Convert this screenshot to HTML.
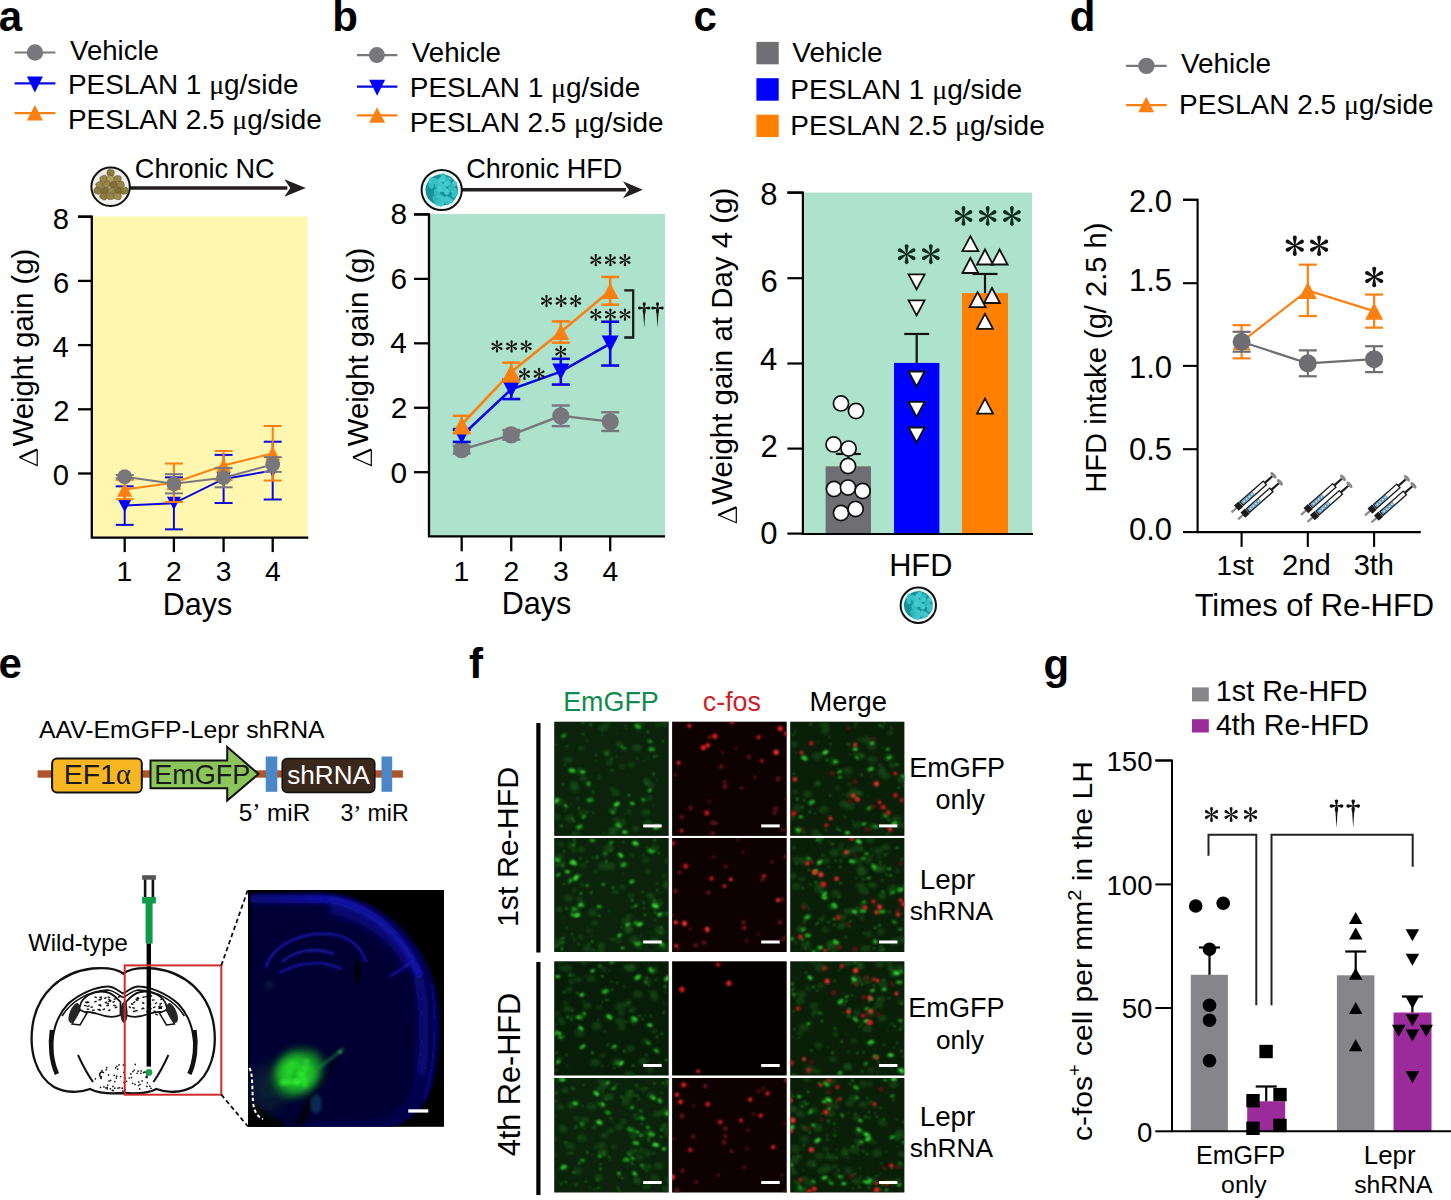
<!DOCTYPE html>
<html><head><meta charset="utf-8"><style>
html,body{margin:0;padding:0;background:#fff;overflow:hidden}
svg{display:block}
text{font-family:"Liberation Sans",sans-serif}
</style></head><body>
<svg width="1451" height="1200" viewBox="0 0 1451 1200">
<rect width="1451" height="1200" fill="#fff"/>
<defs><g id="ast"><path transform="rotate(0)" d="M-0.28,0 L-1.15,-4.6 A1.2,1.2 0 1 1 1.15,-4.6 L0.28,0 Z"/><path transform="rotate(60)" d="M-0.28,0 L-1.15,-4.6 A1.2,1.2 0 1 1 1.15,-4.6 L0.28,0 Z"/><path transform="rotate(120)" d="M-0.28,0 L-1.15,-4.6 A1.2,1.2 0 1 1 1.15,-4.6 L0.28,0 Z"/><path transform="rotate(180)" d="M-0.28,0 L-1.15,-4.6 A1.2,1.2 0 1 1 1.15,-4.6 L0.28,0 Z"/><path transform="rotate(240)" d="M-0.28,0 L-1.15,-4.6 A1.2,1.2 0 1 1 1.15,-4.6 L0.28,0 Z"/><path transform="rotate(300)" d="M-0.28,0 L-1.15,-4.6 A1.2,1.2 0 1 1 1.15,-4.6 L0.28,0 Z"/><circle r="0.7"/></g><g id="dag"><path d="M-0.35,6 L-1.5,2.1 A1.55,1.55 0 1 1 1.5,2.1 L0.35,6 Z"/><path d="M0,5.6 L-3.9,4.65 A1.55,1.55 0 1 0 -3.9,7.35 L0,6.4 Z"/><path d="M0,5.6 L3.9,4.65 A1.55,1.55 0 1 1 3.9,7.35 L0,6.4 Z"/><path d="M-0.4,6 L-1.4,7.6 C-1.7,9 -1.3,10.5 -0.9,12 L0,26 L0.9,12 C1.3,10.5 1.7,9 1.4,7.6 L0.4,6 Z"/></g><filter id="blur1" x="-50%" y="-50%" width="200%" height="200%"><feGaussianBlur stdDeviation="0.9"/></filter><filter id="blur2" x="-50%" y="-50%" width="200%" height="200%"><feGaussianBlur stdDeviation="1.6"/></filter><filter id="blur4" x="-50%" y="-50%" width="200%" height="200%"><feGaussianBlur stdDeviation="4"/></filter><filter id="blur8" x="-50%" y="-50%" width="200%" height="200%"><feGaussianBlur stdDeviation="8"/></filter></defs>
<text x="-1.20" y="31.00" font-size="42.00" font-family="Liberation Sans" font-weight="bold" fill="#000">a</text>
<line x1="14.60" y1="52.50" x2="55.40" y2="52.50" stroke="#78787c" stroke-width="2.2"/>
<circle cx="35.00" cy="52.50" r="8.20" fill="#78787c"/>
<line x1="14.60" y1="83.40" x2="55.40" y2="83.40" stroke="#0808e0" stroke-width="2.2"/>
<polygon points="26.90,76.40 42.90,76.40 34.90,92.40" fill="#0000ff"/>
<line x1="14.60" y1="113.20" x2="55.40" y2="113.20" stroke="#fb8012" stroke-width="2.2"/>
<polygon points="26.90,120.45 42.90,120.45 34.90,104.95" fill="#fb8012"/>
<text x="70.06" y="59.80" font-size="27.56" font-family="Liberation Sans" fill="#000">Vehicle</text>
<text x="67.97" y="93.80" font-size="27.92" font-family="Liberation Sans" fill="#000">PESLAN 1 <tspan font-family="Liberation Serif">μ</tspan>g/side</text>
<text x="67.97" y="128.60" font-size="27.90" font-family="Liberation Sans" fill="#000">PESLAN 2.5 <tspan font-family="Liberation Serif">μ</tspan>g/side</text>
<line x1="130.00" y1="188.00" x2="287.30" y2="188.00" stroke="#231f20" stroke-width="3.6"/>
<path d="M305.80,188.00 L284.30,179.30 L290.30,188.00 L284.30,196.70 Z" fill="#231f20"/>
<circle cx="110.60" cy="186.80" r="19.20" fill="#f1efee" stroke="#111" stroke-width="2.0"/>
<rect x="107.00" y="169.70" width="7.20" height="6.20" rx="2.20" fill="#8c7c3e" stroke="#6a5a28" stroke-width="0.6" transform="rotate(7 110.60 172.80)"/>
<rect x="100.00" y="175.70" width="7.20" height="6.20" rx="2.20" fill="#96864a" stroke="#6a5a28" stroke-width="0.6" transform="rotate(-22 103.60 178.80)"/>
<rect x="107.00" y="175.70" width="7.20" height="6.20" rx="2.20" fill="#b0a060" stroke="#6a5a28" stroke-width="0.6" transform="rotate(28 110.60 178.80)"/>
<rect x="114.00" y="175.70" width="7.20" height="6.20" rx="2.20" fill="#96864a" stroke="#6a5a28" stroke-width="0.6" transform="rotate(0 117.60 178.80)"/>
<rect x="96.00" y="181.70" width="7.20" height="6.20" rx="2.20" fill="#96864a" stroke="#6a5a28" stroke-width="0.6" transform="rotate(-26 99.60 184.80)"/>
<rect x="103.00" y="181.70" width="7.20" height="6.20" rx="2.20" fill="#96864a" stroke="#6a5a28" stroke-width="0.6" transform="rotate(-30 106.60 184.80)"/>
<rect x="110.00" y="181.70" width="7.20" height="6.20" rx="2.20" fill="#7f6f35" stroke="#6a5a28" stroke-width="0.6" transform="rotate(-14 113.60 184.80)"/>
<rect x="117.00" y="181.70" width="7.20" height="6.20" rx="2.20" fill="#96864a" stroke="#6a5a28" stroke-width="0.6" transform="rotate(-16 120.60 184.80)"/>
<rect x="94.00" y="187.70" width="7.20" height="6.20" rx="2.20" fill="#8c7c3e" stroke="#6a5a28" stroke-width="0.6" transform="rotate(15 97.60 190.80)"/>
<rect x="101.00" y="187.70" width="7.20" height="6.20" rx="2.20" fill="#7f6f35" stroke="#6a5a28" stroke-width="0.6" transform="rotate(4 104.60 190.80)"/>
<rect x="108.00" y="187.70" width="7.20" height="6.20" rx="2.20" fill="#96864a" stroke="#6a5a28" stroke-width="0.6" transform="rotate(0 111.60 190.80)"/>
<rect x="115.00" y="187.70" width="7.20" height="6.20" rx="2.20" fill="#7f6f35" stroke="#6a5a28" stroke-width="0.6" transform="rotate(10 118.60 190.80)"/>
<rect x="121.00" y="187.70" width="7.20" height="6.20" rx="2.20" fill="#8c7c3e" stroke="#6a5a28" stroke-width="0.6" transform="rotate(-16 124.60 190.80)"/>
<rect x="100.00" y="193.20" width="7.20" height="6.20" rx="2.20" fill="#8c7c3e" stroke="#6a5a28" stroke-width="0.6" transform="rotate(25 103.60 196.30)"/>
<rect x="107.00" y="193.20" width="7.20" height="6.20" rx="2.20" fill="#96864a" stroke="#6a5a28" stroke-width="0.6" transform="rotate(-6 110.60 196.30)"/>
<rect x="114.00" y="193.20" width="7.20" height="6.20" rx="2.20" fill="#a0904e" stroke="#6a5a28" stroke-width="0.6" transform="rotate(12 117.60 196.30)"/>
<text x="134.85" y="178.40" font-size="27.05" font-family="Liberation Sans" fill="#000">Chronic NC</text>
<rect x="93.00" y="216.50" width="214.50" height="320.50" fill="#fff6b0"/>
<path d="M78.00,216.70 H91.80 V537.60 H308.30" fill="none" stroke="#000" stroke-width="2.3"/>
<line x1="78.00" y1="216.70" x2="91.80" y2="216.70" stroke="#000" stroke-width="2.3"/>
<text x="52.86" y="228.77" font-size="29.20" font-family="Liberation Sans" fill="#000">8</text>
<line x1="78.00" y1="280.90" x2="91.80" y2="280.90" stroke="#000" stroke-width="2.3"/>
<text x="53.01" y="293.17" font-size="29.20" font-family="Liberation Sans" fill="#000">6</text>
<line x1="78.00" y1="345.10" x2="91.80" y2="345.10" stroke="#000" stroke-width="2.3"/>
<text x="52.57" y="357.07" font-size="29.20" font-family="Liberation Sans" fill="#000">4</text>
<line x1="78.00" y1="409.30" x2="91.80" y2="409.30" stroke="#000" stroke-width="2.3"/>
<text x="53.15" y="421.02" font-size="29.20" font-family="Liberation Sans" fill="#000">2</text>
<line x1="78.00" y1="473.50" x2="91.80" y2="473.50" stroke="#000" stroke-width="2.3"/>
<text x="52.86" y="484.87" font-size="29.20" font-family="Liberation Sans" fill="#000">0</text>
<line x1="124.70" y1="537.60" x2="124.70" y2="552.10" stroke="#000" stroke-width="2.3"/>
<line x1="173.90" y1="537.60" x2="173.90" y2="552.10" stroke="#000" stroke-width="2.3"/>
<line x1="223.60" y1="537.60" x2="223.60" y2="552.10" stroke="#000" stroke-width="2.3"/>
<line x1="272.70" y1="537.60" x2="272.70" y2="552.10" stroke="#000" stroke-width="2.3"/>
<polyline points="124.70,505.60 173.90,503.35 223.60,478.96 272.70,470.61" fill="none" stroke="#0808e0" stroke-width="2.0"/>
<line x1="124.70" y1="486.34" x2="124.70" y2="524.86" stroke="#0808e0" stroke-width="2.0"/>
<line x1="115.70" y1="486.34" x2="133.70" y2="486.34" stroke="#0808e0" stroke-width="2.0"/>
<line x1="115.70" y1="524.86" x2="133.70" y2="524.86" stroke="#0808e0" stroke-width="2.0"/>
<line x1="173.90" y1="477.35" x2="173.90" y2="529.35" stroke="#0808e0" stroke-width="2.0"/>
<line x1="164.90" y1="477.35" x2="182.90" y2="477.35" stroke="#0808e0" stroke-width="2.0"/>
<line x1="164.90" y1="529.35" x2="182.90" y2="529.35" stroke="#0808e0" stroke-width="2.0"/>
<line x1="223.60" y1="454.88" x2="223.60" y2="503.03" stroke="#0808e0" stroke-width="2.0"/>
<line x1="214.60" y1="454.88" x2="232.60" y2="454.88" stroke="#0808e0" stroke-width="2.0"/>
<line x1="214.60" y1="503.03" x2="232.60" y2="503.03" stroke="#0808e0" stroke-width="2.0"/>
<line x1="272.70" y1="441.72" x2="272.70" y2="499.50" stroke="#0808e0" stroke-width="2.0"/>
<line x1="263.70" y1="441.72" x2="281.70" y2="441.72" stroke="#0808e0" stroke-width="2.0"/>
<line x1="263.70" y1="499.50" x2="281.70" y2="499.50" stroke="#0808e0" stroke-width="2.0"/>
<polygon points="117.70,498.95 131.70,498.95 124.70,512.25" fill="#0000ff"/>
<polygon points="166.90,496.70 180.90,496.70 173.90,510.00" fill="#0000ff"/>
<polygon points="216.60,472.31 230.60,472.31 223.60,485.61" fill="#0000ff"/>
<polygon points="265.70,463.96 279.70,463.96 272.70,477.26" fill="#0000ff"/>
<polyline points="124.70,489.55 173.90,482.81 223.60,465.48 272.70,453.28" fill="none" stroke="#fb8012" stroke-width="2.0"/>
<line x1="124.70" y1="479.92" x2="124.70" y2="499.18" stroke="#fb8012" stroke-width="2.0"/>
<line x1="115.70" y1="479.92" x2="133.70" y2="479.92" stroke="#fb8012" stroke-width="2.0"/>
<line x1="115.70" y1="499.18" x2="133.70" y2="499.18" stroke="#fb8012" stroke-width="2.0"/>
<line x1="173.90" y1="463.55" x2="173.90" y2="502.07" stroke="#fb8012" stroke-width="2.0"/>
<line x1="164.90" y1="463.55" x2="182.90" y2="463.55" stroke="#fb8012" stroke-width="2.0"/>
<line x1="164.90" y1="502.07" x2="182.90" y2="502.07" stroke="#fb8012" stroke-width="2.0"/>
<line x1="223.60" y1="451.03" x2="223.60" y2="479.92" stroke="#fb8012" stroke-width="2.0"/>
<line x1="214.60" y1="451.03" x2="232.60" y2="451.03" stroke="#fb8012" stroke-width="2.0"/>
<line x1="214.60" y1="479.92" x2="232.60" y2="479.92" stroke="#fb8012" stroke-width="2.0"/>
<line x1="272.70" y1="425.99" x2="272.70" y2="480.56" stroke="#fb8012" stroke-width="2.0"/>
<line x1="263.70" y1="425.99" x2="281.70" y2="425.99" stroke="#fb8012" stroke-width="2.0"/>
<line x1="263.70" y1="480.56" x2="281.70" y2="480.56" stroke="#fb8012" stroke-width="2.0"/>
<polygon points="117.20,496.68 132.20,496.68 124.70,482.43" fill="#fb8012"/>
<polygon points="166.40,489.93 181.40,489.93 173.90,475.68" fill="#fb8012"/>
<polygon points="216.10,472.60 231.10,472.60 223.60,458.35" fill="#fb8012"/>
<polygon points="265.20,460.40 280.20,460.40 272.70,446.15" fill="#fb8012"/>
<polyline points="124.70,476.71 173.90,483.77 223.60,477.67 272.70,464.51" fill="none" stroke="#78787c" stroke-width="2.0"/>
<line x1="124.70" y1="475.11" x2="124.70" y2="478.31" stroke="#78787c" stroke-width="2.0"/>
<line x1="115.70" y1="475.11" x2="133.70" y2="475.11" stroke="#78787c" stroke-width="2.0"/>
<line x1="115.70" y1="478.31" x2="133.70" y2="478.31" stroke="#78787c" stroke-width="2.0"/>
<line x1="173.90" y1="474.14" x2="173.90" y2="493.40" stroke="#78787c" stroke-width="2.0"/>
<line x1="164.90" y1="474.14" x2="182.90" y2="474.14" stroke="#78787c" stroke-width="2.0"/>
<line x1="164.90" y1="493.40" x2="182.90" y2="493.40" stroke="#78787c" stroke-width="2.0"/>
<line x1="223.60" y1="468.04" x2="223.60" y2="487.30" stroke="#78787c" stroke-width="2.0"/>
<line x1="214.60" y1="468.04" x2="232.60" y2="468.04" stroke="#78787c" stroke-width="2.0"/>
<line x1="214.60" y1="487.30" x2="232.60" y2="487.30" stroke="#78787c" stroke-width="2.0"/>
<line x1="272.70" y1="457.13" x2="272.70" y2="471.89" stroke="#78787c" stroke-width="2.0"/>
<line x1="263.70" y1="457.13" x2="281.70" y2="457.13" stroke="#78787c" stroke-width="2.0"/>
<line x1="263.70" y1="471.89" x2="281.70" y2="471.89" stroke="#78787c" stroke-width="2.0"/>
<circle cx="124.70" cy="476.71" r="7.40" fill="#78787c"/>
<circle cx="173.90" cy="483.77" r="7.40" fill="#78787c"/>
<circle cx="223.60" cy="477.67" r="7.40" fill="#78787c"/>
<circle cx="272.70" cy="464.51" r="7.40" fill="#78787c"/>
<text x="116.49" y="581.40" font-size="28.30" font-family="Liberation Sans" fill="#000">1</text>
<text x="166.05" y="581.40" font-size="28.30" font-family="Liberation Sans" fill="#000">2</text>
<text x="215.82" y="581.40" font-size="28.30" font-family="Liberation Sans" fill="#000">3</text>
<text x="264.92" y="581.40" font-size="28.30" font-family="Liberation Sans" fill="#000">4</text>
<text x="162.74" y="614.50" font-size="30.50" font-family="Liberation Sans" fill="#000">Days</text>
<text transform="translate(33.30,446.15) rotate(-90)" x="0" y="0" font-size="29.20" font-family="Liberation Sans" fill="#000">Weight gain (g)</text>
<path d="M19.50,457.50 L37.20,465.50 L37.20,449.50" fill="none" stroke="#000" stroke-width="1.2" stroke-linejoin="miter"/>
<path d="M19.50,457.50 L37.20,449.50" fill="none" stroke="#000" stroke-width="2.2"/>
<text x="332.30" y="31.00" font-size="42.00" font-family="Liberation Sans" font-weight="bold" fill="#000">b</text>
<line x1="357.00" y1="55.10" x2="397.40" y2="55.10" stroke="#78787c" stroke-width="2.2"/>
<circle cx="376.90" cy="55.10" r="8.00" fill="#78787c"/>
<line x1="357.00" y1="86.70" x2="397.40" y2="86.70" stroke="#0808e0" stroke-width="2.2"/>
<polygon points="369.10,79.70 385.10,79.70 377.10,95.70" fill="#0000ff"/>
<line x1="357.00" y1="115.40" x2="397.40" y2="115.40" stroke="#fb8012" stroke-width="2.2"/>
<polygon points="369.10,122.65 385.10,122.65 377.10,107.15" fill="#fb8012"/>
<text x="411.86" y="62.10" font-size="27.65" font-family="Liberation Sans" fill="#000">Vehicle</text>
<text x="409.77" y="96.70" font-size="27.92" font-family="Liberation Sans" fill="#000">PESLAN 1 <tspan font-family="Liberation Serif">μ</tspan>g/side</text>
<text x="409.77" y="132.40" font-size="27.90" font-family="Liberation Sans" fill="#000">PESLAN 2.5 <tspan font-family="Liberation Serif">μ</tspan>g/side</text>
<line x1="462.00" y1="189.80" x2="625.90" y2="189.80" stroke="#231f20" stroke-width="3.6"/>
<path d="M642.80,189.80 L622.90,181.30 L628.90,189.80 L622.90,198.30 Z" fill="#231f20"/>
<circle cx="441.70" cy="190.00" r="20.10" fill="#eef8f8" stroke="#111" stroke-width="2.0"/>
<ellipse cx="441.70" cy="190.00" rx="16.19" ry="15.67" fill="#17929a"/>
<ellipse cx="433.00" cy="181.53" rx="3.13" ry="2.51" fill="#3fc8ca" transform="rotate(7 433.00 181.53)"/>
<ellipse cx="448.38" cy="179.53" rx="3.13" ry="2.51" fill="#2eb6bb" transform="rotate(166 448.38 179.53)"/>
<ellipse cx="446.99" cy="191.79" rx="3.13" ry="2.51" fill="#46cccf" transform="rotate(120 446.99 191.79)"/>
<ellipse cx="447.59" cy="183.60" rx="3.13" ry="2.51" fill="#38c2c6" transform="rotate(146 447.59 183.60)"/>
<ellipse cx="441.75" cy="202.06" rx="3.13" ry="2.51" fill="#31bcc0" transform="rotate(71 441.75 202.06)"/>
<ellipse cx="447.14" cy="201.96" rx="3.13" ry="2.51" fill="#31bcc0" transform="rotate(40 447.14 201.96)"/>
<ellipse cx="441.98" cy="186.23" rx="3.13" ry="2.51" fill="#3fc8ca" transform="rotate(158 441.98 186.23)"/>
<ellipse cx="436.88" cy="191.74" rx="3.13" ry="2.51" fill="#38c2c6" transform="rotate(53 436.88 191.74)"/>
<ellipse cx="443.74" cy="176.33" rx="3.13" ry="2.51" fill="#2eb6bb" transform="rotate(42 443.74 176.33)"/>
<ellipse cx="438.32" cy="203.41" rx="3.13" ry="2.51" fill="#3fc8ca" transform="rotate(173 438.32 203.41)"/>
<ellipse cx="437.47" cy="185.73" rx="3.13" ry="2.51" fill="#2eb6bb" transform="rotate(98 437.47 185.73)"/>
<ellipse cx="439.14" cy="198.08" rx="3.13" ry="2.51" fill="#2eb6bb" transform="rotate(37 439.14 198.08)"/>
<ellipse cx="441.00" cy="198.09" rx="3.13" ry="2.51" fill="#3fc8ca" transform="rotate(150 441.00 198.09)"/>
<ellipse cx="453.31" cy="190.25" rx="3.13" ry="2.51" fill="#46cccf" transform="rotate(16 453.31 190.25)"/>
<ellipse cx="437.01" cy="201.86" rx="3.13" ry="2.51" fill="#31bcc0" transform="rotate(178 437.01 201.86)"/>
<ellipse cx="437.77" cy="198.96" rx="3.13" ry="2.51" fill="#2eb6bb" transform="rotate(14 437.77 198.96)"/>
<ellipse cx="441.17" cy="203.65" rx="3.13" ry="2.51" fill="#46cccf" transform="rotate(103 441.17 203.65)"/>
<ellipse cx="454.14" cy="191.42" rx="3.13" ry="2.51" fill="#46cccf" transform="rotate(96 454.14 191.42)"/>
<ellipse cx="440.52" cy="189.36" rx="3.13" ry="2.51" fill="#38c2c6" transform="rotate(46 440.52 189.36)"/>
<ellipse cx="431.88" cy="180.34" rx="3.13" ry="2.51" fill="#38c2c6" transform="rotate(62 431.88 180.34)"/>
<ellipse cx="454.07" cy="184.15" rx="3.13" ry="2.51" fill="#46cccf" transform="rotate(131 454.07 184.15)"/>
<ellipse cx="435.45" cy="198.08" rx="3.13" ry="2.51" fill="#31bcc0" transform="rotate(27 435.45 198.08)"/>
<ellipse cx="431.17" cy="183.34" rx="3.13" ry="2.51" fill="#46cccf" transform="rotate(75 431.17 183.34)"/>
<ellipse cx="455.05" cy="193.13" rx="3.13" ry="2.51" fill="#38c2c6" transform="rotate(53 455.05 193.13)"/>
<ellipse cx="435.75" cy="199.28" rx="3.13" ry="2.51" fill="#2eb6bb" transform="rotate(87 435.75 199.28)"/>
<ellipse cx="439.80" cy="201.67" rx="3.13" ry="2.51" fill="#38c2c6" transform="rotate(79 439.80 201.67)"/>
<ellipse cx="438.64" cy="182.82" rx="3.13" ry="2.51" fill="#38c2c6" transform="rotate(160 438.64 182.82)"/>
<ellipse cx="448.65" cy="199.42" rx="3.13" ry="2.51" fill="#31bcc0" transform="rotate(41 448.65 199.42)"/>
<ellipse cx="440.95" cy="186.06" rx="3.13" ry="2.51" fill="#3fc8ca" transform="rotate(136 440.95 186.06)"/>
<ellipse cx="443.93" cy="188.84" rx="3.13" ry="2.51" fill="#3fc8ca" transform="rotate(88 443.93 188.84)"/>
<ellipse cx="446.09" cy="181.55" rx="3.13" ry="2.51" fill="#31bcc0" transform="rotate(37 446.09 181.55)"/>
<ellipse cx="454.38" cy="194.63" rx="3.13" ry="2.51" fill="#38c2c6" transform="rotate(126 454.38 194.63)"/>
<ellipse cx="438.46" cy="195.54" rx="3.13" ry="2.51" fill="#3fc8ca" transform="rotate(33 438.46 195.54)"/>
<ellipse cx="433.15" cy="180.85" rx="3.13" ry="2.51" fill="#38c2c6" transform="rotate(43 433.15 180.85)"/>
<ellipse cx="436.71" cy="192.18" rx="3.13" ry="2.51" fill="#31bcc0" transform="rotate(75 436.71 192.18)"/>
<ellipse cx="450.25" cy="200.50" rx="3.13" ry="2.51" fill="#3fc8ca" transform="rotate(43 450.25 200.50)"/>
<ellipse cx="451.09" cy="188.57" rx="3.13" ry="2.51" fill="#31bcc0" transform="rotate(176 451.09 188.57)"/>
<ellipse cx="440.45" cy="180.32" rx="3.13" ry="2.51" fill="#46cccf" transform="rotate(120 440.45 180.32)"/>
<ellipse cx="437.26" cy="193.07" rx="3.13" ry="2.51" fill="#31bcc0" transform="rotate(136 437.26 193.07)"/>
<ellipse cx="452.51" cy="187.21" rx="3.13" ry="2.51" fill="#31bcc0" transform="rotate(86 452.51 187.21)"/>
<ellipse cx="445.90" cy="198.95" rx="3.13" ry="2.51" fill="#3fc8ca" transform="rotate(140 445.90 198.95)"/>
<ellipse cx="447.40" cy="183.73" rx="3.13" ry="2.51" fill="#46cccf" transform="rotate(177 447.40 183.73)"/>
<ellipse cx="439.47" cy="188.64" rx="3.13" ry="2.51" fill="#46cccf" transform="rotate(93 439.47 188.64)"/>
<ellipse cx="430.96" cy="185.80" rx="3.13" ry="2.51" fill="#31bcc0" transform="rotate(67 430.96 185.80)"/>
<ellipse cx="443.15" cy="178.37" rx="3.13" ry="2.51" fill="#46cccf" transform="rotate(87 443.15 178.37)"/>
<ellipse cx="435.37" cy="181.32" rx="3.13" ry="2.51" fill="#38c2c6" transform="rotate(121 435.37 181.32)"/>
<text x="466.15" y="178.20" font-size="27.02" font-family="Liberation Sans" fill="#000">Chronic HFD</text>
<rect x="430.00" y="214.00" width="235.00" height="322.00" fill="#ade3cd"/>
<path d="M414.00,214.40 H429.00 V536.30 H665.00" fill="none" stroke="#000" stroke-width="2.3"/>
<line x1="414.00" y1="214.44" x2="429.00" y2="214.44" stroke="#000" stroke-width="2.3"/>
<text x="390.45" y="224.18" font-size="29.80" font-family="Liberation Sans" fill="#000">8</text>
<line x1="414.00" y1="278.88" x2="429.00" y2="278.88" stroke="#000" stroke-width="2.3"/>
<text x="390.60" y="289.38" font-size="29.80" font-family="Liberation Sans" fill="#000">6</text>
<line x1="414.00" y1="343.32" x2="429.00" y2="343.32" stroke="#000" stroke-width="2.3"/>
<text x="390.16" y="353.48" font-size="29.80" font-family="Liberation Sans" fill="#000">4</text>
<line x1="414.00" y1="407.76" x2="429.00" y2="407.76" stroke="#000" stroke-width="2.3"/>
<text x="390.75" y="417.63" font-size="29.80" font-family="Liberation Sans" fill="#000">2</text>
<line x1="414.00" y1="472.20" x2="429.00" y2="472.20" stroke="#000" stroke-width="2.3"/>
<text x="390.45" y="482.68" font-size="29.80" font-family="Liberation Sans" fill="#000">0</text>
<line x1="461.70" y1="536.30" x2="461.70" y2="551.30" stroke="#000" stroke-width="2.3"/>
<line x1="511.25" y1="536.30" x2="511.25" y2="551.30" stroke="#000" stroke-width="2.3"/>
<line x1="560.80" y1="536.30" x2="560.80" y2="551.30" stroke="#000" stroke-width="2.3"/>
<line x1="610.20" y1="536.30" x2="610.20" y2="551.30" stroke="#000" stroke-width="2.3"/>
<polyline points="461.70,449.65 511.25,434.82 560.80,415.81 610.20,421.61" fill="none" stroke="#78787c" stroke-width="2.4"/>
<line x1="461.70" y1="445.78" x2="461.70" y2="453.51" stroke="#78787c" stroke-width="2.4"/>
<line x1="452.70" y1="445.78" x2="470.70" y2="445.78" stroke="#78787c" stroke-width="2.4"/>
<line x1="452.70" y1="453.51" x2="470.70" y2="453.51" stroke="#78787c" stroke-width="2.4"/>
<line x1="511.25" y1="429.99" x2="511.25" y2="439.66" stroke="#78787c" stroke-width="2.4"/>
<line x1="502.25" y1="429.99" x2="520.25" y2="429.99" stroke="#78787c" stroke-width="2.4"/>
<line x1="502.25" y1="439.66" x2="520.25" y2="439.66" stroke="#78787c" stroke-width="2.4"/>
<line x1="560.80" y1="405.50" x2="560.80" y2="426.13" stroke="#78787c" stroke-width="2.4"/>
<line x1="551.80" y1="405.50" x2="569.80" y2="405.50" stroke="#78787c" stroke-width="2.4"/>
<line x1="551.80" y1="426.13" x2="569.80" y2="426.13" stroke="#78787c" stroke-width="2.4"/>
<line x1="610.20" y1="412.27" x2="610.20" y2="430.96" stroke="#78787c" stroke-width="2.4"/>
<line x1="601.20" y1="412.27" x2="619.20" y2="412.27" stroke="#78787c" stroke-width="2.4"/>
<line x1="601.20" y1="430.96" x2="619.20" y2="430.96" stroke="#78787c" stroke-width="2.4"/>
<circle cx="461.70" cy="449.65" r="8.60" fill="#78787c"/>
<circle cx="511.25" cy="434.82" r="8.60" fill="#78787c"/>
<circle cx="560.80" cy="415.81" r="8.60" fill="#78787c"/>
<circle cx="610.20" cy="421.61" r="8.60" fill="#78787c"/>
<polyline points="461.70,435.79 511.25,389.39 560.80,371.67 610.20,343.64" fill="none" stroke="#0808e0" stroke-width="2.6"/>
<line x1="461.70" y1="429.67" x2="461.70" y2="441.91" stroke="#0808e0" stroke-width="2.6"/>
<line x1="452.70" y1="429.67" x2="470.70" y2="429.67" stroke="#0808e0" stroke-width="2.6"/>
<line x1="452.70" y1="441.91" x2="470.70" y2="441.91" stroke="#0808e0" stroke-width="2.6"/>
<line x1="511.25" y1="379.73" x2="511.25" y2="399.06" stroke="#0808e0" stroke-width="2.6"/>
<line x1="502.25" y1="379.73" x2="520.25" y2="379.73" stroke="#0808e0" stroke-width="2.6"/>
<line x1="502.25" y1="399.06" x2="520.25" y2="399.06" stroke="#0808e0" stroke-width="2.6"/>
<line x1="560.80" y1="358.79" x2="560.80" y2="384.56" stroke="#0808e0" stroke-width="2.6"/>
<line x1="551.80" y1="358.79" x2="569.80" y2="358.79" stroke="#0808e0" stroke-width="2.6"/>
<line x1="551.80" y1="384.56" x2="569.80" y2="384.56" stroke="#0808e0" stroke-width="2.6"/>
<line x1="610.20" y1="321.73" x2="610.20" y2="365.55" stroke="#0808e0" stroke-width="2.6"/>
<line x1="601.20" y1="321.73" x2="619.20" y2="321.73" stroke="#0808e0" stroke-width="2.6"/>
<line x1="601.20" y1="365.55" x2="619.20" y2="365.55" stroke="#0808e0" stroke-width="2.6"/>
<polygon points="453.20,427.72 470.20,427.72 461.70,443.87" fill="#0000ff"/>
<polygon points="502.75,381.32 519.75,381.32 511.25,397.47" fill="#0000ff"/>
<polygon points="552.30,363.60 569.30,363.60 560.80,379.75" fill="#0000ff"/>
<polygon points="601.70,335.57 618.70,335.57 610.20,351.72" fill="#0000ff"/>
<polyline points="461.70,424.51 511.25,372.00 560.80,332.04 610.20,290.80" fill="none" stroke="#fb8012" stroke-width="2.6"/>
<line x1="461.70" y1="415.81" x2="461.70" y2="433.21" stroke="#fb8012" stroke-width="2.6"/>
<line x1="452.70" y1="415.81" x2="470.70" y2="415.81" stroke="#fb8012" stroke-width="2.6"/>
<line x1="452.70" y1="433.21" x2="470.70" y2="433.21" stroke="#fb8012" stroke-width="2.6"/>
<line x1="511.25" y1="362.65" x2="511.25" y2="381.34" stroke="#fb8012" stroke-width="2.6"/>
<line x1="502.25" y1="362.65" x2="520.25" y2="362.65" stroke="#fb8012" stroke-width="2.6"/>
<line x1="502.25" y1="381.34" x2="520.25" y2="381.34" stroke="#fb8012" stroke-width="2.6"/>
<line x1="560.80" y1="321.41" x2="560.80" y2="342.68" stroke="#fb8012" stroke-width="2.6"/>
<line x1="551.80" y1="321.41" x2="569.80" y2="321.41" stroke="#fb8012" stroke-width="2.6"/>
<line x1="551.80" y1="342.68" x2="569.80" y2="342.68" stroke="#fb8012" stroke-width="2.6"/>
<line x1="610.20" y1="276.95" x2="610.20" y2="304.66" stroke="#fb8012" stroke-width="2.6"/>
<line x1="601.20" y1="276.95" x2="619.20" y2="276.95" stroke="#fb8012" stroke-width="2.6"/>
<line x1="601.20" y1="304.66" x2="619.20" y2="304.66" stroke="#fb8012" stroke-width="2.6"/>
<polygon points="453.20,432.59 470.20,432.59 461.70,416.44" fill="#fb8012"/>
<polygon points="502.75,380.07 519.75,380.07 511.25,363.92" fill="#fb8012"/>
<polygon points="552.30,340.12 569.30,340.12 560.80,323.97" fill="#fb8012"/>
<polygon points="601.70,298.88 618.70,298.88 610.20,282.73" fill="#fb8012"/>
<text x="453.49" y="580.60" font-size="28.30" font-family="Liberation Sans" fill="#000">1</text>
<text x="503.40" y="580.60" font-size="28.30" font-family="Liberation Sans" fill="#000">2</text>
<text x="553.02" y="580.60" font-size="28.30" font-family="Liberation Sans" fill="#000">3</text>
<text x="602.42" y="580.60" font-size="28.30" font-family="Liberation Sans" fill="#000">4</text>
<text x="501.74" y="614.00" font-size="30.50" font-family="Liberation Sans" fill="#000">Days</text>
<text transform="translate(367.70,446.15) rotate(-90)" x="0" y="0" font-size="29.35" font-family="Liberation Sans" fill="#000">Weight gain (g)</text>
<path d="M353.00,457.50 L371.30,465.50 L371.30,449.50" fill="none" stroke="#000" stroke-width="1.2" stroke-linejoin="miter"/>
<path d="M353.00,457.50 L371.30,449.50" fill="none" stroke="#000" stroke-width="2.2"/>
<use href="#ast" transform="translate(595.80,260.20) scale(1.000)" fill="#111"/>
<use href="#ast" transform="translate(610.40,260.20) scale(1.000)" fill="#111"/>
<use href="#ast" transform="translate(625.00,260.20) scale(1.000)" fill="#111"/>
<use href="#ast" transform="translate(546.50,301.00) scale(1.000)" fill="#111"/>
<use href="#ast" transform="translate(561.10,301.00) scale(1.000)" fill="#111"/>
<use href="#ast" transform="translate(575.70,301.00) scale(1.000)" fill="#111"/>
<use href="#ast" transform="translate(497.00,346.30) scale(1.000)" fill="#111"/>
<use href="#ast" transform="translate(511.60,346.30) scale(1.000)" fill="#111"/>
<use href="#ast" transform="translate(526.20,346.30) scale(1.000)" fill="#111"/>
<use href="#ast" transform="translate(524.50,374.00) scale(1.000)" fill="#111"/>
<use href="#ast" transform="translate(539.10,374.00) scale(1.000)" fill="#111"/>
<use href="#ast" transform="translate(560.80,351.70) scale(1.000)" fill="#111"/>
<use href="#ast" transform="translate(595.80,314.60) scale(1.000)" fill="#111"/>
<use href="#ast" transform="translate(610.40,314.60) scale(1.000)" fill="#111"/>
<use href="#ast" transform="translate(625.00,314.60) scale(1.000)" fill="#111"/>
<path d="M624.2,290.4 H633.2 V337.5 H624.2" fill="none" stroke="#1a1a1a" stroke-width="2.3"/>
<use href="#dag" transform="translate(644.20,302.00) scale(1.000)" fill="#111"/>
<use href="#dag" transform="translate(657.50,302.00) scale(1.000)" fill="#111"/>
<text x="693.52" y="31.20" font-size="42.00" font-family="Liberation Sans" font-weight="bold" fill="#000">c</text>
<rect x="756.40" y="41.90" width="22.30" height="22.40" fill="#6f6e73"/>
<rect x="756.40" y="78.20" width="22.30" height="22.50" fill="#0000ff"/>
<rect x="756.40" y="114.70" width="22.30" height="22.30" fill="#ff7f00"/>
<text x="792.36" y="61.80" font-size="27.97" font-family="Liberation Sans" fill="#000">Vehicle</text>
<text x="790.25" y="98.90" font-size="28.06" font-family="Liberation Sans" fill="#000">PESLAN 1 <tspan font-family="Liberation Serif">μ</tspan>g/side</text>
<text x="790.26" y="135.20" font-size="27.97" font-family="Liberation Sans" fill="#000">PESLAN 2.5 <tspan font-family="Liberation Serif">μ</tspan>g/side</text>
<rect x="804.00" y="192.50" width="228.00" height="341.00" fill="#ade3cd"/>
<rect x="825.60" y="466.30" width="45.40" height="66.80" fill="#6f6e73"/>
<rect x="894.00" y="362.90" width="45.40" height="170.20" fill="#0000ff"/>
<rect x="962.00" y="293.12" width="46.00" height="239.98" fill="#ff7f00"/>
<line x1="848.30" y1="466.30" x2="848.30" y2="453.96" stroke="#111" stroke-width="2.2"/>
<line x1="835.80" y1="453.96" x2="860.80" y2="453.96" stroke="#111" stroke-width="2.2"/>
<line x1="916.70" y1="362.90" x2="916.70" y2="333.97" stroke="#111" stroke-width="2.2"/>
<line x1="904.20" y1="333.97" x2="929.20" y2="333.97" stroke="#111" stroke-width="2.2"/>
<line x1="985.00" y1="293.12" x2="985.00" y2="273.97" stroke="#111" stroke-width="2.2"/>
<line x1="972.50" y1="273.97" x2="997.50" y2="273.97" stroke="#111" stroke-width="2.2"/>
<path d="M787.40,192.70 H802.90 V534.00 H1033.00" fill="none" stroke="#000" stroke-width="2.2"/>
<line x1="787.40" y1="192.60" x2="802.90" y2="192.60" stroke="#000" stroke-width="2.2"/>
<text x="760.24" y="204.59" font-size="31.00" font-family="Liberation Sans" fill="#000">8</text>
<line x1="787.40" y1="278.20" x2="802.90" y2="278.20" stroke="#000" stroke-width="2.2"/>
<text x="760.39" y="292.19" font-size="31.00" font-family="Liberation Sans" fill="#000">6</text>
<line x1="787.40" y1="363.50" x2="802.90" y2="363.50" stroke="#000" stroke-width="2.2"/>
<text x="759.93" y="370.39" font-size="31.00" font-family="Liberation Sans" fill="#000">4</text>
<line x1="787.40" y1="448.60" x2="802.90" y2="448.60" stroke="#000" stroke-width="2.2"/>
<text x="760.55" y="457.15" font-size="31.00" font-family="Liberation Sans" fill="#000">2</text>
<line x1="787.40" y1="533.60" x2="802.90" y2="533.60" stroke="#000" stroke-width="2.2"/>
<text x="760.24" y="544.20" font-size="31.00" font-family="Liberation Sans" fill="#000">0</text>
<circle cx="841.00" cy="403.40" r="7.60" fill="#fff" stroke="#111" stroke-width="1.7"/>
<circle cx="856.00" cy="411.00" r="7.60" fill="#fff" stroke="#111" stroke-width="1.7"/>
<circle cx="833.60" cy="444.40" r="7.60" fill="#fff" stroke="#111" stroke-width="1.7"/>
<circle cx="848.60" cy="448.60" r="7.60" fill="#fff" stroke="#111" stroke-width="1.7"/>
<circle cx="848.00" cy="466.00" r="7.60" fill="#fff" stroke="#111" stroke-width="1.7"/>
<circle cx="834.00" cy="489.00" r="7.60" fill="#fff" stroke="#111" stroke-width="1.7"/>
<circle cx="848.00" cy="487.60" r="7.60" fill="#fff" stroke="#111" stroke-width="1.7"/>
<circle cx="862.60" cy="491.00" r="7.60" fill="#fff" stroke="#111" stroke-width="1.7"/>
<circle cx="841.00" cy="513.00" r="7.60" fill="#fff" stroke="#111" stroke-width="1.7"/>
<circle cx="855.60" cy="509.00" r="7.60" fill="#fff" stroke="#111" stroke-width="1.7"/>
<polygon points="908.60,274.30 924.60,274.30 916.60,289.30" fill="#fff" stroke="#111" stroke-width="1.8" stroke-linejoin="miter"/>
<polygon points="908.60,300.30 924.60,300.30 916.60,315.30" fill="#fff" stroke="#111" stroke-width="1.8" stroke-linejoin="miter"/>
<polygon points="908.60,371.50 924.60,371.50 916.60,386.50" fill="#fff" stroke="#111" stroke-width="1.8" stroke-linejoin="miter"/>
<polygon points="908.60,401.80 924.60,401.80 916.60,416.80" fill="#fff" stroke="#111" stroke-width="1.8" stroke-linejoin="miter"/>
<polygon points="908.60,427.50 924.60,427.50 916.60,442.50" fill="#fff" stroke="#111" stroke-width="1.8" stroke-linejoin="miter"/>
<polygon points="962.40,251.20 978.40,251.20 970.40,236.20" fill="#fff" stroke="#111" stroke-width="1.8" stroke-linejoin="miter"/>
<polygon points="977.00,264.50 993.00,264.50 985.00,249.50" fill="#fff" stroke="#111" stroke-width="1.8" stroke-linejoin="miter"/>
<polygon points="991.60,264.50 1007.60,264.50 999.60,249.50" fill="#fff" stroke="#111" stroke-width="1.8" stroke-linejoin="miter"/>
<polygon points="962.40,273.00 978.40,273.00 970.40,258.00" fill="#fff" stroke="#111" stroke-width="1.8" stroke-linejoin="miter"/>
<polygon points="969.60,307.20 985.60,307.20 977.60,292.20" fill="#fff" stroke="#111" stroke-width="1.8" stroke-linejoin="miter"/>
<polygon points="984.00,303.00 1000.00,303.00 992.00,288.00" fill="#fff" stroke="#111" stroke-width="1.8" stroke-linejoin="miter"/>
<polygon points="977.00,328.80 993.00,328.80 985.00,313.80" fill="#fff" stroke="#111" stroke-width="1.8" stroke-linejoin="miter"/>
<polygon points="977.00,413.70 993.00,413.70 985.00,398.70" fill="#fff" stroke="#111" stroke-width="1.8" stroke-linejoin="miter"/>
<use href="#ast" transform="translate(906.60,254.20) scale(1.617)" fill="#0a2c1c"/>
<use href="#ast" transform="translate(930.80,254.20) scale(1.617)" fill="#0a2c1c"/>
<use href="#ast" transform="translate(963.50,216.00) scale(1.608)" fill="#0a2c1c"/>
<use href="#ast" transform="translate(987.70,216.00) scale(1.608)" fill="#0a2c1c"/>
<use href="#ast" transform="translate(1011.90,216.00) scale(1.608)" fill="#0a2c1c"/>
<text x="889.14" y="576.00" font-size="30.78" font-family="Liberation Sans" fill="#000">HFD</text>
<circle cx="918.30" cy="605.20" r="17.70" fill="#eef8f8" stroke="#111" stroke-width="2.0"/>
<ellipse cx="918.30" cy="605.20" rx="14.35" ry="13.89" fill="#17929a"/>
<ellipse cx="910.59" cy="597.69" rx="2.78" ry="2.22" fill="#3fc8ca" transform="rotate(7 910.59 597.69)"/>
<ellipse cx="924.22" cy="595.92" rx="2.78" ry="2.22" fill="#2eb6bb" transform="rotate(166 924.22 595.92)"/>
<ellipse cx="922.99" cy="606.78" rx="2.78" ry="2.22" fill="#46cccf" transform="rotate(120 922.99 606.78)"/>
<ellipse cx="923.52" cy="599.53" rx="2.78" ry="2.22" fill="#38c2c6" transform="rotate(146 923.52 599.53)"/>
<ellipse cx="918.34" cy="615.89" rx="2.78" ry="2.22" fill="#31bcc0" transform="rotate(71 918.34 615.89)"/>
<ellipse cx="923.12" cy="615.80" rx="2.78" ry="2.22" fill="#31bcc0" transform="rotate(40 923.12 615.80)"/>
<ellipse cx="918.55" cy="601.86" rx="2.78" ry="2.22" fill="#3fc8ca" transform="rotate(158 918.55 601.86)"/>
<ellipse cx="914.03" cy="606.74" rx="2.78" ry="2.22" fill="#38c2c6" transform="rotate(53 914.03 606.74)"/>
<ellipse cx="920.11" cy="593.09" rx="2.78" ry="2.22" fill="#2eb6bb" transform="rotate(42 920.11 593.09)"/>
<ellipse cx="915.30" cy="617.08" rx="2.78" ry="2.22" fill="#3fc8ca" transform="rotate(173 915.30 617.08)"/>
<ellipse cx="914.55" cy="601.42" rx="2.78" ry="2.22" fill="#2eb6bb" transform="rotate(98 914.55 601.42)"/>
<ellipse cx="916.03" cy="612.36" rx="2.78" ry="2.22" fill="#2eb6bb" transform="rotate(37 916.03 612.36)"/>
<ellipse cx="917.68" cy="612.37" rx="2.78" ry="2.22" fill="#3fc8ca" transform="rotate(150 917.68 612.37)"/>
<ellipse cx="928.59" cy="605.42" rx="2.78" ry="2.22" fill="#46cccf" transform="rotate(16 928.59 605.42)"/>
<ellipse cx="914.14" cy="615.71" rx="2.78" ry="2.22" fill="#31bcc0" transform="rotate(178 914.14 615.71)"/>
<ellipse cx="914.82" cy="613.14" rx="2.78" ry="2.22" fill="#2eb6bb" transform="rotate(14 914.82 613.14)"/>
<ellipse cx="917.83" cy="617.30" rx="2.78" ry="2.22" fill="#46cccf" transform="rotate(103 917.83 617.30)"/>
<ellipse cx="929.32" cy="606.46" rx="2.78" ry="2.22" fill="#46cccf" transform="rotate(96 929.32 606.46)"/>
<ellipse cx="917.25" cy="604.64" rx="2.78" ry="2.22" fill="#38c2c6" transform="rotate(46 917.25 604.64)"/>
<ellipse cx="909.60" cy="596.64" rx="2.78" ry="2.22" fill="#38c2c6" transform="rotate(62 909.60 596.64)"/>
<ellipse cx="929.26" cy="600.01" rx="2.78" ry="2.22" fill="#46cccf" transform="rotate(131 929.26 600.01)"/>
<ellipse cx="912.76" cy="612.36" rx="2.78" ry="2.22" fill="#31bcc0" transform="rotate(27 912.76 612.36)"/>
<ellipse cx="908.97" cy="599.30" rx="2.78" ry="2.22" fill="#46cccf" transform="rotate(75 908.97 599.30)"/>
<ellipse cx="930.13" cy="607.97" rx="2.78" ry="2.22" fill="#38c2c6" transform="rotate(53 930.13 607.97)"/>
<ellipse cx="913.03" cy="613.42" rx="2.78" ry="2.22" fill="#2eb6bb" transform="rotate(87 913.03 613.42)"/>
<ellipse cx="916.62" cy="615.54" rx="2.78" ry="2.22" fill="#38c2c6" transform="rotate(79 916.62 615.54)"/>
<ellipse cx="915.59" cy="598.84" rx="2.78" ry="2.22" fill="#38c2c6" transform="rotate(160 915.59 598.84)"/>
<ellipse cx="924.46" cy="613.55" rx="2.78" ry="2.22" fill="#31bcc0" transform="rotate(41 924.46 613.55)"/>
<ellipse cx="917.64" cy="601.71" rx="2.78" ry="2.22" fill="#3fc8ca" transform="rotate(136 917.64 601.71)"/>
<ellipse cx="920.28" cy="604.17" rx="2.78" ry="2.22" fill="#3fc8ca" transform="rotate(88 920.28 604.17)"/>
<ellipse cx="922.19" cy="597.71" rx="2.78" ry="2.22" fill="#31bcc0" transform="rotate(37 922.19 597.71)"/>
<ellipse cx="929.54" cy="609.30" rx="2.78" ry="2.22" fill="#38c2c6" transform="rotate(126 929.54 609.30)"/>
<ellipse cx="915.43" cy="610.11" rx="2.78" ry="2.22" fill="#3fc8ca" transform="rotate(33 915.43 610.11)"/>
<ellipse cx="910.73" cy="597.09" rx="2.78" ry="2.22" fill="#38c2c6" transform="rotate(43 910.73 597.09)"/>
<ellipse cx="913.87" cy="607.13" rx="2.78" ry="2.22" fill="#31bcc0" transform="rotate(75 913.87 607.13)"/>
<ellipse cx="925.88" cy="614.50" rx="2.78" ry="2.22" fill="#3fc8ca" transform="rotate(43 925.88 614.50)"/>
<ellipse cx="926.62" cy="603.94" rx="2.78" ry="2.22" fill="#31bcc0" transform="rotate(176 926.62 603.94)"/>
<ellipse cx="917.19" cy="596.62" rx="2.78" ry="2.22" fill="#46cccf" transform="rotate(120 917.19 596.62)"/>
<ellipse cx="914.36" cy="607.92" rx="2.78" ry="2.22" fill="#31bcc0" transform="rotate(136 914.36 607.92)"/>
<ellipse cx="927.88" cy="602.73" rx="2.78" ry="2.22" fill="#31bcc0" transform="rotate(86 927.88 602.73)"/>
<ellipse cx="922.03" cy="613.13" rx="2.78" ry="2.22" fill="#3fc8ca" transform="rotate(140 922.03 613.13)"/>
<ellipse cx="923.35" cy="599.64" rx="2.78" ry="2.22" fill="#46cccf" transform="rotate(177 923.35 599.64)"/>
<ellipse cx="916.33" cy="603.99" rx="2.78" ry="2.22" fill="#46cccf" transform="rotate(93 916.33 603.99)"/>
<ellipse cx="908.78" cy="601.48" rx="2.78" ry="2.22" fill="#31bcc0" transform="rotate(67 908.78 601.48)"/>
<ellipse cx="919.59" cy="594.89" rx="2.78" ry="2.22" fill="#46cccf" transform="rotate(87 919.59 594.89)"/>
<ellipse cx="912.69" cy="597.51" rx="2.78" ry="2.22" fill="#38c2c6" transform="rotate(121 912.69 597.51)"/>
<text transform="translate(731.50,504.75) rotate(-90)" x="0" y="0" font-size="29.46" font-family="Liberation Sans" fill="#000">Weight gain at Day 4 (g)</text>
<path d="M718.30,515.00 L736.30,522.70 L736.30,507.30" fill="none" stroke="#000" stroke-width="1.2" stroke-linejoin="miter"/>
<path d="M718.30,515.00 L736.30,507.30" fill="none" stroke="#000" stroke-width="2.2"/>
<text x="1069.82" y="30.80" font-size="42.00" font-family="Liberation Sans" font-weight="bold" fill="#000">d</text>
<line x1="1126.10" y1="65.90" x2="1166.70" y2="65.90" stroke="#78787c" stroke-width="2.2"/>
<circle cx="1146.40" cy="65.90" r="8.20" fill="#78787c"/>
<line x1="1126.10" y1="105.10" x2="1166.70" y2="105.10" stroke="#fb8012" stroke-width="2.2"/>
<polygon points="1138.20,112.35 1154.20,112.35 1146.20,96.85" fill="#fb8012"/>
<text x="1181.06" y="72.90" font-size="27.87" font-family="Liberation Sans" fill="#000">Vehicle</text>
<text x="1178.96" y="114.00" font-size="28.00" font-family="Liberation Sans" fill="#000">PESLAN 2.5 <tspan font-family="Liberation Serif">μ</tspan>g/side</text>
<path d="M1183.00,199.80 H1197.60 V532.10 H1420.80" fill="none" stroke="#000" stroke-width="2.1"/>
<line x1="1183.00" y1="199.80" x2="1197.60" y2="199.80" stroke="#000" stroke-width="2.1"/>
<text x="1128.95" y="212.00" font-size="31.00" font-family="Liberation Sans" fill="#000">2.0</text>
<line x1="1183.00" y1="283.20" x2="1197.60" y2="283.20" stroke="#000" stroke-width="2.1"/>
<text x="1128.95" y="290.84" font-size="31.00" font-family="Liberation Sans" fill="#000">1.5</text>
<line x1="1183.00" y1="365.90" x2="1197.60" y2="365.90" stroke="#000" stroke-width="2.1"/>
<text x="1128.95" y="377.69" font-size="31.00" font-family="Liberation Sans" fill="#000">1.0</text>
<line x1="1183.00" y1="449.20" x2="1197.60" y2="449.20" stroke="#000" stroke-width="2.1"/>
<text x="1128.95" y="459.89" font-size="31.00" font-family="Liberation Sans" fill="#000">0.5</text>
<line x1="1183.00" y1="532.10" x2="1197.60" y2="532.10" stroke="#000" stroke-width="2.1"/>
<text x="1128.95" y="540.40" font-size="31.00" font-family="Liberation Sans" fill="#000">0.0</text>
<line x1="1241.60" y1="532.10" x2="1241.60" y2="546.90" stroke="#000" stroke-width="2.1"/>
<line x1="1307.80" y1="532.10" x2="1307.80" y2="546.90" stroke="#000" stroke-width="2.1"/>
<line x1="1374.10" y1="532.10" x2="1374.10" y2="546.90" stroke="#000" stroke-width="2.1"/>
<g transform="translate(1231.50,512.40) rotate(-41.5)"><rect x="0" y="-1.1" width="8" height="2.2" fill="#8c8c8c"/><rect x="6.5" y="-3.6" width="6" height="7.2" fill="#1c1c1c"/><rect x="13.5" y="-2.4" width="31" height="4.8" fill="#fff" stroke="#1a1a1a" stroke-width="1.4"/><rect x="14.2" y="-1.7" width="15" height="3.4" fill="#5b9cc8"/><path d="M16,0 h1.6 M19.5,0 h1.6 M23,0 h1.6 M26.5,0 h1.6 M30,0 h1.6 M33.5,0 h1.6 M37,0 h1.6 M40.5,0 h1.6" stroke="#e8f0f8" stroke-width="1.5"/><rect x="44.5" y="-1.1" width="10" height="2.2" fill="#1a1a1a"/><ellipse cx="56" cy="0" rx="1.8" ry="4" fill="#8a8a8a"/></g>
<g transform="translate(1238.00,519.40) rotate(-41.5)"><rect x="0" y="-1.1" width="8" height="2.2" fill="#8c8c8c"/><rect x="6.5" y="-3.6" width="6" height="7.2" fill="#1c1c1c"/><rect x="13.5" y="-2.4" width="31" height="4.8" fill="#fff" stroke="#1a1a1a" stroke-width="1.4"/><rect x="14.2" y="-1.7" width="15" height="3.4" fill="#5b9cc8"/><path d="M16,0 h1.6 M19.5,0 h1.6 M23,0 h1.6 M26.5,0 h1.6 M30,0 h1.6 M33.5,0 h1.6 M37,0 h1.6 M40.5,0 h1.6" stroke="#e8f0f8" stroke-width="1.5"/><rect x="44.5" y="-1.1" width="10" height="2.2" fill="#1a1a1a"/><ellipse cx="56" cy="0" rx="1.8" ry="4" fill="#8a8a8a"/></g>
<g transform="translate(1301.00,514.90) rotate(-41.5)"><rect x="0" y="-1.1" width="8" height="2.2" fill="#8c8c8c"/><rect x="6.5" y="-3.6" width="6" height="7.2" fill="#1c1c1c"/><rect x="13.5" y="-2.4" width="31" height="4.8" fill="#fff" stroke="#1a1a1a" stroke-width="1.4"/><rect x="14.2" y="-1.7" width="15" height="3.4" fill="#5b9cc8"/><path d="M16,0 h1.6 M19.5,0 h1.6 M23,0 h1.6 M26.5,0 h1.6 M30,0 h1.6 M33.5,0 h1.6 M37,0 h1.6 M40.5,0 h1.6" stroke="#e8f0f8" stroke-width="1.5"/><rect x="44.5" y="-1.1" width="10" height="2.2" fill="#1a1a1a"/><ellipse cx="56" cy="0" rx="1.8" ry="4" fill="#8a8a8a"/></g>
<g transform="translate(1307.50,521.90) rotate(-41.5)"><rect x="0" y="-1.1" width="8" height="2.2" fill="#8c8c8c"/><rect x="6.5" y="-3.6" width="6" height="7.2" fill="#1c1c1c"/><rect x="13.5" y="-2.4" width="31" height="4.8" fill="#fff" stroke="#1a1a1a" stroke-width="1.4"/><rect x="14.2" y="-1.7" width="15" height="3.4" fill="#5b9cc8"/><path d="M16,0 h1.6 M19.5,0 h1.6 M23,0 h1.6 M26.5,0 h1.6 M30,0 h1.6 M33.5,0 h1.6 M37,0 h1.6 M40.5,0 h1.6" stroke="#e8f0f8" stroke-width="1.5"/><rect x="44.5" y="-1.1" width="10" height="2.2" fill="#1a1a1a"/><ellipse cx="56" cy="0" rx="1.8" ry="4" fill="#8a8a8a"/></g>
<g transform="translate(1365.00,515.40) rotate(-41.5)"><rect x="0" y="-1.1" width="8" height="2.2" fill="#8c8c8c"/><rect x="6.5" y="-3.6" width="6" height="7.2" fill="#1c1c1c"/><rect x="13.5" y="-2.4" width="31" height="4.8" fill="#fff" stroke="#1a1a1a" stroke-width="1.4"/><rect x="14.2" y="-1.7" width="15" height="3.4" fill="#5b9cc8"/><path d="M16,0 h1.6 M19.5,0 h1.6 M23,0 h1.6 M26.5,0 h1.6 M30,0 h1.6 M33.5,0 h1.6 M37,0 h1.6 M40.5,0 h1.6" stroke="#e8f0f8" stroke-width="1.5"/><rect x="44.5" y="-1.1" width="10" height="2.2" fill="#1a1a1a"/><ellipse cx="56" cy="0" rx="1.8" ry="4" fill="#8a8a8a"/></g>
<g transform="translate(1371.50,522.40) rotate(-41.5)"><rect x="0" y="-1.1" width="8" height="2.2" fill="#8c8c8c"/><rect x="6.5" y="-3.6" width="6" height="7.2" fill="#1c1c1c"/><rect x="13.5" y="-2.4" width="31" height="4.8" fill="#fff" stroke="#1a1a1a" stroke-width="1.4"/><rect x="14.2" y="-1.7" width="15" height="3.4" fill="#5b9cc8"/><path d="M16,0 h1.6 M19.5,0 h1.6 M23,0 h1.6 M26.5,0 h1.6 M30,0 h1.6 M33.5,0 h1.6 M37,0 h1.6 M40.5,0 h1.6" stroke="#e8f0f8" stroke-width="1.5"/><rect x="44.5" y="-1.1" width="10" height="2.2" fill="#1a1a1a"/><ellipse cx="56" cy="0" rx="1.8" ry="4" fill="#8a8a8a"/></g>
<polyline points="1241.60,341.76 1307.80,290.36 1374.10,311.09" fill="none" stroke="#fb8012" stroke-width="2.2"/>
<line x1="1241.60" y1="325.18" x2="1241.60" y2="358.34" stroke="#fb8012" stroke-width="2.2"/>
<line x1="1232.60" y1="325.18" x2="1250.60" y2="325.18" stroke="#fb8012" stroke-width="2.2"/>
<line x1="1232.60" y1="358.34" x2="1250.60" y2="358.34" stroke="#fb8012" stroke-width="2.2"/>
<line x1="1307.80" y1="264.66" x2="1307.80" y2="316.06" stroke="#fb8012" stroke-width="2.2"/>
<line x1="1298.80" y1="264.66" x2="1316.80" y2="264.66" stroke="#fb8012" stroke-width="2.2"/>
<line x1="1298.80" y1="316.06" x2="1316.80" y2="316.06" stroke="#fb8012" stroke-width="2.2"/>
<line x1="1374.10" y1="294.51" x2="1374.10" y2="327.67" stroke="#fb8012" stroke-width="2.2"/>
<line x1="1365.10" y1="294.51" x2="1383.10" y2="294.51" stroke="#fb8012" stroke-width="2.2"/>
<line x1="1365.10" y1="327.67" x2="1383.10" y2="327.67" stroke="#fb8012" stroke-width="2.2"/>
<polygon points="1232.60,350.31 1250.60,350.31 1241.60,333.21" fill="#fb8012"/>
<polygon points="1298.80,298.91 1316.80,298.91 1307.80,281.81" fill="#fb8012"/>
<polygon points="1365.10,319.64 1383.10,319.64 1374.10,302.54" fill="#fb8012"/>
<polyline points="1241.60,341.76 1307.80,363.31 1374.10,359.17" fill="none" stroke="#6e6e72" stroke-width="2.2"/>
<line x1="1241.60" y1="331.81" x2="1241.60" y2="351.71" stroke="#6e6e72" stroke-width="2.2"/>
<line x1="1232.60" y1="331.81" x2="1250.60" y2="331.81" stroke="#6e6e72" stroke-width="2.2"/>
<line x1="1232.60" y1="351.71" x2="1250.60" y2="351.71" stroke="#6e6e72" stroke-width="2.2"/>
<line x1="1307.80" y1="350.38" x2="1307.80" y2="376.25" stroke="#6e6e72" stroke-width="2.2"/>
<line x1="1298.80" y1="350.38" x2="1316.80" y2="350.38" stroke="#6e6e72" stroke-width="2.2"/>
<line x1="1298.80" y1="376.25" x2="1316.80" y2="376.25" stroke="#6e6e72" stroke-width="2.2"/>
<line x1="1374.10" y1="346.24" x2="1374.10" y2="372.10" stroke="#6e6e72" stroke-width="2.2"/>
<line x1="1365.10" y1="346.24" x2="1383.10" y2="346.24" stroke="#6e6e72" stroke-width="2.2"/>
<line x1="1365.10" y1="372.10" x2="1383.10" y2="372.10" stroke="#6e6e72" stroke-width="2.2"/>
<circle cx="1241.60" cy="341.76" r="9.00" fill="#6e6e72"/>
<circle cx="1307.80" cy="363.31" r="9.00" fill="#6e6e72"/>
<circle cx="1374.10" cy="359.17" r="9.00" fill="#6e6e72"/>
<use href="#ast" transform="translate(1294.80,245.70) scale(1.667)" fill="#111"/>
<use href="#ast" transform="translate(1319.10,245.70) scale(1.667)" fill="#111"/>
<use href="#ast" transform="translate(1374.20,277.00) scale(1.667)" fill="#111"/>
<text x="1216.61" y="574.50" font-size="27.92" font-family="Liberation Sans" fill="#000">1st</text>
<text x="1282.04" y="574.50" font-size="29.29" font-family="Liberation Sans" fill="#000">2nd</text>
<text x="1353.64" y="574.50" font-size="29.03" font-family="Liberation Sans" fill="#000">3th</text>
<text x="1194.63" y="615.70" font-size="30.95" font-family="Liberation Sans" fill="#000">Times of Re-HFD</text>
<text transform="translate(1105.80,492.73) rotate(-90)" x="0" y="0" font-size="29.11" font-family="Liberation Sans" fill="#000">HFD intake (g/ 2.5 h)</text>
<text x="-1.50" y="677.50" font-size="42.00" font-family="Liberation Sans" font-weight="bold" fill="#000">e</text>
<text x="38.98" y="738.30" font-size="24.76" font-family="Liberation Sans" fill="#000">AAV-EmGFP-Lepr shRNA</text>
<rect x="37.60" y="770.30" width="365.30" height="7.40" fill="#b0552a"/>
<rect x="52.1" y="758.5" width="89.7" height="33.9" rx="5" fill="#f8b623" stroke="#111" stroke-width="2"/>
<text x="63.72" y="783.70" font-size="28.47" font-family="Liberation Sans" fill="#1a1a1a">EF1<tspan font-family="Liberation Serif">α</tspan></text>
<path d="M150.5,760.6 H227.2 V747 L258.5,774 L227.2,800.5 V788.3 H150.5 Z" fill="#8cc65a" stroke="#111" stroke-width="2" stroke-linejoin="miter"/>
<text x="154.14" y="783.70" font-size="27.04" font-family="Liberation Sans" fill="#1a1a1a">EmGFP</text>
<rect x="265.70" y="756.50" width="11.60" height="35.30" fill="#4a86c8"/>
<rect x="282.2" y="758.5" width="92.6" height="33.9" rx="5" fill="#3a281c" stroke="#111" stroke-width="1.5"/>
<text x="287.22" y="783.70" font-size="26.12" font-family="Liberation Sans" fill="#fff">shRNA</text>
<rect x="381.50" y="756.50" width="10.70" height="35.30" fill="#4a86c8"/>
<text x="238.63" y="820.80" font-size="24.34" font-family="Liberation Sans" fill="#000">5<tspan font-family="Liberation Serif">’</tspan> miR</text>
<text x="340.58" y="820.80" font-size="23.12" font-family="Liberation Sans" fill="#000">3<tspan font-family="Liberation Serif">’</tspan> miR</text>
<text x="28.28" y="951.30" font-size="23.86" font-family="Liberation Sans" fill="#000">Wild-type</text>
<path d="M123.2,973.5 C117,968.5 105,967.5 92,968.5 C62,972 37,993 32.5,1026 C29,1051 36,1076 54,1087 C65,1093 80,1093 90,1089 C100,1094 112,1094 123.2,1093 C134.4,1094 146.4,1094 156.4,1089 C166.4,1093 181.4,1093 192.4,1087 C210.4,1076 217.4,1051 213.9,1026 C209.4,993 184.4,972 154.4,968.5 C141.4,967.5 129.4,968.5 123.2,973.5 Z" fill="#fff" stroke="#111" stroke-width="2.3"/>
<path d="M56,1074 C49,1050 51,1022 68,1004 C80,993 96,987 107,986.5 C114,986 118,991 123.2,993.5" fill="none" stroke="#111" stroke-width="2"/>
<path d="M 190.4 1074.0 C 197.4 1050.0 195.4 1022.0 178.4 1004.0 C 166.4 993.0 150.4 987.0 139.4 986.5 C 132.4 986.0 128.4 991.0 123.2 993.5" fill="none" stroke="#111" stroke-width="2"/>
<path d="M62,1016 C72,1000 90,991 107,990 C114,990 118,995 123.2,997.5" fill="none" stroke="#111" stroke-width="1.6"/>
<path d="M 184.4 1016.0 C 174.4 1000.0 156.4 991.0 139.4 990.0 C 132.4 990.0 128.4 995.0 123.2 997.5" fill="none" stroke="#111" stroke-width="1.6"/>
<path d="M52,1030 C49.5,1045 51.5,1062 57,1074" fill="none" stroke="#111" stroke-width="4.5"/>
<path d="M 194.4 1030.0 C 196.9 1045.0 194.9 1062.0 189.4 1074.0" fill="none" stroke="#111" stroke-width="4.5"/>
<path d="M80,1006 C82,996 95,990 106,992 C112,993 117,998 120.5,1002 L120.5,1015 C114,1018 106,1017 98,1014 C92,1012 85,1011 82,1013 C80,1011 79,1008 80,1006 Z" fill="#fff" stroke="#111" stroke-width="1.8"/>
<path d="M 166.4 1006.0 C 164.4 996.0 151.4 990.0 140.4 992.0 C 134.4 993.0 129.4 998.0 125.9 1002.0 L 125.9 1015.0 C 132.4 1018.0 140.4 1017.0 148.4 1014.0 C 154.4 1012.0 161.4 1011.0 164.4 1013.0 C 166.4 1011.0 167.4 1008.0 166.4 1006.0 Z" fill="#fff" stroke="#111" stroke-width="1.8"/>
<path d="M72,1024 L80,1025 L87,1013 L80,1010 Z" fill="#fff" stroke="#111" stroke-width="1.5"/>
<path d="M 174.4 1024.0 L 166.4 1025.0 L 159.4 1013.0 L 166.4 1010.0 Z" fill="#fff" stroke="#111" stroke-width="1.5"/>
<rect x="99.4" y="1004.4" width="2.6" height="1.4" fill="#111" transform="rotate(24 99.4 1004.4)"/>
<rect x="147.0" y="1008.8" width="2.6" height="1.4" fill="#111" transform="rotate(-11 147.0 1008.8)"/>
<rect x="90.3" y="1006.7" width="2.6" height="1.4" fill="#111" transform="rotate(-12 90.3 1006.7)"/>
<rect x="159.2" y="1003.6" width="2.6" height="1.4" fill="#111" transform="rotate(-24 159.2 1003.6)"/>
<rect x="102.3" y="1009.4" width="2.6" height="1.4" fill="#111" transform="rotate(-30 102.3 1009.4)"/>
<rect x="142.2" y="1001.9" width="2.6" height="1.4" fill="#111" transform="rotate(22 142.2 1001.9)"/>
<rect x="106.2" y="1005.2" width="2.6" height="1.4" fill="#111" transform="rotate(-15 106.2 1005.2)"/>
<rect x="141.2" y="1008.5" width="2.6" height="1.4" fill="#111" transform="rotate(-27 141.2 1008.5)"/>
<rect x="86.0" y="1001.9" width="2.6" height="1.4" fill="#111" transform="rotate(-5 86.0 1001.9)"/>
<rect x="142.0" y="1007.7" width="2.6" height="1.4" fill="#111" transform="rotate(6 142.0 1007.7)"/>
<rect x="99.0" y="1008.6" width="2.6" height="1.4" fill="#111" transform="rotate(31 99.0 1008.6)"/>
<rect x="154.5" y="1003.4" width="2.6" height="1.4" fill="#111" transform="rotate(-35 154.5 1003.4)"/>
<rect x="106.5" y="1002.9" width="2.6" height="1.4" fill="#111" transform="rotate(0 106.5 1002.9)"/>
<rect x="148.6" y="1004.3" width="2.6" height="1.4" fill="#111" transform="rotate(-25 148.6 1004.3)"/>
<rect x="108.1" y="1000.7" width="2.6" height="1.4" fill="#111" transform="rotate(-6 108.1 1000.7)"/>
<rect x="145.0" y="996.4" width="2.6" height="1.4" fill="#111" transform="rotate(-22 145.0 996.4)"/>
<rect x="97.6" y="1008.7" width="2.6" height="1.4" fill="#111" transform="rotate(14 97.6 1008.7)"/>
<rect x="160.1" y="999.3" width="2.6" height="1.4" fill="#111" transform="rotate(-35 160.1 999.3)"/>
<rect x="91.3" y="1012.9" width="2.6" height="1.4" fill="#111" transform="rotate(-29 91.3 1012.9)"/>
<rect x="146.4" y="1010.7" width="2.6" height="1.4" fill="#111" transform="rotate(15 146.4 1010.7)"/>
<rect x="98.3" y="1004.5" width="2.6" height="1.4" fill="#111" transform="rotate(-10 98.3 1004.5)"/>
<rect x="135.9" y="1000.0" width="2.6" height="1.4" fill="#111" transform="rotate(-24 135.9 1000.0)"/>
<rect x="94.6" y="996.2" width="2.6" height="1.4" fill="#111" transform="rotate(17 94.6 996.2)"/>
<rect x="136.6" y="997.8" width="2.6" height="1.4" fill="#111" transform="rotate(-4 136.6 997.8)"/>
<rect x="108.0" y="996.2" width="2.6" height="1.4" fill="#111" transform="rotate(24 108.0 996.2)"/>
<rect x="135.3" y="998.7" width="2.6" height="1.4" fill="#111" transform="rotate(-11 135.3 998.7)"/>
<rect x="99.2" y="998.9" width="2.6" height="1.4" fill="#111" transform="rotate(-19 99.2 998.9)"/>
<rect x="148.1" y="1001.8" width="2.6" height="1.4" fill="#111" transform="rotate(15 148.1 1001.8)"/>
<rect x="98.3" y="999.2" width="2.6" height="1.4" fill="#111" transform="rotate(-1 98.3 999.2)"/>
<rect x="133.0" y="1010.6" width="2.6" height="1.4" fill="#111" transform="rotate(3 133.0 1010.6)"/>
<rect x="117.9" y="996.3" width="2.6" height="1.4" fill="#111" transform="rotate(-12 117.9 996.3)"/>
<rect x="149.0" y="1008.8" width="2.6" height="1.4" fill="#111" transform="rotate(-23 149.0 1008.8)"/>
<rect x="85.4" y="1001.2" width="2.6" height="1.4" fill="#111" transform="rotate(21 85.4 1001.2)"/>
<rect x="153.6" y="1010.6" width="2.6" height="1.4" fill="#111" transform="rotate(7 153.6 1010.6)"/>
<rect x="112.2" y="1001.8" width="2.6" height="1.4" fill="#111" transform="rotate(-26 112.2 1001.8)"/>
<rect x="159.3" y="1007.7" width="2.6" height="1.4" fill="#111" transform="rotate(-4 159.3 1007.7)"/>
<rect x="84.5" y="1004.5" width="2.6" height="1.4" fill="#111" transform="rotate(23 84.5 1004.5)"/>
<rect x="158.1" y="1007.8" width="2.6" height="1.4" fill="#111" transform="rotate(-18 158.1 1007.8)"/>
<rect x="113.5" y="998.7" width="2.6" height="1.4" fill="#111" transform="rotate(-16 113.5 998.7)"/>
<rect x="151.8" y="999.4" width="2.6" height="1.4" fill="#111" transform="rotate(-4 151.8 999.4)"/>
<rect x="108.7" y="998.4" width="2.6" height="1.4" fill="#111" transform="rotate(35 108.7 998.4)"/>
<rect x="155.7" y="1013.3" width="2.6" height="1.4" fill="#111" transform="rotate(26 155.7 1013.3)"/>
<rect x="104.5" y="1002.3" width="2.6" height="1.4" fill="#111" transform="rotate(-22 104.5 1002.3)"/>
<rect x="158.7" y="1006.7" width="2.6" height="1.4" fill="#111" transform="rotate(-3 158.7 1006.7)"/>
<rect x="92.1" y="1009.6" width="2.6" height="1.4" fill="#111" transform="rotate(-3 92.1 1009.6)"/>
<rect x="148.1" y="1009.6" width="2.6" height="1.4" fill="#111" transform="rotate(27 148.1 1009.6)"/>
<rect x="94.0" y="1001.6" width="2.6" height="1.4" fill="#111" transform="rotate(-27 94.0 1001.6)"/>
<rect x="158.1" y="1006.2" width="2.6" height="1.4" fill="#111" transform="rotate(-26 158.1 1006.2)"/>
<rect x="93.5" y="1012.8" width="2.6" height="1.4" fill="#111" transform="rotate(-9 93.5 1012.8)"/>
<rect x="136.9" y="997.0" width="2.6" height="1.4" fill="#111" transform="rotate(17 136.9 997.0)"/>
<rect x="99.2" y="996.9" width="2.6" height="1.4" fill="#111" transform="rotate(-13 99.2 996.9)"/>
<rect x="152.8" y="1007.0" width="2.6" height="1.4" fill="#111" transform="rotate(-19 152.8 1007.0)"/>
<rect x="87.1" y="1001.1" width="2.6" height="1.4" fill="#111" transform="rotate(22 87.1 1001.1)"/>
<rect x="129.1" y="1005.9" width="2.6" height="1.4" fill="#111" transform="rotate(31 129.1 1005.9)"/>
<rect x="103.9" y="998.1" width="2.6" height="1.4" fill="#111" transform="rotate(-31 103.9 998.1)"/>
<rect x="131.0" y="1003.1" width="2.6" height="1.4" fill="#111" transform="rotate(10 131.0 1003.1)"/>
<rect x="107.8" y="1010.4" width="2.6" height="1.4" fill="#111" transform="rotate(-33 107.8 1010.4)"/>
<rect x="142.1" y="997.1" width="2.6" height="1.4" fill="#111" transform="rotate(-27 142.1 997.1)"/>
<rect x="108.8" y="1000.8" width="2.6" height="1.4" fill="#111" transform="rotate(-26 108.8 1000.8)"/>
<rect x="159.8" y="1007.2" width="2.6" height="1.4" fill="#111" transform="rotate(-30 159.8 1007.2)"/>
<rect x="114.6" y="1007.1" width="2.6" height="1.4" fill="#111" transform="rotate(-19 114.6 1007.1)"/>
<rect x="135.4" y="1009.7" width="2.6" height="1.4" fill="#111" transform="rotate(10 135.4 1009.7)"/>
<rect x="86.9" y="1006.1" width="2.6" height="1.4" fill="#111" transform="rotate(-26 86.9 1006.1)"/>
<rect x="132.8" y="1002.3" width="2.6" height="1.4" fill="#111" transform="rotate(-32 132.8 1002.3)"/>
<rect x="113.4" y="1004.6" width="2.6" height="1.4" fill="#111" transform="rotate(13 113.4 1004.6)"/>
<rect x="149.5" y="996.2" width="2.6" height="1.4" fill="#111" transform="rotate(-26 149.5 996.2)"/>
<rect x="86.7" y="1008.6" width="2.6" height="1.4" fill="#111" transform="rotate(-3 86.7 1008.6)"/>
<rect x="132.5" y="1006.9" width="2.6" height="1.4" fill="#111" transform="rotate(14 132.5 1006.9)"/>
<ellipse cx="74" cy="1013" rx="4.3" ry="10.5" fill="#262626" transform="rotate(22 74 1013)"/>
<ellipse cx="172.4" cy="1013" rx="4.3" ry="10.5" fill="#262626" transform="rotate(-22 172.4 1013)"/>
<ellipse cx="124.0" cy="1012.5" rx="3.6" ry="10.5" fill="#262626"/>
<path d="M78,1055 C83,1066 88,1075 93,1082" fill="none" stroke="#111" stroke-width="2"/>
<path d="M 168.4 1055.0 C 163.4 1066.0 158.4 1075.0 153.4 1082.0" fill="none" stroke="#111" stroke-width="2"/>
<circle cx="147.32" cy="1082.74" r="0.85" fill="#111"/>
<circle cx="120.63" cy="1076.49" r="0.85" fill="#111"/>
<circle cx="125.31" cy="1078.00" r="0.85" fill="#111"/>
<circle cx="123.81" cy="1072.38" r="0.85" fill="#111"/>
<circle cx="138.68" cy="1081.82" r="0.85" fill="#111"/>
<circle cx="122.23" cy="1088.20" r="0.85" fill="#111"/>
<circle cx="115.61" cy="1067.87" r="0.85" fill="#111"/>
<circle cx="129.26" cy="1078.00" r="0.85" fill="#111"/>
<circle cx="137.21" cy="1073.25" r="0.85" fill="#111"/>
<circle cx="147.10" cy="1077.45" r="0.85" fill="#111"/>
<circle cx="108.52" cy="1074.93" r="0.85" fill="#111"/>
<circle cx="109.03" cy="1081.12" r="0.85" fill="#111"/>
<circle cx="140.01" cy="1084.38" r="0.85" fill="#111"/>
<circle cx="106.22" cy="1069.78" r="0.85" fill="#111"/>
<circle cx="107.30" cy="1088.86" r="0.85" fill="#111"/>
<circle cx="106.75" cy="1067.63" r="0.85" fill="#111"/>
<circle cx="114.64" cy="1088.18" r="0.85" fill="#111"/>
<circle cx="149.90" cy="1086.19" r="0.85" fill="#111"/>
<circle cx="101.32" cy="1076.73" r="0.85" fill="#111"/>
<circle cx="146.84" cy="1086.43" r="0.85" fill="#111"/>
<circle cx="116.42" cy="1078.04" r="0.85" fill="#111"/>
<circle cx="132.64" cy="1083.34" r="0.85" fill="#111"/>
<circle cx="142.15" cy="1080.87" r="0.85" fill="#111"/>
<circle cx="112.94" cy="1086.38" r="0.85" fill="#111"/>
<circle cx="110.57" cy="1080.40" r="0.85" fill="#111"/>
<circle cx="132.98" cy="1071.59" r="0.85" fill="#111"/>
<circle cx="114.84" cy="1081.53" r="0.85" fill="#111"/>
<circle cx="126.59" cy="1081.31" r="0.85" fill="#111"/>
<circle cx="117.69" cy="1069.13" r="0.85" fill="#111"/>
<circle cx="138.08" cy="1071.19" r="0.85" fill="#111"/>
<circle cx="138.64" cy="1085.51" r="0.85" fill="#111"/>
<circle cx="101.11" cy="1078.46" r="0.85" fill="#111"/>
<circle cx="130.84" cy="1073.95" r="0.85" fill="#111"/>
<circle cx="141.13" cy="1070.91" r="0.85" fill="#111"/>
<circle cx="135.00" cy="1084.39" r="0.85" fill="#111"/>
<circle cx="124.95" cy="1064.98" r="0.85" fill="#111"/>
<circle cx="107.68" cy="1085.02" r="0.85" fill="#111"/>
<circle cx="125.22" cy="1089.56" r="0.85" fill="#111"/>
<circle cx="123.02" cy="1090.91" r="0.85" fill="#111"/>
<circle cx="103.91" cy="1086.92" r="0.85" fill="#111"/>
<circle cx="134.19" cy="1070.05" r="0.85" fill="#111"/>
<circle cx="117.99" cy="1088.10" r="0.85" fill="#111"/>
<circle cx="116.73" cy="1076.16" r="0.85" fill="#111"/>
<circle cx="106.03" cy="1087.96" r="0.85" fill="#111"/>
<circle cx="95.38" cy="1078.85" r="0.85" fill="#111"/>
<circle cx="131.55" cy="1077.57" r="0.85" fill="#111"/>
<circle cx="140.89" cy="1073.26" r="0.85" fill="#111"/>
<circle cx="113.28" cy="1090.52" r="0.85" fill="#111"/>
<circle cx="100.54" cy="1087.39" r="0.85" fill="#111"/>
<circle cx="139.71" cy="1088.95" r="0.85" fill="#111"/>
<circle cx="101.92" cy="1070.54" r="0.85" fill="#111"/>
<circle cx="116.85" cy="1066.37" r="0.85" fill="#111"/>
<circle cx="112.35" cy="1090.37" r="0.85" fill="#111"/>
<circle cx="135.22" cy="1064.42" r="0.85" fill="#111"/>
<circle cx="123.26" cy="1065.00" r="0.85" fill="#111"/>
<circle cx="114.16" cy="1075.38" r="0.85" fill="#111"/>
<circle cx="110.41" cy="1088.83" r="0.85" fill="#111"/>
<circle cx="107.22" cy="1087.42" r="0.85" fill="#111"/>
<circle cx="119.02" cy="1064.95" r="0.85" fill="#111"/>
<circle cx="124.85" cy="1082.54" r="0.85" fill="#111"/>
<circle cx="146.30" cy="1076.71" r="0.85" fill="#111"/>
<circle cx="150.99" cy="1088.32" r="0.85" fill="#111"/>
<circle cx="124.02" cy="1082.30" r="0.85" fill="#111"/>
<circle cx="119.65" cy="1087.76" r="0.85" fill="#111"/>
<path d="M101,1078 C98,1074 101,1070 104,1073 M146,1078 C149,1074 146,1070 143,1073" fill="none" stroke="#111" stroke-width="1.4"/>
<rect x="142.10" y="875.20" width="13.80" height="4.50" fill="#555"/>
<rect x="143.80" y="879.50" width="2.60" height="18.00" fill="#111"/>
<rect x="151.60" y="879.50" width="2.60" height="18.00" fill="#111"/>
<rect x="142.10" y="897.00" width="13.80" height="6.50" fill="#119a4c"/>
<rect x="145.60" y="903.00" width="7.00" height="40.60" fill="#119a4c"/>
<rect x="146.60" y="943.60" width="4.40" height="123.00" fill="#000"/>
<circle cx="148.90" cy="1072.40" r="3.40" fill="#1aa050"/>
<rect x="124.7" y="965.4" width="96.6" height="129.3" fill="none" stroke="#d42a2a" stroke-width="2"/>
<line x1="221.3" y1="965.4" x2="248" y2="889.5" stroke="#111" stroke-width="1.8" stroke-dasharray="4.5,3"/>
<line x1="221.3" y1="1094.7" x2="248" y2="1126.5" stroke="#111" stroke-width="1.8" stroke-dasharray="4.5,3"/>
<clipPath id="ce"><rect x="248" y="890" width="196" height="236.79999999999995"/></clipPath>
<linearGradient id="bandg" x1="0" y1="0" x2="1" y2="0"><stop offset="0" stop-color="#0a0a70"/><stop offset="0.5" stop-color="#1212a8"/><stop offset="1" stop-color="#1414b4"/></linearGradient>
<rect x="248.00" y="890.00" width="196.00" height="236.80" fill="#000"/>
<g clip-path="url(#ce)">
<path d="M252,893 L322,892 C372,894 414,928 432,975 C444,1010 441,1055 432,1088 C424,1110 408,1122 392,1128 L250,1130 Z" fill="#06064c" filter="url(#blur1)"/>
<path d="M254,906 L318,906 C360,909 397,938 413,980 C424,1012 424,1052 416,1082 C410,1100 398,1112 386,1118 L254,1126 Z" fill="#040434" filter="url(#blur2)"/>
<path d="M250,899 L322,899 C366,902 403,933 420,977" fill="none" stroke="url(#bandg)" stroke-width="8" filter="url(#blur2)"/>
<path d="M330,908 C368,914 398,938 412,968" fill="none" stroke="#0e0e8c" stroke-width="12" opacity="0.8" filter="url(#blur4)"/>
<path d="M418,975 C425,1005 426,1040 421,1075" fill="none" stroke="#0a0a7a" stroke-width="10" filter="url(#blur4)"/>
<path d="M270,935 C310,930 355,945 380,980 C395,1005 398,1040 392,1070 L380,1110 L255,1120 Z" fill="#030330" filter="url(#blur8)"/>
<path d="M432,985 C437,1030 434,1070 424,1100" fill="none" stroke="#10109a" stroke-width="1.6" filter="url(#blur1)"/>
<path d="M420,990 C425,1030 422,1070 410,1102" fill="none" stroke="#0c0c80" stroke-width="1.4" filter="url(#blur1)"/>
<path d="M266,968 C272,945 300,932 330,934 C350,936 362,948 366,962" fill="none" stroke="#1818a0" stroke-width="2.6" filter="url(#blur1)"/>
<path d="M282,962 C295,950 315,947 334,954" fill="none" stroke="#1a1aa6" stroke-width="2.4" filter="url(#blur1)"/>
<path d="M279,973 C298,962 322,960 342,969" fill="none" stroke="#1616a0" stroke-width="2.4" filter="url(#blur1)"/>
<ellipse cx="357.5" cy="972" rx="2.6" ry="12" fill="#000" filter="url(#blur1)"/>
<path d="M390,976 C398,972 406,966 413,960" fill="none" stroke="#1a1ab0" stroke-width="2.2" filter="url(#blur1)"/>
<ellipse cx="269" cy="985" rx="5" ry="5" fill="#0a3040" opacity="0.4" filter="url(#blur2)"/>
<path d="M248,1098 C262,1108 275,1118 290,1130 L248,1130 Z" fill="#000" filter="url(#blur2)"/>
<ellipse cx="268" cy="1088" rx="18" ry="24" fill="#0a2630" opacity="0.8" filter="url(#blur8)"/>
<path d="M318,1098 C312,1108 306,1118 300,1130 L292,1130 C298,1118 304,1106 310,1094 Z" fill="#000" opacity="0.7" filter="url(#blur2)"/>
<ellipse cx="316" cy="1104" rx="6" ry="10" fill="#0e3460" opacity="0.8" filter="url(#blur2)"/>
<path d="M338,1058 C328,1072 320,1084 312,1096" stroke="#000018" stroke-width="3" fill="none" filter="url(#blur1)"/>
<path d="M344,1048 C335,1056 326,1062 318,1068" stroke="#1a7a3a" stroke-width="3" fill="none" opacity="0.7" filter="url(#blur2)"/>
<path d="M276,1066 C282,1050 300,1046 316,1052 C326,1057 324,1072 318,1082 C310,1094 296,1100 285,1096 C274,1092 271,1078 276,1066 Z" fill="#16a820" opacity="0.7" filter="url(#blur4)"/>
<ellipse cx="297" cy="1073" rx="19" ry="16.5" fill="#24cc2a" filter="url(#blur4)"/>
<circle cx="303.7" cy="1083.7" r="2.6" fill="#26d02a" opacity="0.6" filter="url(#blur2)"/>
<circle cx="306.7" cy="1061.4" r="2.3" fill="#38f038" opacity="0.6" filter="url(#blur2)"/>
<circle cx="291.5" cy="1073.8" r="1.5" fill="#1cb022" opacity="0.6" filter="url(#blur2)"/>
<circle cx="305.1" cy="1070.8" r="1.7" fill="#38f038" opacity="0.6" filter="url(#blur2)"/>
<circle cx="308.6" cy="1068.6" r="2.2" fill="#26d02a" opacity="0.6" filter="url(#blur2)"/>
<circle cx="296.1" cy="1073.3" r="2.1" fill="#26d02a" opacity="0.6" filter="url(#blur2)"/>
<circle cx="292.7" cy="1063.9" r="3.1" fill="#2ee030" opacity="0.6" filter="url(#blur2)"/>
<circle cx="305.4" cy="1084.7" r="1.7" fill="#2ee030" opacity="0.6" filter="url(#blur2)"/>
<circle cx="286.5" cy="1076.7" r="2.1" fill="#26d02a" opacity="0.6" filter="url(#blur2)"/>
<circle cx="304.4" cy="1082.9" r="2.3" fill="#38f038" opacity="0.6" filter="url(#blur2)"/>
<circle cx="301.3" cy="1075.9" r="2.6" fill="#2ee030" opacity="0.6" filter="url(#blur2)"/>
<circle cx="304.0" cy="1079.8" r="2.9" fill="#38f038" opacity="0.6" filter="url(#blur2)"/>
<circle cx="295.0" cy="1076.7" r="2.4" fill="#1cb022" opacity="0.6" filter="url(#blur2)"/>
<circle cx="290.8" cy="1080.0" r="2.2" fill="#26d02a" opacity="0.6" filter="url(#blur2)"/>
<circle cx="296.3" cy="1074.5" r="1.7" fill="#26d02a" opacity="0.6" filter="url(#blur2)"/>
<circle cx="299.1" cy="1074.0" r="2.5" fill="#38f038" opacity="0.6" filter="url(#blur2)"/>
<circle cx="290.7" cy="1071.4" r="3.2" fill="#2ee030" opacity="0.6" filter="url(#blur2)"/>
<circle cx="298.8" cy="1077.3" r="2.1" fill="#1cb022" opacity="0.6" filter="url(#blur2)"/>
<circle cx="290.4" cy="1082.3" r="2.0" fill="#2ee030" opacity="0.6" filter="url(#blur2)"/>
<circle cx="305.1" cy="1086.4" r="1.8" fill="#26d02a" opacity="0.6" filter="url(#blur2)"/>
<circle cx="287.8" cy="1081.9" r="2.6" fill="#38f038" opacity="0.6" filter="url(#blur2)"/>
<circle cx="282.4" cy="1082.3" r="3.1" fill="#2ee030" opacity="0.6" filter="url(#blur2)"/>
<circle cx="304.4" cy="1068.2" r="2.1" fill="#38f038" opacity="0.6" filter="url(#blur2)"/>
<circle cx="302.3" cy="1072.1" r="2.5" fill="#26d02a" opacity="0.6" filter="url(#blur2)"/>
<circle cx="301.9" cy="1062.4" r="2.3" fill="#1cb022" opacity="0.6" filter="url(#blur2)"/>
<circle cx="302.6" cy="1075.7" r="2.0" fill="#26d02a" opacity="0.6" filter="url(#blur2)"/>
<circle cx="297.1" cy="1081.2" r="3.0" fill="#38f038" opacity="0.6" filter="url(#blur2)"/>
<circle cx="310.8" cy="1072.7" r="2.3" fill="#1cb022" opacity="0.6" filter="url(#blur2)"/>
<circle cx="305.0" cy="1082.3" r="3.0" fill="#26d02a" opacity="0.6" filter="url(#blur2)"/>
<circle cx="302.0" cy="1074.8" r="2.9" fill="#38f038" opacity="0.6" filter="url(#blur2)"/>
<circle cx="305.6" cy="1067.1" r="2.2" fill="#26d02a" opacity="0.6" filter="url(#blur2)"/>
<circle cx="293.2" cy="1082.6" r="2.0" fill="#2ee030" opacity="0.6" filter="url(#blur2)"/>
<circle cx="294.5" cy="1076.0" r="2.7" fill="#1cb022" opacity="0.6" filter="url(#blur2)"/>
<circle cx="286.7" cy="1068.1" r="2.9" fill="#26d02a" opacity="0.6" filter="url(#blur2)"/>
<circle cx="296.6" cy="1081.4" r="3.1" fill="#38f038" opacity="0.6" filter="url(#blur2)"/>
<circle cx="298.8" cy="1075.7" r="1.7" fill="#2ee030" opacity="0.6" filter="url(#blur2)"/>
<circle cx="287.9" cy="1064.3" r="1.6" fill="#2ee030" opacity="0.6" filter="url(#blur2)"/>
<circle cx="295.1" cy="1071.6" r="2.4" fill="#1cb022" opacity="0.6" filter="url(#blur2)"/>
<circle cx="284.3" cy="1082.4" r="2.6" fill="#38f038" opacity="0.6" filter="url(#blur2)"/>
<circle cx="300.3" cy="1080.4" r="2.7" fill="#2ee030" opacity="0.6" filter="url(#blur2)"/>
<circle cx="340" cy="1052" r="1.8" fill="#30a040" filter="url(#blur1)"/>
</g>
<path d="M249.5,1068 C253,1074 252,1090 253,1102 C254,1112 258,1117 263,1119" fill="none" stroke="#fff" stroke-width="2" stroke-dasharray="3.5,2.5"/>
<rect x="408.30" y="1109.30" width="20.00" height="3.30" fill="#fff"/>
<text x="468.90" y="677.60" font-size="42.00" font-family="Liberation Sans" font-weight="bold" fill="#000">f</text>
<text x="563.15" y="711.30" font-size="26.92" font-family="Liberation Sans" fill="#118a4e">EmGFP</text>
<text x="702.79" y="711.30" font-size="26.86" font-family="Liberation Sans" fill="#cc1f2a">c-fos</text>
<text x="809.51" y="711.00" font-size="27.34" font-family="Liberation Sans" fill="#000">Merge</text>
<clipPath id="cf1"><rect x="554.20" y="721.70" width="114.50" height="114.20"/></clipPath>
<rect x="554.20" y="721.70" width="114.50" height="114.20" fill="#0a230a"/>
<g clip-path="url(#cf1)">
<ellipse cx="569.6" cy="818.5" rx="4.6" ry="3.5" fill="#1a5a1a" opacity="0.5" filter="url(#blur2)"/>
<ellipse cx="583.4" cy="778.3" rx="3.8" ry="2.9" fill="#1a5a1a" opacity="0.5" filter="url(#blur2)"/>
<ellipse cx="628.8" cy="811.8" rx="2.8" ry="2.2" fill="#1a5a1a" opacity="0.5" filter="url(#blur2)"/>
<ellipse cx="557.4" cy="817.1" rx="3.7" ry="2.9" fill="#1a5a1a" opacity="0.5" filter="url(#blur2)"/>
<ellipse cx="641.5" cy="721.9" rx="3.8" ry="2.9" fill="#1a5a1a" opacity="0.5" filter="url(#blur2)"/>
<ellipse cx="636.8" cy="747.8" rx="5.1" ry="3.9" fill="#1a5a1a" opacity="0.5" filter="url(#blur2)"/>
<ellipse cx="657.4" cy="725.2" rx="2.7" ry="2.1" fill="#1a5a1a" opacity="0.5" filter="url(#blur2)"/>
<ellipse cx="616.2" cy="829.0" rx="3.6" ry="2.8" fill="#1a5a1a" opacity="0.5" filter="url(#blur2)"/>
<ellipse cx="579.0" cy="769.9" rx="2.7" ry="2.1" fill="#1a5a1a" opacity="0.5" filter="url(#blur2)"/>
<ellipse cx="579.6" cy="771.7" rx="3.9" ry="3.0" fill="#1a5a1a" opacity="0.5" filter="url(#blur2)"/>
<ellipse cx="580.9" cy="748.1" rx="3.2" ry="2.4" fill="#1a5a1a" opacity="0.5" filter="url(#blur2)"/>
<ellipse cx="606.8" cy="754.8" rx="2.7" ry="2.0" fill="#1a5a1a" opacity="0.5" filter="url(#blur2)"/>
<ellipse cx="650.1" cy="785.2" rx="4.3" ry="3.3" fill="#1a5a1a" opacity="0.5" filter="url(#blur2)"/>
<ellipse cx="575.5" cy="835.0" rx="4.8" ry="3.7" fill="#1a5a1a" opacity="0.5" filter="url(#blur2)"/>
<ellipse cx="568.0" cy="759.7" rx="4.5" ry="3.4" fill="#1a5a1a" opacity="0.5" filter="url(#blur2)"/>
<ellipse cx="635.6" cy="828.6" rx="3.7" ry="2.8" fill="#1a5a1a" opacity="0.5" filter="url(#blur2)"/>
<ellipse cx="649.2" cy="798.2" rx="3.4" ry="2.6" fill="#1a5a1a" opacity="0.5" filter="url(#blur2)"/>
<ellipse cx="621.5" cy="822.5" rx="4.8" ry="3.7" fill="#1a5a1a" opacity="0.5" filter="url(#blur2)"/>
<ellipse cx="612.1" cy="789.0" rx="2.7" ry="2.1" fill="#1a5a1a" opacity="0.5" filter="url(#blur2)"/>
<ellipse cx="582.0" cy="812.8" rx="3.7" ry="2.8" fill="#1a5a1a" opacity="0.5" filter="url(#blur2)"/>
<ellipse cx="574.0" cy="784.4" rx="4.4" ry="3.4" fill="#1a5a1a" opacity="0.5" filter="url(#blur2)"/>
<ellipse cx="631.4" cy="764.5" rx="3.7" ry="2.9" fill="#1a5a1a" opacity="0.5" filter="url(#blur2)"/>
<ellipse cx="612.4" cy="810.6" rx="4.0" ry="3.0" fill="#1a5a1a" opacity="0.5" filter="url(#blur2)"/>
<ellipse cx="599.2" cy="777.6" rx="2.7" ry="2.1" fill="#1a5a1a" opacity="0.5" filter="url(#blur2)"/>
<ellipse cx="559.2" cy="802.0" rx="5.2" ry="4.0" fill="#1a5a1a" opacity="0.5" filter="url(#blur2)"/>
<ellipse cx="622.1" cy="766.6" rx="3.0" ry="2.3" fill="#1a5a1a" opacity="0.5" filter="url(#blur2)"/>
<ellipse cx="611.7" cy="833.9" rx="4.6" ry="3.5" fill="#1a5a1a" opacity="0.5" filter="url(#blur2)"/>
<ellipse cx="616.0" cy="819.9" rx="3.2" ry="2.5" fill="#1a5a1a" opacity="0.5" filter="url(#blur2)"/>
<ellipse cx="613.0" cy="830.5" rx="4.1" ry="3.2" fill="#1a5a1a" opacity="0.5" filter="url(#blur2)"/>
<ellipse cx="606.8" cy="752.5" rx="4.0" ry="3.1" fill="#1a5a1a" opacity="0.5" filter="url(#blur2)"/>
<ellipse cx="663.8" cy="722.4" rx="4.6" ry="3.6" fill="#1a5a1a" opacity="0.5" filter="url(#blur2)"/>
<ellipse cx="648.1" cy="822.9" rx="4.5" ry="3.5" fill="#1a5a1a" opacity="0.5" filter="url(#blur2)"/>
<ellipse cx="646.8" cy="780.9" rx="4.1" ry="3.1" fill="#1a5a1a" opacity="0.5" filter="url(#blur2)"/>
<ellipse cx="603.0" cy="728.1" rx="4.9" ry="3.7" fill="#1a5a1a" opacity="0.5" filter="url(#blur2)"/>
<ellipse cx="619.5" cy="744.5" rx="3.9" ry="3.0" fill="#1a5a1a" opacity="0.5" filter="url(#blur2)"/>
<ellipse cx="609.7" cy="762.4" rx="3.5" ry="2.7" fill="#1a5a1a" opacity="0.5" filter="url(#blur2)"/>
<ellipse cx="615.9" cy="792.9" rx="4.2" ry="3.2" fill="#1a5a1a" opacity="0.5" filter="url(#blur2)"/>
<ellipse cx="606.7" cy="724.9" rx="3.2" ry="2.5" fill="#1a5a1a" opacity="0.5" filter="url(#blur2)"/>
<ellipse cx="574.5" cy="788.4" rx="4.8" ry="3.7" fill="#1a5a1a" opacity="0.5" filter="url(#blur2)"/>
<ellipse cx="645.6" cy="812.7" rx="4.7" ry="3.6" fill="#1a5a1a" opacity="0.5" filter="url(#blur2)"/>
<circle cx="583.43" cy="817.83" r="1.00" fill="#2a9a2a" opacity="0.9" filter="url(#blur1)"/>
<circle cx="653.59" cy="773.43" r="1.05" fill="#30b030" opacity="0.9" filter="url(#blur1)"/>
<circle cx="582.77" cy="734.20" r="0.97" fill="#30b030" opacity="0.9" filter="url(#blur1)"/>
<circle cx="587.44" cy="740.83" r="0.75" fill="#2a9a2a" opacity="0.9" filter="url(#blur1)"/>
<circle cx="629.39" cy="795.72" r="0.78" fill="#228a22" opacity="0.9" filter="url(#blur1)"/>
<circle cx="591.07" cy="775.80" r="0.61" fill="#30b030" opacity="0.9" filter="url(#blur1)"/>
<circle cx="593.51" cy="812.63" r="0.76" fill="#30b030" opacity="0.9" filter="url(#blur1)"/>
<circle cx="657.23" cy="779.96" r="0.73" fill="#228a22" opacity="0.9" filter="url(#blur1)"/>
<circle cx="603.62" cy="833.11" r="0.74" fill="#30b030" opacity="0.9" filter="url(#blur1)"/>
<circle cx="570.97" cy="803.79" r="0.70" fill="#228a22" opacity="0.9" filter="url(#blur1)"/>
<circle cx="612.17" cy="770.43" r="1.10" fill="#228a22" opacity="0.9" filter="url(#blur1)"/>
<circle cx="645.55" cy="780.70" r="0.73" fill="#228a22" opacity="0.9" filter="url(#blur1)"/>
<circle cx="557.72" cy="798.77" r="1.08" fill="#228a22" opacity="0.9" filter="url(#blur1)"/>
<circle cx="626.44" cy="728.41" r="0.78" fill="#2a9a2a" opacity="0.9" filter="url(#blur1)"/>
<circle cx="654.45" cy="756.69" r="1.12" fill="#30b030" opacity="0.9" filter="url(#blur1)"/>
<circle cx="659.22" cy="755.72" r="0.69" fill="#228a22" opacity="0.9" filter="url(#blur1)"/>
<circle cx="583.10" cy="722.67" r="1.13" fill="#2a9a2a" opacity="0.9" filter="url(#blur1)"/>
<circle cx="621.82" cy="746.55" r="1.14" fill="#30b030" opacity="0.9" filter="url(#blur1)"/>
<circle cx="573.84" cy="820.80" r="1.18" fill="#228a22" opacity="0.9" filter="url(#blur1)"/>
<circle cx="625.53" cy="725.97" r="0.72" fill="#2a9a2a" opacity="0.9" filter="url(#blur1)"/>
<circle cx="577.76" cy="798.69" r="0.86" fill="#2a9a2a" opacity="0.9" filter="url(#blur1)"/>
<circle cx="610.57" cy="828.81" r="0.83" fill="#228a22" opacity="0.9" filter="url(#blur1)"/>
<circle cx="611.43" cy="758.85" r="1.12" fill="#30b030" opacity="0.9" filter="url(#blur1)"/>
<circle cx="556.27" cy="744.64" r="0.80" fill="#228a22" opacity="0.9" filter="url(#blur1)"/>
<circle cx="643.82" cy="760.42" r="0.73" fill="#228a22" opacity="0.9" filter="url(#blur1)"/>
<circle cx="565.24" cy="765.01" r="0.93" fill="#228a22" opacity="0.9" filter="url(#blur1)"/>
<circle cx="615.38" cy="809.40" r="0.92" fill="#2a9a2a" opacity="0.9" filter="url(#blur1)"/>
<circle cx="637.27" cy="731.37" r="0.70" fill="#228a22" opacity="0.9" filter="url(#blur1)"/>
<circle cx="578.58" cy="808.39" r="0.96" fill="#30b030" opacity="0.9" filter="url(#blur1)"/>
<circle cx="596.35" cy="760.56" r="0.77" fill="#228a22" opacity="0.9" filter="url(#blur1)"/>
<circle cx="643.46" cy="803.37" r="0.89" fill="#228a22" opacity="0.9" filter="url(#blur1)"/>
<circle cx="617.31" cy="733.61" r="0.62" fill="#2a9a2a" opacity="0.9" filter="url(#blur1)"/>
<circle cx="597.74" cy="834.90" r="0.69" fill="#2a9a2a" opacity="0.9" filter="url(#blur1)"/>
<circle cx="593.23" cy="791.95" r="1.07" fill="#30b030" opacity="0.9" filter="url(#blur1)"/>
<circle cx="562.98" cy="784.54" r="0.94" fill="#30b030" opacity="0.9" filter="url(#blur1)"/>
<circle cx="595.98" cy="755.45" r="0.92" fill="#2a9a2a" opacity="0.9" filter="url(#blur1)"/>
<circle cx="606.61" cy="753.35" r="1.07" fill="#30b030" opacity="0.9" filter="url(#blur1)"/>
<circle cx="555.62" cy="798.26" r="0.66" fill="#2a9a2a" opacity="0.9" filter="url(#blur1)"/>
<circle cx="648.79" cy="811.90" r="0.71" fill="#228a22" opacity="0.9" filter="url(#blur1)"/>
<circle cx="602.41" cy="734.90" r="0.70" fill="#2a9a2a" opacity="0.9" filter="url(#blur1)"/>
<circle cx="572.40" cy="818.20" r="0.86" fill="#30b030" opacity="0.9" filter="url(#blur1)"/>
<circle cx="646.54" cy="783.70" r="1.09" fill="#228a22" opacity="0.9" filter="url(#blur1)"/>
<circle cx="583.22" cy="776.17" r="0.66" fill="#228a22" opacity="0.9" filter="url(#blur1)"/>
<circle cx="590.54" cy="724.81" r="1.07" fill="#30b030" opacity="0.9" filter="url(#blur1)"/>
<circle cx="637.38" cy="758.27" r="0.83" fill="#30b030" opacity="0.9" filter="url(#blur1)"/>
<circle cx="561.41" cy="826.01" r="1.18" fill="#30b030" opacity="0.9" filter="url(#blur1)"/>
<circle cx="566.95" cy="746.28" r="0.97" fill="#228a22" opacity="0.9" filter="url(#blur1)"/>
<circle cx="653.54" cy="775.25" r="0.81" fill="#2a9a2a" opacity="0.9" filter="url(#blur1)"/>
<circle cx="616.21" cy="756.80" r="0.75" fill="#2a9a2a" opacity="0.9" filter="url(#blur1)"/>
<circle cx="648.09" cy="731.91" r="1.05" fill="#2a9a2a" opacity="0.9" filter="url(#blur1)"/>
<circle cx="628.86" cy="795.18" r="1.16" fill="#30b030" opacity="0.9" filter="url(#blur1)"/>
<circle cx="664.88" cy="726.39" r="0.71" fill="#228a22" opacity="0.9" filter="url(#blur1)"/>
<circle cx="656.51" cy="756.28" r="0.80" fill="#228a22" opacity="0.9" filter="url(#blur1)"/>
<circle cx="624.20" cy="813.92" r="0.66" fill="#2a9a2a" opacity="0.9" filter="url(#blur1)"/>
<circle cx="556.53" cy="749.54" r="0.64" fill="#228a22" opacity="0.9" filter="url(#blur1)"/>
<circle cx="653.54" cy="804.97" r="0.61" fill="#2a9a2a" opacity="0.9" filter="url(#blur1)"/>
<circle cx="587.50" cy="812.17" r="0.90" fill="#2a9a2a" opacity="0.9" filter="url(#blur1)"/>
<circle cx="565.76" cy="810.52" r="0.80" fill="#228a22" opacity="0.9" filter="url(#blur1)"/>
<circle cx="662.89" cy="741.48" r="1.07" fill="#2a9a2a" opacity="0.9" filter="url(#blur1)"/>
<circle cx="648.27" cy="758.22" r="0.66" fill="#228a22" opacity="0.9" filter="url(#blur1)"/>
<ellipse cx="649.8" cy="790.4" rx="2.1" ry="1.2" fill="#38dc38" filter="url(#blur1)" transform="rotate(-32 649.8 790.4)"/>
<ellipse cx="616.7" cy="804.2" rx="3.2" ry="1.9" fill="#38dc38" filter="url(#blur1)" transform="rotate(-28 616.7 804.2)"/>
<ellipse cx="588.4" cy="783.1" rx="2.0" ry="1.1" fill="#38dc38" filter="url(#blur1)" transform="rotate(-18 588.4 783.1)"/>
<ellipse cx="643.3" cy="799.6" rx="2.6" ry="1.5" fill="#1e9a1e" filter="url(#blur1)" transform="rotate(20 643.3 799.6)"/>
<ellipse cx="582.9" cy="771.9" rx="2.8" ry="1.6" fill="#2cc82c" filter="url(#blur1)" transform="rotate(0 582.9 771.9)"/>
<ellipse cx="650.0" cy="741.3" rx="2.7" ry="1.6" fill="#1e9a1e" filter="url(#blur1)" transform="rotate(23 650.0 741.3)"/>
<ellipse cx="556.4" cy="800.7" rx="2.9" ry="1.7" fill="#38dc38" filter="url(#blur1)" transform="rotate(-33 556.4 800.7)"/>
<ellipse cx="583.9" cy="816.4" rx="2.5" ry="1.5" fill="#1e9a1e" filter="url(#blur1)" transform="rotate(-28 583.9 816.4)"/>
<ellipse cx="624.3" cy="748.4" rx="1.9" ry="1.1" fill="#24b024" filter="url(#blur1)" transform="rotate(14 624.3 748.4)"/>
<ellipse cx="656.5" cy="826.8" rx="3.5" ry="2.0" fill="#38dc38" filter="url(#blur1)" transform="rotate(-20 656.5 826.8)"/>
<ellipse cx="590.0" cy="800.1" rx="3.5" ry="2.1" fill="#1e9a1e" filter="url(#blur1)" transform="rotate(-7 590.0 800.1)"/>
<ellipse cx="618.4" cy="825.3" rx="3.4" ry="2.0" fill="#24b024" filter="url(#blur1)" transform="rotate(32 618.4 825.3)"/>
<ellipse cx="579.3" cy="826.9" rx="3.2" ry="1.9" fill="#24b024" filter="url(#blur1)" transform="rotate(-30 579.3 826.9)"/>
<ellipse cx="612.8" cy="812.2" rx="2.2" ry="1.3" fill="#24b024" filter="url(#blur1)" transform="rotate(38 612.8 812.2)"/>
<ellipse cx="588.5" cy="784.8" rx="2.2" ry="1.3" fill="#1e9a1e" filter="url(#blur1)" transform="rotate(26 588.5 784.8)"/>
<ellipse cx="563.9" cy="735.8" rx="2.9" ry="1.7" fill="#1e9a1e" filter="url(#blur1)" transform="rotate(-28 563.9 735.8)"/>
<ellipse cx="572.0" cy="770.4" rx="3.5" ry="2.0" fill="#2cc82c" filter="url(#blur1)" transform="rotate(13 572.0 770.4)"/>
<ellipse cx="632.2" cy="803.6" rx="2.5" ry="1.4" fill="#38dc38" filter="url(#blur1)" transform="rotate(19 632.2 803.6)"/>
<ellipse cx="637.8" cy="726.3" rx="3.5" ry="2.1" fill="#24b024" filter="url(#blur1)" transform="rotate(30 637.8 726.3)"/>
<ellipse cx="565.8" cy="805.9" rx="2.0" ry="1.2" fill="#38dc38" filter="url(#blur1)" transform="rotate(49 565.8 805.9)"/>
<ellipse cx="624.8" cy="832.1" rx="3.0" ry="1.8" fill="#2cc82c" filter="url(#blur1)" transform="rotate(6 624.8 832.1)"/>
<ellipse cx="651.6" cy="749.2" rx="3.3" ry="2.0" fill="#1e9a1e" filter="url(#blur1)" transform="rotate(0 651.6 749.2)"/>
</g>
<rect x="643.20" y="824.40" width="18.50" height="3.00" fill="#fff"/>
<clipPath id="cf2"><rect x="672.10" y="721.70" width="114.60" height="114.20"/></clipPath>
<rect x="672.10" y="721.70" width="114.60" height="114.20" fill="#0d0101"/>
<g clip-path="url(#cf2)">
<circle cx="781.66" cy="829.94" r="1.87" fill="#5a1212" opacity="0.8" filter="url(#blur1)"/>
<circle cx="681.83" cy="817.11" r="2.68" fill="#5a1212" opacity="0.8" filter="url(#blur1)"/>
<circle cx="748.85" cy="756.89" r="2.53" fill="#5a1212" opacity="0.8" filter="url(#blur1)"/>
<circle cx="741.64" cy="788.07" r="1.99" fill="#5a1212" opacity="0.8" filter="url(#blur1)"/>
<circle cx="721.45" cy="766.64" r="2.67" fill="#5a1212" opacity="0.8" filter="url(#blur1)"/>
<circle cx="786.11" cy="830.12" r="2.45" fill="#5a1212" opacity="0.8" filter="url(#blur1)"/>
<circle cx="723.08" cy="752.33" r="1.84" fill="#5a1212" opacity="0.8" filter="url(#blur1)"/>
<circle cx="675.25" cy="774.79" r="2.18" fill="#5a1212" opacity="0.8" filter="url(#blur1)"/>
<circle cx="715.65" cy="823.54" r="2.43" fill="#5a1212" opacity="0.8" filter="url(#blur1)"/>
<circle cx="736.33" cy="748.67" r="1.83" fill="#5a1212" opacity="0.8" filter="url(#blur1)"/>
<circle cx="709.36" cy="737.31" r="2.41" fill="#5a1212" opacity="0.8" filter="url(#blur1)"/>
<circle cx="786.55" cy="798.73" r="2.02" fill="#5a1212" opacity="0.8" filter="url(#blur1)"/>
<circle cx="774.50" cy="812.69" r="2.68" fill="#5a1212" opacity="0.8" filter="url(#blur1)"/>
<circle cx="776.00" cy="808.82" r="2.75" fill="#5a1212" opacity="0.8" filter="url(#blur1)"/>
<circle cx="712.64" cy="833.73" r="2.95" fill="#5a1212" opacity="0.8" filter="url(#blur1)"/>
<circle cx="690.57" cy="807.81" r="2.66" fill="#5a1212" opacity="0.8" filter="url(#blur1)"/>
<circle cx="724.98" cy="782.27" r="2.39" fill="#5a1212" opacity="0.8" filter="url(#blur1)"/>
<circle cx="778.09" cy="778.90" r="2.80" fill="#5a1212" opacity="0.8" filter="url(#blur1)"/>
<circle cx="712.66" cy="822.52" r="2.88" fill="#5a1212" opacity="0.8" filter="url(#blur1)"/>
<circle cx="724.93" cy="786.53" r="2.90" fill="#5a1212" opacity="0.8" filter="url(#blur1)"/>
<circle cx="755.04" cy="777.27" r="2.07" fill="#5a1212" opacity="0.8" filter="url(#blur1)"/>
<circle cx="709.31" cy="801.59" r="2.00" fill="#5a1212" opacity="0.8" filter="url(#blur1)"/>
<circle cx="776.15" cy="752.32" r="2.71" fill="#f03030" filter="url(#blur1)"/>
<circle cx="706.86" cy="812.98" r="2.63" fill="#b81818" filter="url(#blur1)"/>
<circle cx="707.84" cy="745.43" r="2.31" fill="#e02222" filter="url(#blur1)"/>
<circle cx="761.98" cy="760.69" r="1.81" fill="#d01c1c" filter="url(#blur1)"/>
<circle cx="786.36" cy="733.82" r="2.37" fill="#e02222" filter="url(#blur1)"/>
<circle cx="703.40" cy="747.58" r="2.68" fill="#e02222" filter="url(#blur1)"/>
<circle cx="758.55" cy="737.29" r="2.07" fill="#d01c1c" filter="url(#blur1)"/>
<circle cx="780.23" cy="728.60" r="2.70" fill="#e02222" filter="url(#blur1)"/>
<circle cx="678.61" cy="762.84" r="2.05" fill="#e02222" filter="url(#blur1)"/>
<circle cx="681.60" cy="830.71" r="1.83" fill="#e02222" filter="url(#blur1)"/>
<circle cx="714.86" cy="736.29" r="2.74" fill="#d01c1c" filter="url(#blur1)"/>
<circle cx="732.05" cy="721.92" r="2.39" fill="#d01c1c" filter="url(#blur1)"/>
<circle cx="689.45" cy="725.84" r="2.14" fill="#e02222" filter="url(#blur1)"/>
</g>
<rect x="761.20" y="824.40" width="18.50" height="3.00" fill="#fff"/>
<clipPath id="cf3"><rect x="790.20" y="721.70" width="114.20" height="114.20"/></clipPath>
<rect x="790.20" y="721.70" width="114.20" height="114.20" fill="#0a1f08"/>
<g clip-path="url(#cf3)">
<ellipse cx="817.4" cy="783.9" rx="3.6" ry="2.7" fill="#1a5a1a" opacity="0.5" filter="url(#blur2)"/>
<ellipse cx="859.2" cy="793.2" rx="2.8" ry="2.1" fill="#1a5a1a" opacity="0.5" filter="url(#blur2)"/>
<ellipse cx="791.7" cy="817.3" rx="3.3" ry="2.5" fill="#1a5a1a" opacity="0.5" filter="url(#blur2)"/>
<ellipse cx="817.0" cy="835.4" rx="3.8" ry="2.9" fill="#1a5a1a" opacity="0.5" filter="url(#blur2)"/>
<ellipse cx="885.7" cy="776.1" rx="4.3" ry="3.3" fill="#1a5a1a" opacity="0.5" filter="url(#blur2)"/>
<ellipse cx="807.4" cy="794.2" rx="4.9" ry="3.7" fill="#1a5a1a" opacity="0.5" filter="url(#blur2)"/>
<ellipse cx="849.9" cy="806.4" rx="4.3" ry="3.3" fill="#1a5a1a" opacity="0.5" filter="url(#blur2)"/>
<ellipse cx="797.5" cy="808.3" rx="4.1" ry="3.2" fill="#1a5a1a" opacity="0.5" filter="url(#blur2)"/>
<ellipse cx="824.6" cy="725.2" rx="4.9" ry="3.7" fill="#1a5a1a" opacity="0.5" filter="url(#blur2)"/>
<ellipse cx="844.2" cy="803.8" rx="4.9" ry="3.8" fill="#1a5a1a" opacity="0.5" filter="url(#blur2)"/>
<ellipse cx="871.8" cy="826.9" rx="3.6" ry="2.8" fill="#1a5a1a" opacity="0.5" filter="url(#blur2)"/>
<ellipse cx="881.7" cy="772.5" rx="5.0" ry="3.9" fill="#1a5a1a" opacity="0.5" filter="url(#blur2)"/>
<ellipse cx="890.6" cy="732.8" rx="3.0" ry="2.3" fill="#1a5a1a" opacity="0.5" filter="url(#blur2)"/>
<ellipse cx="815.0" cy="832.0" rx="3.7" ry="2.9" fill="#1a5a1a" opacity="0.5" filter="url(#blur2)"/>
<ellipse cx="861.8" cy="756.1" rx="3.9" ry="3.0" fill="#1a5a1a" opacity="0.5" filter="url(#blur2)"/>
<ellipse cx="834.3" cy="761.8" rx="4.1" ry="3.2" fill="#1a5a1a" opacity="0.5" filter="url(#blur2)"/>
<ellipse cx="856.9" cy="825.0" rx="4.4" ry="3.4" fill="#1a5a1a" opacity="0.5" filter="url(#blur2)"/>
<ellipse cx="896.3" cy="819.5" rx="5.2" ry="4.0" fill="#1a5a1a" opacity="0.5" filter="url(#blur2)"/>
<ellipse cx="866.9" cy="740.3" rx="4.8" ry="3.7" fill="#1a5a1a" opacity="0.5" filter="url(#blur2)"/>
<ellipse cx="900.4" cy="825.0" rx="4.1" ry="3.1" fill="#1a5a1a" opacity="0.5" filter="url(#blur2)"/>
<ellipse cx="871.7" cy="745.8" rx="4.8" ry="3.7" fill="#1a5a1a" opacity="0.5" filter="url(#blur2)"/>
<ellipse cx="855.7" cy="754.2" rx="2.8" ry="2.1" fill="#1a5a1a" opacity="0.5" filter="url(#blur2)"/>
<ellipse cx="887.7" cy="834.7" rx="2.8" ry="2.2" fill="#1a5a1a" opacity="0.5" filter="url(#blur2)"/>
<ellipse cx="881.6" cy="768.6" rx="3.0" ry="2.3" fill="#1a5a1a" opacity="0.5" filter="url(#blur2)"/>
<ellipse cx="823.8" cy="809.5" rx="4.9" ry="3.7" fill="#1a5a1a" opacity="0.5" filter="url(#blur2)"/>
<ellipse cx="795.2" cy="791.9" rx="2.7" ry="2.1" fill="#1a5a1a" opacity="0.5" filter="url(#blur2)"/>
<ellipse cx="872.2" cy="759.5" rx="4.9" ry="3.8" fill="#1a5a1a" opacity="0.5" filter="url(#blur2)"/>
<ellipse cx="902.2" cy="779.4" rx="5.2" ry="4.0" fill="#1a5a1a" opacity="0.5" filter="url(#blur2)"/>
<ellipse cx="825.6" cy="730.5" rx="4.2" ry="3.2" fill="#1a5a1a" opacity="0.5" filter="url(#blur2)"/>
<ellipse cx="793.8" cy="744.2" rx="3.7" ry="2.8" fill="#1a5a1a" opacity="0.5" filter="url(#blur2)"/>
<ellipse cx="859.9" cy="739.5" rx="2.7" ry="2.1" fill="#1a5a1a" opacity="0.5" filter="url(#blur2)"/>
<ellipse cx="889.3" cy="757.5" rx="5.1" ry="3.9" fill="#1a5a1a" opacity="0.5" filter="url(#blur2)"/>
<ellipse cx="892.6" cy="764.8" rx="3.8" ry="2.9" fill="#1a5a1a" opacity="0.5" filter="url(#blur2)"/>
<ellipse cx="849.6" cy="795.2" rx="4.1" ry="3.2" fill="#1a5a1a" opacity="0.5" filter="url(#blur2)"/>
<ellipse cx="854.1" cy="792.5" rx="5.0" ry="3.9" fill="#1a5a1a" opacity="0.5" filter="url(#blur2)"/>
<ellipse cx="848.1" cy="770.9" rx="4.5" ry="3.4" fill="#1a5a1a" opacity="0.5" filter="url(#blur2)"/>
<ellipse cx="817.3" cy="756.1" rx="5.1" ry="4.0" fill="#1a5a1a" opacity="0.5" filter="url(#blur2)"/>
<ellipse cx="849.7" cy="784.3" rx="2.6" ry="2.0" fill="#1a5a1a" opacity="0.5" filter="url(#blur2)"/>
<ellipse cx="837.6" cy="787.9" rx="2.7" ry="2.0" fill="#1a5a1a" opacity="0.5" filter="url(#blur2)"/>
<ellipse cx="860.5" cy="793.9" rx="2.8" ry="2.1" fill="#1a5a1a" opacity="0.5" filter="url(#blur2)"/>
<circle cx="861.84" cy="774.95" r="1.01" fill="#30b030" opacity="0.9" filter="url(#blur1)"/>
<circle cx="859.73" cy="753.55" r="0.89" fill="#228a22" opacity="0.9" filter="url(#blur1)"/>
<circle cx="797.12" cy="798.90" r="1.18" fill="#30b030" opacity="0.9" filter="url(#blur1)"/>
<circle cx="861.91" cy="755.80" r="0.96" fill="#2a9a2a" opacity="0.9" filter="url(#blur1)"/>
<circle cx="831.76" cy="757.41" r="0.82" fill="#228a22" opacity="0.9" filter="url(#blur1)"/>
<circle cx="820.36" cy="811.61" r="0.66" fill="#2a9a2a" opacity="0.9" filter="url(#blur1)"/>
<circle cx="901.13" cy="799.78" r="0.68" fill="#228a22" opacity="0.9" filter="url(#blur1)"/>
<circle cx="815.61" cy="813.49" r="0.74" fill="#2a9a2a" opacity="0.9" filter="url(#blur1)"/>
<circle cx="867.63" cy="795.88" r="0.66" fill="#228a22" opacity="0.9" filter="url(#blur1)"/>
<circle cx="826.97" cy="759.81" r="1.10" fill="#30b030" opacity="0.9" filter="url(#blur1)"/>
<circle cx="882.68" cy="831.41" r="0.65" fill="#228a22" opacity="0.9" filter="url(#blur1)"/>
<circle cx="864.46" cy="822.76" r="0.87" fill="#2a9a2a" opacity="0.9" filter="url(#blur1)"/>
<circle cx="880.08" cy="725.57" r="1.17" fill="#30b030" opacity="0.9" filter="url(#blur1)"/>
<circle cx="882.33" cy="817.45" r="0.71" fill="#30b030" opacity="0.9" filter="url(#blur1)"/>
<circle cx="829.04" cy="816.25" r="0.65" fill="#228a22" opacity="0.9" filter="url(#blur1)"/>
<circle cx="829.63" cy="736.51" r="0.78" fill="#30b030" opacity="0.9" filter="url(#blur1)"/>
<circle cx="843.27" cy="794.12" r="0.77" fill="#228a22" opacity="0.9" filter="url(#blur1)"/>
<circle cx="836.97" cy="826.83" r="0.69" fill="#2a9a2a" opacity="0.9" filter="url(#blur1)"/>
<circle cx="844.71" cy="816.78" r="0.97" fill="#228a22" opacity="0.9" filter="url(#blur1)"/>
<circle cx="839.80" cy="830.21" r="1.16" fill="#2a9a2a" opacity="0.9" filter="url(#blur1)"/>
<circle cx="793.89" cy="773.85" r="1.05" fill="#228a22" opacity="0.9" filter="url(#blur1)"/>
<circle cx="849.47" cy="754.71" r="0.80" fill="#2a9a2a" opacity="0.9" filter="url(#blur1)"/>
<circle cx="888.59" cy="819.68" r="1.18" fill="#2a9a2a" opacity="0.9" filter="url(#blur1)"/>
<circle cx="882.72" cy="726.85" r="1.14" fill="#228a22" opacity="0.9" filter="url(#blur1)"/>
<circle cx="848.70" cy="744.37" r="1.13" fill="#30b030" opacity="0.9" filter="url(#blur1)"/>
<circle cx="856.09" cy="723.20" r="1.05" fill="#2a9a2a" opacity="0.9" filter="url(#blur1)"/>
<circle cx="847.66" cy="749.00" r="0.61" fill="#228a22" opacity="0.9" filter="url(#blur1)"/>
<circle cx="837.45" cy="828.94" r="0.97" fill="#30b030" opacity="0.9" filter="url(#blur1)"/>
<circle cx="804.52" cy="832.70" r="0.92" fill="#2a9a2a" opacity="0.9" filter="url(#blur1)"/>
<circle cx="830.38" cy="744.24" r="0.92" fill="#2a9a2a" opacity="0.9" filter="url(#blur1)"/>
<circle cx="809.76" cy="812.11" r="1.15" fill="#2a9a2a" opacity="0.9" filter="url(#blur1)"/>
<circle cx="884.24" cy="722.56" r="0.98" fill="#30b030" opacity="0.9" filter="url(#blur1)"/>
<circle cx="795.90" cy="752.69" r="0.76" fill="#228a22" opacity="0.9" filter="url(#blur1)"/>
<circle cx="849.55" cy="727.52" r="0.79" fill="#2a9a2a" opacity="0.9" filter="url(#blur1)"/>
<circle cx="888.07" cy="810.23" r="0.63" fill="#2a9a2a" opacity="0.9" filter="url(#blur1)"/>
<circle cx="798.01" cy="833.01" r="1.11" fill="#2a9a2a" opacity="0.9" filter="url(#blur1)"/>
<circle cx="849.06" cy="777.66" r="0.69" fill="#2a9a2a" opacity="0.9" filter="url(#blur1)"/>
<circle cx="830.32" cy="795.58" r="0.95" fill="#30b030" opacity="0.9" filter="url(#blur1)"/>
<circle cx="820.46" cy="834.53" r="0.86" fill="#2a9a2a" opacity="0.9" filter="url(#blur1)"/>
<circle cx="853.64" cy="803.47" r="0.83" fill="#2a9a2a" opacity="0.9" filter="url(#blur1)"/>
<circle cx="854.92" cy="726.61" r="0.88" fill="#228a22" opacity="0.9" filter="url(#blur1)"/>
<circle cx="879.58" cy="765.13" r="1.08" fill="#228a22" opacity="0.9" filter="url(#blur1)"/>
<circle cx="891.44" cy="727.76" r="0.98" fill="#228a22" opacity="0.9" filter="url(#blur1)"/>
<circle cx="826.17" cy="830.22" r="0.85" fill="#2a9a2a" opacity="0.9" filter="url(#blur1)"/>
<circle cx="818.19" cy="782.89" r="1.02" fill="#2a9a2a" opacity="0.9" filter="url(#blur1)"/>
<circle cx="881.92" cy="747.33" r="0.68" fill="#2a9a2a" opacity="0.9" filter="url(#blur1)"/>
<circle cx="897.15" cy="764.44" r="1.14" fill="#30b030" opacity="0.9" filter="url(#blur1)"/>
<circle cx="804.07" cy="800.56" r="1.16" fill="#228a22" opacity="0.9" filter="url(#blur1)"/>
<circle cx="865.83" cy="823.03" r="1.08" fill="#228a22" opacity="0.9" filter="url(#blur1)"/>
<circle cx="802.61" cy="758.06" r="0.92" fill="#228a22" opacity="0.9" filter="url(#blur1)"/>
<circle cx="872.03" cy="775.78" r="0.74" fill="#30b030" opacity="0.9" filter="url(#blur1)"/>
<circle cx="795.26" cy="732.18" r="0.66" fill="#30b030" opacity="0.9" filter="url(#blur1)"/>
<circle cx="810.66" cy="724.38" r="1.10" fill="#2a9a2a" opacity="0.9" filter="url(#blur1)"/>
<circle cx="793.11" cy="734.84" r="0.89" fill="#228a22" opacity="0.9" filter="url(#blur1)"/>
<circle cx="898.97" cy="787.83" r="1.08" fill="#2a9a2a" opacity="0.9" filter="url(#blur1)"/>
<circle cx="903.97" cy="786.07" r="0.92" fill="#2a9a2a" opacity="0.9" filter="url(#blur1)"/>
<circle cx="802.39" cy="807.23" r="1.16" fill="#2a9a2a" opacity="0.9" filter="url(#blur1)"/>
<circle cx="853.02" cy="820.99" r="0.71" fill="#2a9a2a" opacity="0.9" filter="url(#blur1)"/>
<circle cx="817.85" cy="742.23" r="0.75" fill="#228a22" opacity="0.9" filter="url(#blur1)"/>
<circle cx="870.15" cy="829.35" r="0.75" fill="#228a22" opacity="0.9" filter="url(#blur1)"/>
<ellipse cx="835.5" cy="761.7" rx="2.6" ry="1.5" fill="#2cc82c" filter="url(#blur1)" transform="rotate(-2 835.5 761.7)"/>
<ellipse cx="847.3" cy="832.8" rx="2.6" ry="1.5" fill="#38dc38" filter="url(#blur1)" transform="rotate(3 847.3 832.8)"/>
<ellipse cx="869.1" cy="808.0" rx="3.0" ry="1.8" fill="#1e9a1e" filter="url(#blur1)" transform="rotate(-31 869.1 808.0)"/>
<ellipse cx="863.6" cy="824.2" rx="2.1" ry="1.2" fill="#2cc82c" filter="url(#blur1)" transform="rotate(13 863.6 824.2)"/>
<ellipse cx="875.6" cy="826.4" rx="2.7" ry="1.6" fill="#1e9a1e" filter="url(#blur1)" transform="rotate(25 875.6 826.4)"/>
<ellipse cx="872.3" cy="743.0" rx="2.3" ry="1.4" fill="#38dc38" filter="url(#blur1)" transform="rotate(-32 872.3 743.0)"/>
<ellipse cx="857.1" cy="757.7" rx="2.3" ry="1.3" fill="#24b024" filter="url(#blur1)" transform="rotate(35 857.1 757.7)"/>
<ellipse cx="870.7" cy="768.9" rx="3.3" ry="2.0" fill="#24b024" filter="url(#blur1)" transform="rotate(-23 870.7 768.9)"/>
<ellipse cx="825.3" cy="752.3" rx="3.2" ry="1.9" fill="#38dc38" filter="url(#blur1)" transform="rotate(-28 825.3 752.3)"/>
<ellipse cx="855.3" cy="749.0" rx="2.7" ry="1.6" fill="#38dc38" filter="url(#blur1)" transform="rotate(3 855.3 749.0)"/>
<ellipse cx="903.4" cy="776.5" rx="2.9" ry="1.7" fill="#1e9a1e" filter="url(#blur1)" transform="rotate(24 903.4 776.5)"/>
<ellipse cx="885.5" cy="815.5" rx="2.8" ry="1.7" fill="#1e9a1e" filter="url(#blur1)" transform="rotate(42 885.5 815.5)"/>
<ellipse cx="798.5" cy="829.9" rx="3.2" ry="1.9" fill="#2cc82c" filter="url(#blur1)" transform="rotate(9 798.5 829.9)"/>
<ellipse cx="894.2" cy="823.5" rx="3.0" ry="1.7" fill="#2cc82c" filter="url(#blur1)" transform="rotate(-23 894.2 823.5)"/>
<ellipse cx="887.7" cy="749.3" rx="2.2" ry="1.3" fill="#24b024" filter="url(#blur1)" transform="rotate(-33 887.7 749.3)"/>
<ellipse cx="811.6" cy="802.2" rx="3.3" ry="2.0" fill="#24b024" filter="url(#blur1)" transform="rotate(-29 811.6 802.2)"/>
<ellipse cx="889.0" cy="757.5" rx="2.6" ry="1.5" fill="#2cc82c" filter="url(#blur1)" transform="rotate(-35 889.0 757.5)"/>
<ellipse cx="800.8" cy="816.9" rx="2.4" ry="1.4" fill="#24b024" filter="url(#blur1)" transform="rotate(7 800.8 816.9)"/>
<ellipse cx="856.5" cy="798.8" rx="1.9" ry="1.1" fill="#24b024" filter="url(#blur1)" transform="rotate(-8 856.5 798.8)"/>
<ellipse cx="840.0" cy="777.2" rx="2.2" ry="1.3" fill="#1e9a1e" filter="url(#blur1)" transform="rotate(0 840.0 777.2)"/>
<ellipse cx="804.5" cy="758.1" rx="3.4" ry="2.0" fill="#2cc82c" filter="url(#blur1)" transform="rotate(35 804.5 758.1)"/>
<ellipse cx="839.6" cy="771.8" rx="2.8" ry="1.6" fill="#24b024" filter="url(#blur1)" transform="rotate(-38 839.6 771.8)"/>
<circle cx="850.46" cy="801.72" r="2.61" fill="#5a1212" opacity="0.8" filter="url(#blur1)"/>
<circle cx="832.28" cy="773.14" r="2.60" fill="#5a1212" opacity="0.8" filter="url(#blur1)"/>
<circle cx="866.71" cy="829.53" r="2.78" fill="#5a1212" opacity="0.8" filter="url(#blur1)"/>
<circle cx="802.44" cy="829.56" r="2.21" fill="#5a1212" opacity="0.8" filter="url(#blur1)"/>
<circle cx="854.84" cy="781.73" r="2.60" fill="#5a1212" opacity="0.8" filter="url(#blur1)"/>
<circle cx="848.29" cy="728.50" r="2.15" fill="#5a1212" opacity="0.8" filter="url(#blur1)"/>
<circle cx="873.33" cy="806.47" r="2.58" fill="#5a1212" opacity="0.8" filter="url(#blur1)"/>
<circle cx="873.59" cy="738.78" r="2.24" fill="#5a1212" opacity="0.8" filter="url(#blur1)"/>
<circle cx="895.26" cy="773.57" r="1.91" fill="#d01c1c" filter="url(#blur1)"/>
<circle cx="895.36" cy="795.36" r="2.45" fill="#b81818" filter="url(#blur1)"/>
<circle cx="853.57" cy="795.64" r="2.26" fill="#f03030" filter="url(#blur1)"/>
<circle cx="879.53" cy="802.26" r="1.91" fill="#d01c1c" filter="url(#blur1)"/>
<circle cx="876.36" cy="783.73" r="2.54" fill="#f03030" filter="url(#blur1)"/>
<circle cx="801.60" cy="752.63" r="1.85" fill="#d01c1c" filter="url(#blur1)"/>
<circle cx="795.01" cy="779.34" r="2.05" fill="#f03030" filter="url(#blur1)"/>
<circle cx="890.15" cy="829.62" r="2.25" fill="#e02222" filter="url(#blur1)"/>
<circle cx="830.50" cy="818.41" r="1.91" fill="#f03030" filter="url(#blur1)"/>
<circle cx="857.59" cy="799.53" r="2.36" fill="#e02222" filter="url(#blur1)"/>
<circle cx="811.31" cy="743.30" r="2.22" fill="#b81818" filter="url(#blur1)"/>
<circle cx="883.36" cy="807.20" r="2.39" fill="#d01c1c" filter="url(#blur1)"/>
<circle cx="888.36" cy="812.85" r="2.34" fill="#d01c1c" filter="url(#blur1)"/>
<circle cx="855.11" cy="744.78" r="2.05" fill="#f03030" filter="url(#blur1)"/>
<circle cx="793.64" cy="813.42" r="2.69" fill="#b81818" filter="url(#blur1)"/>
<circle cx="826.28" cy="825.18" r="2.11" fill="#b81818" filter="url(#blur1)"/>
<circle cx="901.77" cy="800.11" r="2.10" fill="#b81818" filter="url(#blur1)"/>
</g>
<rect x="878.90" y="824.40" width="18.50" height="3.00" fill="#fff"/>
<clipPath id="cf4"><rect x="554.20" y="838.00" width="114.50" height="114.00"/></clipPath>
<rect x="554.20" y="838.00" width="114.50" height="114.00" fill="#0a230a"/>
<g clip-path="url(#cf4)">
<ellipse cx="581.2" cy="849.8" rx="3.6" ry="2.8" fill="#1a5a1a" opacity="0.5" filter="url(#blur2)"/>
<ellipse cx="571.9" cy="845.6" rx="3.6" ry="2.8" fill="#1a5a1a" opacity="0.5" filter="url(#blur2)"/>
<ellipse cx="659.3" cy="929.3" rx="4.6" ry="3.5" fill="#1a5a1a" opacity="0.5" filter="url(#blur2)"/>
<ellipse cx="579.6" cy="899.2" rx="3.3" ry="2.6" fill="#1a5a1a" opacity="0.5" filter="url(#blur2)"/>
<ellipse cx="574.0" cy="850.1" rx="3.2" ry="2.4" fill="#1a5a1a" opacity="0.5" filter="url(#blur2)"/>
<ellipse cx="660.4" cy="932.5" rx="4.7" ry="3.6" fill="#1a5a1a" opacity="0.5" filter="url(#blur2)"/>
<ellipse cx="645.9" cy="860.1" rx="3.4" ry="2.6" fill="#1a5a1a" opacity="0.5" filter="url(#blur2)"/>
<ellipse cx="626.0" cy="921.4" rx="4.8" ry="3.7" fill="#1a5a1a" opacity="0.5" filter="url(#blur2)"/>
<ellipse cx="655.0" cy="847.9" rx="4.2" ry="3.2" fill="#1a5a1a" opacity="0.5" filter="url(#blur2)"/>
<ellipse cx="631.1" cy="895.7" rx="3.1" ry="2.4" fill="#1a5a1a" opacity="0.5" filter="url(#blur2)"/>
<ellipse cx="608.4" cy="848.2" rx="5.0" ry="3.9" fill="#1a5a1a" opacity="0.5" filter="url(#blur2)"/>
<ellipse cx="653.3" cy="900.4" rx="3.4" ry="2.6" fill="#1a5a1a" opacity="0.5" filter="url(#blur2)"/>
<ellipse cx="658.3" cy="903.2" rx="4.9" ry="3.8" fill="#1a5a1a" opacity="0.5" filter="url(#blur2)"/>
<ellipse cx="651.3" cy="896.0" rx="3.7" ry="2.8" fill="#1a5a1a" opacity="0.5" filter="url(#blur2)"/>
<ellipse cx="622.8" cy="887.1" rx="3.0" ry="2.3" fill="#1a5a1a" opacity="0.5" filter="url(#blur2)"/>
<ellipse cx="589.1" cy="930.6" rx="2.7" ry="2.1" fill="#1a5a1a" opacity="0.5" filter="url(#blur2)"/>
<ellipse cx="559.5" cy="909.4" rx="3.3" ry="2.6" fill="#1a5a1a" opacity="0.5" filter="url(#blur2)"/>
<ellipse cx="615.4" cy="891.7" rx="3.5" ry="2.7" fill="#1a5a1a" opacity="0.5" filter="url(#blur2)"/>
<ellipse cx="668.4" cy="860.3" rx="3.7" ry="2.8" fill="#1a5a1a" opacity="0.5" filter="url(#blur2)"/>
<ellipse cx="577.4" cy="910.1" rx="3.3" ry="2.6" fill="#1a5a1a" opacity="0.5" filter="url(#blur2)"/>
<ellipse cx="594.9" cy="923.2" rx="3.4" ry="2.6" fill="#1a5a1a" opacity="0.5" filter="url(#blur2)"/>
<ellipse cx="618.2" cy="941.1" rx="2.9" ry="2.2" fill="#1a5a1a" opacity="0.5" filter="url(#blur2)"/>
<ellipse cx="561.3" cy="864.1" rx="4.6" ry="3.5" fill="#1a5a1a" opacity="0.5" filter="url(#blur2)"/>
<ellipse cx="624.7" cy="865.1" rx="3.5" ry="2.7" fill="#1a5a1a" opacity="0.5" filter="url(#blur2)"/>
<ellipse cx="574.5" cy="890.3" rx="2.7" ry="2.1" fill="#1a5a1a" opacity="0.5" filter="url(#blur2)"/>
<ellipse cx="634.0" cy="940.1" rx="5.1" ry="3.9" fill="#1a5a1a" opacity="0.5" filter="url(#blur2)"/>
<ellipse cx="638.3" cy="947.4" rx="2.6" ry="2.0" fill="#1a5a1a" opacity="0.5" filter="url(#blur2)"/>
<ellipse cx="587.3" cy="948.1" rx="4.6" ry="3.6" fill="#1a5a1a" opacity="0.5" filter="url(#blur2)"/>
<ellipse cx="601.2" cy="945.5" rx="4.2" ry="3.2" fill="#1a5a1a" opacity="0.5" filter="url(#blur2)"/>
<ellipse cx="647.9" cy="871.4" rx="3.1" ry="2.4" fill="#1a5a1a" opacity="0.5" filter="url(#blur2)"/>
<ellipse cx="605.1" cy="853.6" rx="3.6" ry="2.8" fill="#1a5a1a" opacity="0.5" filter="url(#blur2)"/>
<ellipse cx="664.3" cy="875.8" rx="2.6" ry="2.0" fill="#1a5a1a" opacity="0.5" filter="url(#blur2)"/>
<ellipse cx="559.3" cy="857.3" rx="4.6" ry="3.6" fill="#1a5a1a" opacity="0.5" filter="url(#blur2)"/>
<ellipse cx="595.7" cy="871.1" rx="2.9" ry="2.2" fill="#1a5a1a" opacity="0.5" filter="url(#blur2)"/>
<ellipse cx="666.6" cy="886.3" rx="3.1" ry="2.4" fill="#1a5a1a" opacity="0.5" filter="url(#blur2)"/>
<ellipse cx="561.0" cy="844.3" rx="3.0" ry="2.3" fill="#1a5a1a" opacity="0.5" filter="url(#blur2)"/>
<ellipse cx="631.7" cy="855.1" rx="2.7" ry="2.1" fill="#1a5a1a" opacity="0.5" filter="url(#blur2)"/>
<ellipse cx="610.4" cy="866.4" rx="5.2" ry="4.0" fill="#1a5a1a" opacity="0.5" filter="url(#blur2)"/>
<ellipse cx="568.2" cy="898.3" rx="4.6" ry="3.5" fill="#1a5a1a" opacity="0.5" filter="url(#blur2)"/>
<ellipse cx="601.1" cy="950.6" rx="3.8" ry="3.0" fill="#1a5a1a" opacity="0.5" filter="url(#blur2)"/>
<ellipse cx="581.9" cy="884.8" rx="2.7" ry="2.1" fill="#1a5a1a" opacity="0.5" filter="url(#blur2)"/>
<ellipse cx="602.4" cy="866.3" rx="4.9" ry="3.8" fill="#1a5a1a" opacity="0.5" filter="url(#blur2)"/>
<ellipse cx="649.4" cy="894.8" rx="2.7" ry="2.1" fill="#1a5a1a" opacity="0.5" filter="url(#blur2)"/>
<ellipse cx="583.3" cy="865.6" rx="3.1" ry="2.4" fill="#1a5a1a" opacity="0.5" filter="url(#blur2)"/>
<ellipse cx="580.7" cy="937.1" rx="3.0" ry="2.3" fill="#1a5a1a" opacity="0.5" filter="url(#blur2)"/>
<ellipse cx="560.1" cy="943.8" rx="4.1" ry="3.1" fill="#1a5a1a" opacity="0.5" filter="url(#blur2)"/>
<ellipse cx="667.6" cy="883.9" rx="4.9" ry="3.8" fill="#1a5a1a" opacity="0.5" filter="url(#blur2)"/>
<ellipse cx="629.1" cy="928.2" rx="4.5" ry="3.5" fill="#1a5a1a" opacity="0.5" filter="url(#blur2)"/>
<ellipse cx="610.8" cy="848.6" rx="3.1" ry="2.4" fill="#1a5a1a" opacity="0.5" filter="url(#blur2)"/>
<ellipse cx="654.3" cy="940.6" rx="5.0" ry="3.8" fill="#1a5a1a" opacity="0.5" filter="url(#blur2)"/>
<ellipse cx="592.7" cy="912.9" rx="4.7" ry="3.6" fill="#1a5a1a" opacity="0.5" filter="url(#blur2)"/>
<ellipse cx="627.8" cy="930.9" rx="4.0" ry="3.1" fill="#1a5a1a" opacity="0.5" filter="url(#blur2)"/>
<ellipse cx="629.2" cy="916.2" rx="3.3" ry="2.5" fill="#1a5a1a" opacity="0.5" filter="url(#blur2)"/>
<ellipse cx="659.9" cy="947.0" rx="2.8" ry="2.1" fill="#1a5a1a" opacity="0.5" filter="url(#blur2)"/>
<ellipse cx="665.4" cy="947.6" rx="4.3" ry="3.3" fill="#1a5a1a" opacity="0.5" filter="url(#blur2)"/>
<ellipse cx="559.3" cy="940.5" rx="2.9" ry="2.3" fill="#1a5a1a" opacity="0.5" filter="url(#blur2)"/>
<ellipse cx="665.1" cy="914.1" rx="2.8" ry="2.1" fill="#1a5a1a" opacity="0.5" filter="url(#blur2)"/>
<ellipse cx="573.4" cy="910.4" rx="4.1" ry="3.1" fill="#1a5a1a" opacity="0.5" filter="url(#blur2)"/>
<ellipse cx="639.7" cy="943.7" rx="3.2" ry="2.4" fill="#1a5a1a" opacity="0.5" filter="url(#blur2)"/>
<ellipse cx="554.6" cy="943.1" rx="2.6" ry="2.0" fill="#1a5a1a" opacity="0.5" filter="url(#blur2)"/>
<circle cx="654.55" cy="851.21" r="1.09" fill="#30b030" opacity="0.9" filter="url(#blur1)"/>
<circle cx="654.72" cy="900.77" r="1.13" fill="#2a9a2a" opacity="0.9" filter="url(#blur1)"/>
<circle cx="572.74" cy="907.34" r="1.09" fill="#228a22" opacity="0.9" filter="url(#blur1)"/>
<circle cx="642.77" cy="891.75" r="0.92" fill="#2a9a2a" opacity="0.9" filter="url(#blur1)"/>
<circle cx="563.24" cy="917.28" r="0.67" fill="#228a22" opacity="0.9" filter="url(#blur1)"/>
<circle cx="653.21" cy="907.33" r="0.68" fill="#30b030" opacity="0.9" filter="url(#blur1)"/>
<circle cx="563.32" cy="938.21" r="1.14" fill="#30b030" opacity="0.9" filter="url(#blur1)"/>
<circle cx="650.12" cy="932.34" r="0.65" fill="#228a22" opacity="0.9" filter="url(#blur1)"/>
<circle cx="606.16" cy="861.41" r="1.19" fill="#30b030" opacity="0.9" filter="url(#blur1)"/>
<circle cx="580.96" cy="893.48" r="1.18" fill="#2a9a2a" opacity="0.9" filter="url(#blur1)"/>
<circle cx="563.04" cy="942.40" r="1.08" fill="#30b030" opacity="0.9" filter="url(#blur1)"/>
<circle cx="612.88" cy="887.47" r="1.11" fill="#30b030" opacity="0.9" filter="url(#blur1)"/>
<circle cx="561.86" cy="938.47" r="0.72" fill="#30b030" opacity="0.9" filter="url(#blur1)"/>
<circle cx="660.66" cy="892.57" r="0.67" fill="#228a22" opacity="0.9" filter="url(#blur1)"/>
<circle cx="573.36" cy="937.67" r="0.71" fill="#2a9a2a" opacity="0.9" filter="url(#blur1)"/>
<circle cx="591.59" cy="936.02" r="0.76" fill="#2a9a2a" opacity="0.9" filter="url(#blur1)"/>
<circle cx="635.55" cy="838.63" r="0.79" fill="#228a22" opacity="0.9" filter="url(#blur1)"/>
<circle cx="566.89" cy="927.63" r="0.96" fill="#228a22" opacity="0.9" filter="url(#blur1)"/>
<circle cx="562.87" cy="865.98" r="1.11" fill="#30b030" opacity="0.9" filter="url(#blur1)"/>
<circle cx="580.44" cy="858.57" r="1.12" fill="#2a9a2a" opacity="0.9" filter="url(#blur1)"/>
<circle cx="631.69" cy="907.49" r="0.79" fill="#30b030" opacity="0.9" filter="url(#blur1)"/>
<circle cx="643.79" cy="902.79" r="1.16" fill="#228a22" opacity="0.9" filter="url(#blur1)"/>
<circle cx="644.29" cy="907.88" r="0.87" fill="#2a9a2a" opacity="0.9" filter="url(#blur1)"/>
<circle cx="583.02" cy="906.07" r="1.19" fill="#30b030" opacity="0.9" filter="url(#blur1)"/>
<circle cx="569.46" cy="847.41" r="0.69" fill="#228a22" opacity="0.9" filter="url(#blur1)"/>
<circle cx="574.54" cy="940.82" r="0.82" fill="#228a22" opacity="0.9" filter="url(#blur1)"/>
<circle cx="645.10" cy="914.95" r="1.13" fill="#2a9a2a" opacity="0.9" filter="url(#blur1)"/>
<circle cx="600.29" cy="944.73" r="0.71" fill="#228a22" opacity="0.9" filter="url(#blur1)"/>
<circle cx="596.78" cy="857.91" r="1.13" fill="#228a22" opacity="0.9" filter="url(#blur1)"/>
<circle cx="556.50" cy="946.23" r="1.10" fill="#30b030" opacity="0.9" filter="url(#blur1)"/>
<circle cx="646.63" cy="946.68" r="0.70" fill="#228a22" opacity="0.9" filter="url(#blur1)"/>
<circle cx="667.22" cy="913.35" r="1.20" fill="#2a9a2a" opacity="0.9" filter="url(#blur1)"/>
<circle cx="641.25" cy="948.41" r="0.67" fill="#228a22" opacity="0.9" filter="url(#blur1)"/>
<circle cx="609.06" cy="939.04" r="0.73" fill="#228a22" opacity="0.9" filter="url(#blur1)"/>
<circle cx="588.88" cy="943.77" r="0.84" fill="#228a22" opacity="0.9" filter="url(#blur1)"/>
<circle cx="581.39" cy="893.84" r="0.73" fill="#30b030" opacity="0.9" filter="url(#blur1)"/>
<circle cx="580.58" cy="875.23" r="0.98" fill="#30b030" opacity="0.9" filter="url(#blur1)"/>
<circle cx="657.14" cy="883.62" r="0.84" fill="#30b030" opacity="0.9" filter="url(#blur1)"/>
<circle cx="586.69" cy="884.92" r="0.61" fill="#2a9a2a" opacity="0.9" filter="url(#blur1)"/>
<circle cx="656.95" cy="890.27" r="0.94" fill="#30b030" opacity="0.9" filter="url(#blur1)"/>
<circle cx="600.48" cy="882.31" r="0.62" fill="#228a22" opacity="0.9" filter="url(#blur1)"/>
<circle cx="561.95" cy="949.01" r="1.19" fill="#30b030" opacity="0.9" filter="url(#blur1)"/>
<circle cx="623.34" cy="873.60" r="0.65" fill="#30b030" opacity="0.9" filter="url(#blur1)"/>
<circle cx="609.56" cy="910.95" r="0.89" fill="#228a22" opacity="0.9" filter="url(#blur1)"/>
<circle cx="643.27" cy="854.95" r="0.74" fill="#30b030" opacity="0.9" filter="url(#blur1)"/>
<circle cx="569.39" cy="843.34" r="0.84" fill="#228a22" opacity="0.9" filter="url(#blur1)"/>
<circle cx="632.14" cy="900.37" r="1.18" fill="#30b030" opacity="0.9" filter="url(#blur1)"/>
<circle cx="556.32" cy="865.97" r="1.05" fill="#2a9a2a" opacity="0.9" filter="url(#blur1)"/>
<circle cx="557.84" cy="874.08" r="0.67" fill="#2a9a2a" opacity="0.9" filter="url(#blur1)"/>
<circle cx="654.81" cy="911.34" r="0.97" fill="#228a22" opacity="0.9" filter="url(#blur1)"/>
<circle cx="634.58" cy="921.37" r="0.99" fill="#2a9a2a" opacity="0.9" filter="url(#blur1)"/>
<circle cx="654.79" cy="920.02" r="0.94" fill="#228a22" opacity="0.9" filter="url(#blur1)"/>
<circle cx="554.50" cy="938.38" r="0.69" fill="#30b030" opacity="0.9" filter="url(#blur1)"/>
<circle cx="571.86" cy="934.25" r="0.89" fill="#2a9a2a" opacity="0.9" filter="url(#blur1)"/>
<circle cx="597.25" cy="856.63" r="1.13" fill="#228a22" opacity="0.9" filter="url(#blur1)"/>
<circle cx="599.01" cy="915.76" r="1.12" fill="#30b030" opacity="0.9" filter="url(#blur1)"/>
<circle cx="573.70" cy="845.06" r="1.19" fill="#30b030" opacity="0.9" filter="url(#blur1)"/>
<circle cx="654.58" cy="840.17" r="1.18" fill="#2a9a2a" opacity="0.9" filter="url(#blur1)"/>
<circle cx="564.03" cy="851.22" r="0.97" fill="#2a9a2a" opacity="0.9" filter="url(#blur1)"/>
<circle cx="580.77" cy="901.10" r="0.89" fill="#228a22" opacity="0.9" filter="url(#blur1)"/>
<circle cx="615.14" cy="938.94" r="0.87" fill="#228a22" opacity="0.9" filter="url(#blur1)"/>
<circle cx="635.09" cy="943.02" r="1.16" fill="#30b030" opacity="0.9" filter="url(#blur1)"/>
<circle cx="592.70" cy="857.67" r="0.92" fill="#2a9a2a" opacity="0.9" filter="url(#blur1)"/>
<circle cx="566.47" cy="908.59" r="1.15" fill="#30b030" opacity="0.9" filter="url(#blur1)"/>
<circle cx="660.74" cy="932.83" r="0.85" fill="#228a22" opacity="0.9" filter="url(#blur1)"/>
<circle cx="558.46" cy="910.04" r="0.75" fill="#228a22" opacity="0.9" filter="url(#blur1)"/>
<circle cx="621.87" cy="927.41" r="0.89" fill="#30b030" opacity="0.9" filter="url(#blur1)"/>
<circle cx="646.64" cy="847.50" r="0.74" fill="#30b030" opacity="0.9" filter="url(#blur1)"/>
<circle cx="655.33" cy="913.05" r="1.02" fill="#228a22" opacity="0.9" filter="url(#blur1)"/>
<circle cx="591.11" cy="892.28" r="1.17" fill="#2a9a2a" opacity="0.9" filter="url(#blur1)"/>
<circle cx="574.48" cy="842.92" r="0.91" fill="#228a22" opacity="0.9" filter="url(#blur1)"/>
<circle cx="635.61" cy="842.44" r="1.01" fill="#30b030" opacity="0.9" filter="url(#blur1)"/>
<circle cx="643.69" cy="941.56" r="1.02" fill="#2a9a2a" opacity="0.9" filter="url(#blur1)"/>
<circle cx="612.32" cy="939.32" r="1.09" fill="#2a9a2a" opacity="0.9" filter="url(#blur1)"/>
<circle cx="562.39" cy="863.78" r="0.76" fill="#2a9a2a" opacity="0.9" filter="url(#blur1)"/>
<circle cx="656.18" cy="948.97" r="0.61" fill="#228a22" opacity="0.9" filter="url(#blur1)"/>
<circle cx="570.79" cy="879.02" r="1.13" fill="#228a22" opacity="0.9" filter="url(#blur1)"/>
<circle cx="593.70" cy="950.01" r="1.11" fill="#228a22" opacity="0.9" filter="url(#blur1)"/>
<circle cx="623.45" cy="841.88" r="0.85" fill="#2a9a2a" opacity="0.9" filter="url(#blur1)"/>
<circle cx="640.54" cy="936.35" r="0.78" fill="#228a22" opacity="0.9" filter="url(#blur1)"/>
<circle cx="586.59" cy="861.66" r="1.02" fill="#30b030" opacity="0.9" filter="url(#blur1)"/>
<circle cx="574.22" cy="840.05" r="1.13" fill="#30b030" opacity="0.9" filter="url(#blur1)"/>
<circle cx="592.14" cy="941.57" r="1.17" fill="#30b030" opacity="0.9" filter="url(#blur1)"/>
<circle cx="590.98" cy="908.69" r="0.75" fill="#228a22" opacity="0.9" filter="url(#blur1)"/>
<circle cx="564.12" cy="883.95" r="0.97" fill="#228a22" opacity="0.9" filter="url(#blur1)"/>
<circle cx="658.91" cy="853.09" r="1.05" fill="#2a9a2a" opacity="0.9" filter="url(#blur1)"/>
<circle cx="661.28" cy="927.18" r="0.97" fill="#228a22" opacity="0.9" filter="url(#blur1)"/>
<circle cx="578.43" cy="944.37" r="1.00" fill="#228a22" opacity="0.9" filter="url(#blur1)"/>
<circle cx="611.36" cy="851.00" r="0.80" fill="#30b030" opacity="0.9" filter="url(#blur1)"/>
<circle cx="619.47" cy="861.23" r="0.66" fill="#228a22" opacity="0.9" filter="url(#blur1)"/>
<ellipse cx="650.8" cy="851.0" rx="3.5" ry="2.1" fill="#24b024" filter="url(#blur1)" transform="rotate(22 650.8 851.0)"/>
<ellipse cx="620.8" cy="855.2" rx="3.1" ry="1.8" fill="#38dc38" filter="url(#blur1)" transform="rotate(41 620.8 855.2)"/>
<ellipse cx="639.7" cy="924.2" rx="3.2" ry="1.9" fill="#38dc38" filter="url(#blur1)" transform="rotate(-17 639.7 924.2)"/>
<ellipse cx="558.2" cy="875.0" rx="2.4" ry="1.4" fill="#24b024" filter="url(#blur1)" transform="rotate(-30 558.2 875.0)"/>
<ellipse cx="573.9" cy="862.5" rx="3.5" ry="2.1" fill="#38dc38" filter="url(#blur1)" transform="rotate(37 573.9 862.5)"/>
<ellipse cx="661.8" cy="943.9" rx="3.0" ry="1.8" fill="#24b024" filter="url(#blur1)" transform="rotate(40 661.8 943.9)"/>
<ellipse cx="659.7" cy="914.4" rx="2.7" ry="1.6" fill="#38dc38" filter="url(#blur1)" transform="rotate(-33 659.7 914.4)"/>
<ellipse cx="599.1" cy="906.6" rx="2.7" ry="1.6" fill="#24b024" filter="url(#blur1)" transform="rotate(-4 599.1 906.6)"/>
<ellipse cx="603.4" cy="884.3" rx="1.9" ry="1.1" fill="#2cc82c" filter="url(#blur1)" transform="rotate(-27 603.4 884.3)"/>
<ellipse cx="571.7" cy="863.0" rx="2.3" ry="1.3" fill="#38dc38" filter="url(#blur1)" transform="rotate(29 571.7 863.0)"/>
<ellipse cx="631.8" cy="881.7" rx="2.8" ry="1.6" fill="#2cc82c" filter="url(#blur1)" transform="rotate(-22 631.8 881.7)"/>
<ellipse cx="576.0" cy="877.7" rx="3.5" ry="2.1" fill="#38dc38" filter="url(#blur1)" transform="rotate(-48 576.0 877.7)"/>
<ellipse cx="557.3" cy="859.8" rx="3.3" ry="1.9" fill="#24b024" filter="url(#blur1)" transform="rotate(19 557.3 859.8)"/>
<ellipse cx="611.1" cy="842.7" rx="2.4" ry="1.4" fill="#1e9a1e" filter="url(#blur1)" transform="rotate(-30 611.1 842.7)"/>
<ellipse cx="570.2" cy="880.8" rx="2.7" ry="1.6" fill="#24b024" filter="url(#blur1)" transform="rotate(-50 570.2 880.8)"/>
<ellipse cx="605.3" cy="853.5" rx="1.9" ry="1.1" fill="#1e9a1e" filter="url(#blur1)" transform="rotate(-23 605.3 853.5)"/>
<ellipse cx="567.4" cy="871.7" rx="2.8" ry="1.7" fill="#2cc82c" filter="url(#blur1)" transform="rotate(11 567.4 871.7)"/>
<ellipse cx="572.7" cy="915.0" rx="2.0" ry="1.2" fill="#38dc38" filter="url(#blur1)" transform="rotate(26 572.7 915.0)"/>
<ellipse cx="592.3" cy="840.2" rx="3.0" ry="1.8" fill="#1e9a1e" filter="url(#blur1)" transform="rotate(5 592.3 840.2)"/>
<ellipse cx="580.7" cy="904.7" rx="2.9" ry="1.7" fill="#38dc38" filter="url(#blur1)" transform="rotate(-27 580.7 904.7)"/>
<ellipse cx="623.5" cy="864.6" rx="3.1" ry="1.8" fill="#24b024" filter="url(#blur1)" transform="rotate(-29 623.5 864.6)"/>
<ellipse cx="637.8" cy="943.8" rx="3.3" ry="1.9" fill="#24b024" filter="url(#blur1)" transform="rotate(-17 637.8 943.8)"/>
<ellipse cx="622.5" cy="948.0" rx="1.9" ry="1.1" fill="#38dc38" filter="url(#blur1)" transform="rotate(-4 622.5 948.0)"/>
<ellipse cx="619.5" cy="935.3" rx="2.7" ry="1.6" fill="#2cc82c" filter="url(#blur1)" transform="rotate(-41 619.5 935.3)"/>
<ellipse cx="655.3" cy="905.9" rx="3.5" ry="2.1" fill="#38dc38" filter="url(#blur1)" transform="rotate(20 655.3 905.9)"/>
<ellipse cx="635.6" cy="906.0" rx="2.0" ry="1.2" fill="#24b024" filter="url(#blur1)" transform="rotate(-40 635.6 906.0)"/>
<ellipse cx="635.4" cy="843.4" rx="3.3" ry="1.9" fill="#38dc38" filter="url(#blur1)" transform="rotate(19 635.4 843.4)"/>
<ellipse cx="574.4" cy="909.2" rx="2.4" ry="1.4" fill="#24b024" filter="url(#blur1)" transform="rotate(-24 574.4 909.2)"/>
<ellipse cx="627.8" cy="924.7" rx="2.8" ry="1.6" fill="#2cc82c" filter="url(#blur1)" transform="rotate(-33 627.8 924.7)"/>
<ellipse cx="587.2" cy="885.5" rx="1.9" ry="1.1" fill="#24b024" filter="url(#blur1)" transform="rotate(-41 587.2 885.5)"/>
<ellipse cx="577.1" cy="915.2" rx="3.2" ry="1.9" fill="#2cc82c" filter="url(#blur1)" transform="rotate(-14 577.1 915.2)"/>
<ellipse cx="577.0" cy="915.2" rx="2.2" ry="1.3" fill="#38dc38" filter="url(#blur1)" transform="rotate(-25 577.0 915.2)"/>
<ellipse cx="636.1" cy="923.1" rx="2.0" ry="1.2" fill="#2cc82c" filter="url(#blur1)" transform="rotate(-49 636.1 923.1)"/>
</g>
<rect x="643.20" y="940.50" width="18.50" height="3.00" fill="#fff"/>
<clipPath id="cf5"><rect x="672.10" y="838.00" width="114.60" height="114.00"/></clipPath>
<rect x="672.10" y="838.00" width="114.60" height="114.00" fill="#0d0101"/>
<g clip-path="url(#cf5)">
<circle cx="743.48" cy="922.56" r="2.75" fill="#5a1212" opacity="0.8" filter="url(#blur1)"/>
<circle cx="780.10" cy="922.35" r="2.91" fill="#5a1212" opacity="0.8" filter="url(#blur1)"/>
<circle cx="675.42" cy="891.08" r="2.93" fill="#5a1212" opacity="0.8" filter="url(#blur1)"/>
<circle cx="746.47" cy="940.70" r="1.94" fill="#5a1212" opacity="0.8" filter="url(#blur1)"/>
<circle cx="725.86" cy="866.11" r="2.45" fill="#5a1212" opacity="0.8" filter="url(#blur1)"/>
<circle cx="737.87" cy="839.50" r="2.06" fill="#5a1212" opacity="0.8" filter="url(#blur1)"/>
<circle cx="704.13" cy="942.46" r="2.72" fill="#5a1212" opacity="0.8" filter="url(#blur1)"/>
<circle cx="690.39" cy="928.87" r="1.97" fill="#5a1212" opacity="0.8" filter="url(#blur1)"/>
<circle cx="742.86" cy="852.44" r="1.80" fill="#5a1212" opacity="0.8" filter="url(#blur1)"/>
<circle cx="771.96" cy="861.88" r="2.06" fill="#5a1212" opacity="0.8" filter="url(#blur1)"/>
<circle cx="784.69" cy="937.45" r="2.15" fill="#5a1212" opacity="0.8" filter="url(#blur1)"/>
<circle cx="782.29" cy="899.47" r="2.61" fill="#5a1212" opacity="0.8" filter="url(#blur1)"/>
<circle cx="695.57" cy="945.27" r="2.63" fill="#5a1212" opacity="0.8" filter="url(#blur1)"/>
<circle cx="782.87" cy="939.89" r="2.16" fill="#5a1212" opacity="0.8" filter="url(#blur1)"/>
<circle cx="713.49" cy="856.92" r="1.97" fill="#5a1212" opacity="0.8" filter="url(#blur1)"/>
<circle cx="679.57" cy="872.35" r="2.52" fill="#5a1212" opacity="0.8" filter="url(#blur1)"/>
<circle cx="672.49" cy="915.28" r="2.21" fill="#5a1212" opacity="0.8" filter="url(#blur1)"/>
<circle cx="707.62" cy="931.31" r="2.38" fill="#5a1212" opacity="0.8" filter="url(#blur1)"/>
<circle cx="708.29" cy="892.86" r="2.65" fill="#5a1212" opacity="0.8" filter="url(#blur1)"/>
<circle cx="678.63" cy="949.16" r="1.83" fill="#5a1212" opacity="0.8" filter="url(#blur1)"/>
<circle cx="758.03" cy="934.32" r="1.82" fill="#5a1212" opacity="0.8" filter="url(#blur1)"/>
<circle cx="762.37" cy="879.75" r="2.49" fill="#5a1212" opacity="0.8" filter="url(#blur1)"/>
<circle cx="673.14" cy="843.33" r="1.98" fill="#d01c1c" filter="url(#blur1)"/>
<circle cx="685.74" cy="866.05" r="2.62" fill="#b81818" filter="url(#blur1)"/>
<circle cx="711.57" cy="878.45" r="2.32" fill="#b81818" filter="url(#blur1)"/>
<circle cx="684.48" cy="923.32" r="2.60" fill="#f03030" filter="url(#blur1)"/>
<circle cx="676.30" cy="945.82" r="1.89" fill="#f03030" filter="url(#blur1)"/>
<circle cx="730.88" cy="879.34" r="1.95" fill="#f03030" filter="url(#blur1)"/>
<circle cx="778.01" cy="900.15" r="2.11" fill="#f03030" filter="url(#blur1)"/>
<circle cx="707.19" cy="929.06" r="2.43" fill="#f03030" filter="url(#blur1)"/>
<circle cx="786.32" cy="856.41" r="1.85" fill="#b81818" filter="url(#blur1)"/>
<circle cx="675.75" cy="922.42" r="2.14" fill="#f03030" filter="url(#blur1)"/>
<circle cx="724.32" cy="886.08" r="1.86" fill="#e02222" filter="url(#blur1)"/>
<circle cx="763.97" cy="876.10" r="2.01" fill="#d01c1c" filter="url(#blur1)"/>
<circle cx="744.34" cy="927.83" r="1.91" fill="#b81818" filter="url(#blur1)"/>
</g>
<rect x="761.20" y="940.50" width="18.50" height="3.00" fill="#fff"/>
<clipPath id="cf6"><rect x="790.20" y="838.00" width="114.20" height="114.00"/></clipPath>
<rect x="790.20" y="838.00" width="114.20" height="114.00" fill="#0a1f08"/>
<g clip-path="url(#cf6)">
<ellipse cx="880.8" cy="931.7" rx="3.9" ry="3.0" fill="#1a5a1a" opacity="0.5" filter="url(#blur2)"/>
<ellipse cx="820.1" cy="838.1" rx="4.3" ry="3.3" fill="#1a5a1a" opacity="0.5" filter="url(#blur2)"/>
<ellipse cx="843.9" cy="924.6" rx="3.6" ry="2.7" fill="#1a5a1a" opacity="0.5" filter="url(#blur2)"/>
<ellipse cx="878.1" cy="869.1" rx="4.7" ry="3.6" fill="#1a5a1a" opacity="0.5" filter="url(#blur2)"/>
<ellipse cx="873.5" cy="885.2" rx="4.0" ry="3.1" fill="#1a5a1a" opacity="0.5" filter="url(#blur2)"/>
<ellipse cx="868.1" cy="860.0" rx="4.0" ry="3.1" fill="#1a5a1a" opacity="0.5" filter="url(#blur2)"/>
<ellipse cx="882.1" cy="868.3" rx="4.7" ry="3.6" fill="#1a5a1a" opacity="0.5" filter="url(#blur2)"/>
<ellipse cx="868.5" cy="934.2" rx="3.5" ry="2.7" fill="#1a5a1a" opacity="0.5" filter="url(#blur2)"/>
<ellipse cx="800.8" cy="929.2" rx="4.7" ry="3.6" fill="#1a5a1a" opacity="0.5" filter="url(#blur2)"/>
<ellipse cx="841.0" cy="848.7" rx="3.1" ry="2.4" fill="#1a5a1a" opacity="0.5" filter="url(#blur2)"/>
<ellipse cx="862.7" cy="871.2" rx="5.1" ry="3.9" fill="#1a5a1a" opacity="0.5" filter="url(#blur2)"/>
<ellipse cx="857.4" cy="860.9" rx="4.3" ry="3.3" fill="#1a5a1a" opacity="0.5" filter="url(#blur2)"/>
<ellipse cx="831.4" cy="944.3" rx="5.0" ry="3.8" fill="#1a5a1a" opacity="0.5" filter="url(#blur2)"/>
<ellipse cx="849.0" cy="911.5" rx="4.4" ry="3.4" fill="#1a5a1a" opacity="0.5" filter="url(#blur2)"/>
<ellipse cx="882.2" cy="949.3" rx="2.7" ry="2.1" fill="#1a5a1a" opacity="0.5" filter="url(#blur2)"/>
<ellipse cx="831.5" cy="906.6" rx="3.4" ry="2.6" fill="#1a5a1a" opacity="0.5" filter="url(#blur2)"/>
<ellipse cx="857.5" cy="848.2" rx="4.9" ry="3.8" fill="#1a5a1a" opacity="0.5" filter="url(#blur2)"/>
<ellipse cx="850.2" cy="851.3" rx="4.3" ry="3.3" fill="#1a5a1a" opacity="0.5" filter="url(#blur2)"/>
<ellipse cx="825.9" cy="860.4" rx="3.9" ry="3.0" fill="#1a5a1a" opacity="0.5" filter="url(#blur2)"/>
<ellipse cx="806.0" cy="861.9" rx="4.9" ry="3.7" fill="#1a5a1a" opacity="0.5" filter="url(#blur2)"/>
<ellipse cx="869.9" cy="839.4" rx="4.6" ry="3.6" fill="#1a5a1a" opacity="0.5" filter="url(#blur2)"/>
<ellipse cx="792.1" cy="876.0" rx="5.0" ry="3.8" fill="#1a5a1a" opacity="0.5" filter="url(#blur2)"/>
<ellipse cx="861.0" cy="872.9" rx="3.6" ry="2.8" fill="#1a5a1a" opacity="0.5" filter="url(#blur2)"/>
<ellipse cx="834.6" cy="852.5" rx="5.2" ry="4.0" fill="#1a5a1a" opacity="0.5" filter="url(#blur2)"/>
<ellipse cx="796.3" cy="886.2" rx="4.5" ry="3.5" fill="#1a5a1a" opacity="0.5" filter="url(#blur2)"/>
<ellipse cx="835.6" cy="949.8" rx="3.2" ry="2.5" fill="#1a5a1a" opacity="0.5" filter="url(#blur2)"/>
<ellipse cx="902.0" cy="939.7" rx="4.3" ry="3.3" fill="#1a5a1a" opacity="0.5" filter="url(#blur2)"/>
<ellipse cx="891.8" cy="889.0" rx="4.8" ry="3.7" fill="#1a5a1a" opacity="0.5" filter="url(#blur2)"/>
<ellipse cx="881.1" cy="896.9" rx="3.8" ry="2.9" fill="#1a5a1a" opacity="0.5" filter="url(#blur2)"/>
<ellipse cx="870.8" cy="884.6" rx="2.8" ry="2.2" fill="#1a5a1a" opacity="0.5" filter="url(#blur2)"/>
<ellipse cx="875.5" cy="868.3" rx="3.9" ry="3.0" fill="#1a5a1a" opacity="0.5" filter="url(#blur2)"/>
<ellipse cx="879.7" cy="857.6" rx="2.7" ry="2.0" fill="#1a5a1a" opacity="0.5" filter="url(#blur2)"/>
<ellipse cx="804.3" cy="905.2" rx="3.5" ry="2.7" fill="#1a5a1a" opacity="0.5" filter="url(#blur2)"/>
<ellipse cx="819.5" cy="889.5" rx="5.0" ry="3.9" fill="#1a5a1a" opacity="0.5" filter="url(#blur2)"/>
<ellipse cx="819.3" cy="884.8" rx="4.9" ry="3.8" fill="#1a5a1a" opacity="0.5" filter="url(#blur2)"/>
<ellipse cx="860.1" cy="868.5" rx="3.8" ry="2.9" fill="#1a5a1a" opacity="0.5" filter="url(#blur2)"/>
<ellipse cx="844.8" cy="854.2" rx="3.6" ry="2.8" fill="#1a5a1a" opacity="0.5" filter="url(#blur2)"/>
<ellipse cx="825.1" cy="929.7" rx="3.4" ry="2.6" fill="#1a5a1a" opacity="0.5" filter="url(#blur2)"/>
<ellipse cx="865.5" cy="948.7" rx="5.0" ry="3.8" fill="#1a5a1a" opacity="0.5" filter="url(#blur2)"/>
<ellipse cx="833.1" cy="906.7" rx="3.4" ry="2.6" fill="#1a5a1a" opacity="0.5" filter="url(#blur2)"/>
<ellipse cx="835.7" cy="893.6" rx="4.7" ry="3.6" fill="#1a5a1a" opacity="0.5" filter="url(#blur2)"/>
<ellipse cx="897.2" cy="871.2" rx="2.6" ry="2.0" fill="#1a5a1a" opacity="0.5" filter="url(#blur2)"/>
<ellipse cx="841.5" cy="844.5" rx="2.7" ry="2.1" fill="#1a5a1a" opacity="0.5" filter="url(#blur2)"/>
<ellipse cx="878.5" cy="850.8" rx="4.5" ry="3.4" fill="#1a5a1a" opacity="0.5" filter="url(#blur2)"/>
<ellipse cx="831.5" cy="945.0" rx="4.8" ry="3.7" fill="#1a5a1a" opacity="0.5" filter="url(#blur2)"/>
<ellipse cx="797.3" cy="860.0" rx="5.1" ry="3.9" fill="#1a5a1a" opacity="0.5" filter="url(#blur2)"/>
<ellipse cx="860.3" cy="886.1" rx="4.6" ry="3.6" fill="#1a5a1a" opacity="0.5" filter="url(#blur2)"/>
<ellipse cx="883.1" cy="894.1" rx="3.8" ry="2.9" fill="#1a5a1a" opacity="0.5" filter="url(#blur2)"/>
<ellipse cx="801.6" cy="879.3" rx="3.0" ry="2.3" fill="#1a5a1a" opacity="0.5" filter="url(#blur2)"/>
<ellipse cx="861.6" cy="907.2" rx="3.0" ry="2.3" fill="#1a5a1a" opacity="0.5" filter="url(#blur2)"/>
<ellipse cx="861.9" cy="849.1" rx="2.9" ry="2.2" fill="#1a5a1a" opacity="0.5" filter="url(#blur2)"/>
<ellipse cx="863.9" cy="890.7" rx="4.9" ry="3.8" fill="#1a5a1a" opacity="0.5" filter="url(#blur2)"/>
<ellipse cx="862.1" cy="918.0" rx="2.9" ry="2.3" fill="#1a5a1a" opacity="0.5" filter="url(#blur2)"/>
<ellipse cx="885.3" cy="847.5" rx="4.2" ry="3.2" fill="#1a5a1a" opacity="0.5" filter="url(#blur2)"/>
<ellipse cx="894.3" cy="941.5" rx="4.9" ry="3.8" fill="#1a5a1a" opacity="0.5" filter="url(#blur2)"/>
<ellipse cx="841.8" cy="917.1" rx="4.7" ry="3.6" fill="#1a5a1a" opacity="0.5" filter="url(#blur2)"/>
<ellipse cx="805.9" cy="945.5" rx="5.0" ry="3.8" fill="#1a5a1a" opacity="0.5" filter="url(#blur2)"/>
<ellipse cx="840.5" cy="926.7" rx="3.8" ry="2.9" fill="#1a5a1a" opacity="0.5" filter="url(#blur2)"/>
<ellipse cx="821.8" cy="919.2" rx="2.8" ry="2.1" fill="#1a5a1a" opacity="0.5" filter="url(#blur2)"/>
<ellipse cx="881.6" cy="949.5" rx="3.3" ry="2.6" fill="#1a5a1a" opacity="0.5" filter="url(#blur2)"/>
<circle cx="897.51" cy="847.54" r="1.11" fill="#30b030" opacity="0.9" filter="url(#blur1)"/>
<circle cx="821.50" cy="891.93" r="0.87" fill="#30b030" opacity="0.9" filter="url(#blur1)"/>
<circle cx="793.84" cy="847.76" r="1.09" fill="#228a22" opacity="0.9" filter="url(#blur1)"/>
<circle cx="817.43" cy="922.98" r="1.04" fill="#30b030" opacity="0.9" filter="url(#blur1)"/>
<circle cx="832.51" cy="843.94" r="1.20" fill="#2a9a2a" opacity="0.9" filter="url(#blur1)"/>
<circle cx="870.22" cy="877.16" r="0.65" fill="#228a22" opacity="0.9" filter="url(#blur1)"/>
<circle cx="867.38" cy="883.56" r="0.68" fill="#228a22" opacity="0.9" filter="url(#blur1)"/>
<circle cx="846.68" cy="846.57" r="0.64" fill="#228a22" opacity="0.9" filter="url(#blur1)"/>
<circle cx="901.94" cy="859.17" r="1.02" fill="#2a9a2a" opacity="0.9" filter="url(#blur1)"/>
<circle cx="822.37" cy="855.21" r="0.94" fill="#30b030" opacity="0.9" filter="url(#blur1)"/>
<circle cx="881.18" cy="945.74" r="1.02" fill="#228a22" opacity="0.9" filter="url(#blur1)"/>
<circle cx="894.19" cy="885.78" r="0.70" fill="#30b030" opacity="0.9" filter="url(#blur1)"/>
<circle cx="903.65" cy="901.96" r="0.60" fill="#228a22" opacity="0.9" filter="url(#blur1)"/>
<circle cx="834.36" cy="924.67" r="1.11" fill="#228a22" opacity="0.9" filter="url(#blur1)"/>
<circle cx="840.56" cy="883.32" r="1.20" fill="#228a22" opacity="0.9" filter="url(#blur1)"/>
<circle cx="887.27" cy="853.53" r="0.74" fill="#228a22" opacity="0.9" filter="url(#blur1)"/>
<circle cx="882.16" cy="880.43" r="1.00" fill="#2a9a2a" opacity="0.9" filter="url(#blur1)"/>
<circle cx="808.94" cy="909.30" r="0.83" fill="#2a9a2a" opacity="0.9" filter="url(#blur1)"/>
<circle cx="791.60" cy="891.83" r="0.64" fill="#228a22" opacity="0.9" filter="url(#blur1)"/>
<circle cx="871.40" cy="849.42" r="0.82" fill="#2a9a2a" opacity="0.9" filter="url(#blur1)"/>
<circle cx="797.04" cy="863.63" r="0.84" fill="#228a22" opacity="0.9" filter="url(#blur1)"/>
<circle cx="868.73" cy="946.42" r="0.66" fill="#2a9a2a" opacity="0.9" filter="url(#blur1)"/>
<circle cx="872.90" cy="936.52" r="0.70" fill="#228a22" opacity="0.9" filter="url(#blur1)"/>
<circle cx="840.21" cy="947.22" r="1.02" fill="#2a9a2a" opacity="0.9" filter="url(#blur1)"/>
<circle cx="795.91" cy="942.86" r="1.05" fill="#228a22" opacity="0.9" filter="url(#blur1)"/>
<circle cx="903.62" cy="886.49" r="1.02" fill="#30b030" opacity="0.9" filter="url(#blur1)"/>
<circle cx="840.83" cy="861.04" r="1.12" fill="#228a22" opacity="0.9" filter="url(#blur1)"/>
<circle cx="880.14" cy="862.39" r="0.96" fill="#30b030" opacity="0.9" filter="url(#blur1)"/>
<circle cx="850.39" cy="921.43" r="1.18" fill="#228a22" opacity="0.9" filter="url(#blur1)"/>
<circle cx="889.71" cy="875.73" r="0.91" fill="#228a22" opacity="0.9" filter="url(#blur1)"/>
<circle cx="858.19" cy="841.73" r="0.82" fill="#2a9a2a" opacity="0.9" filter="url(#blur1)"/>
<circle cx="816.04" cy="924.96" r="0.82" fill="#228a22" opacity="0.9" filter="url(#blur1)"/>
<circle cx="898.45" cy="887.66" r="1.10" fill="#2a9a2a" opacity="0.9" filter="url(#blur1)"/>
<circle cx="829.49" cy="841.47" r="0.80" fill="#30b030" opacity="0.9" filter="url(#blur1)"/>
<circle cx="790.49" cy="932.43" r="0.65" fill="#228a22" opacity="0.9" filter="url(#blur1)"/>
<circle cx="860.57" cy="864.25" r="0.68" fill="#228a22" opacity="0.9" filter="url(#blur1)"/>
<circle cx="810.97" cy="949.40" r="0.83" fill="#228a22" opacity="0.9" filter="url(#blur1)"/>
<circle cx="839.20" cy="897.00" r="1.10" fill="#30b030" opacity="0.9" filter="url(#blur1)"/>
<circle cx="819.11" cy="872.09" r="0.62" fill="#30b030" opacity="0.9" filter="url(#blur1)"/>
<circle cx="802.16" cy="858.07" r="0.67" fill="#2a9a2a" opacity="0.9" filter="url(#blur1)"/>
<circle cx="848.85" cy="851.67" r="0.96" fill="#30b030" opacity="0.9" filter="url(#blur1)"/>
<circle cx="845.72" cy="937.13" r="1.06" fill="#228a22" opacity="0.9" filter="url(#blur1)"/>
<circle cx="882.89" cy="891.63" r="1.11" fill="#30b030" opacity="0.9" filter="url(#blur1)"/>
<circle cx="807.83" cy="942.78" r="1.12" fill="#2a9a2a" opacity="0.9" filter="url(#blur1)"/>
<circle cx="828.77" cy="866.71" r="0.68" fill="#30b030" opacity="0.9" filter="url(#blur1)"/>
<circle cx="857.39" cy="915.36" r="0.73" fill="#30b030" opacity="0.9" filter="url(#blur1)"/>
<circle cx="810.37" cy="884.47" r="0.97" fill="#2a9a2a" opacity="0.9" filter="url(#blur1)"/>
<circle cx="896.02" cy="848.17" r="0.83" fill="#2a9a2a" opacity="0.9" filter="url(#blur1)"/>
<circle cx="876.20" cy="942.09" r="0.69" fill="#2a9a2a" opacity="0.9" filter="url(#blur1)"/>
<circle cx="849.62" cy="926.51" r="0.89" fill="#30b030" opacity="0.9" filter="url(#blur1)"/>
<circle cx="891.04" cy="875.47" r="1.03" fill="#30b030" opacity="0.9" filter="url(#blur1)"/>
<circle cx="889.24" cy="912.04" r="1.08" fill="#2a9a2a" opacity="0.9" filter="url(#blur1)"/>
<circle cx="820.07" cy="842.70" r="0.95" fill="#228a22" opacity="0.9" filter="url(#blur1)"/>
<circle cx="872.38" cy="855.68" r="0.90" fill="#2a9a2a" opacity="0.9" filter="url(#blur1)"/>
<circle cx="879.53" cy="925.26" r="1.18" fill="#2a9a2a" opacity="0.9" filter="url(#blur1)"/>
<circle cx="902.12" cy="913.80" r="0.67" fill="#30b030" opacity="0.9" filter="url(#blur1)"/>
<circle cx="828.84" cy="948.99" r="1.09" fill="#2a9a2a" opacity="0.9" filter="url(#blur1)"/>
<circle cx="810.20" cy="858.98" r="0.98" fill="#30b030" opacity="0.9" filter="url(#blur1)"/>
<circle cx="874.59" cy="890.19" r="0.67" fill="#228a22" opacity="0.9" filter="url(#blur1)"/>
<circle cx="805.81" cy="948.71" r="0.72" fill="#30b030" opacity="0.9" filter="url(#blur1)"/>
<circle cx="874.02" cy="948.71" r="0.98" fill="#2a9a2a" opacity="0.9" filter="url(#blur1)"/>
<circle cx="821.49" cy="838.17" r="1.13" fill="#2a9a2a" opacity="0.9" filter="url(#blur1)"/>
<circle cx="844.98" cy="909.92" r="0.79" fill="#2a9a2a" opacity="0.9" filter="url(#blur1)"/>
<circle cx="821.57" cy="920.23" r="0.83" fill="#228a22" opacity="0.9" filter="url(#blur1)"/>
<circle cx="828.57" cy="922.08" r="1.12" fill="#2a9a2a" opacity="0.9" filter="url(#blur1)"/>
<circle cx="885.30" cy="854.79" r="1.00" fill="#30b030" opacity="0.9" filter="url(#blur1)"/>
<circle cx="875.15" cy="927.78" r="1.17" fill="#2a9a2a" opacity="0.9" filter="url(#blur1)"/>
<circle cx="802.06" cy="888.82" r="0.61" fill="#2a9a2a" opacity="0.9" filter="url(#blur1)"/>
<circle cx="867.67" cy="892.73" r="0.64" fill="#2a9a2a" opacity="0.9" filter="url(#blur1)"/>
<circle cx="835.79" cy="860.64" r="0.93" fill="#2a9a2a" opacity="0.9" filter="url(#blur1)"/>
<circle cx="840.21" cy="867.10" r="0.93" fill="#30b030" opacity="0.9" filter="url(#blur1)"/>
<circle cx="823.81" cy="916.52" r="0.76" fill="#228a22" opacity="0.9" filter="url(#blur1)"/>
<circle cx="902.25" cy="919.89" r="0.63" fill="#228a22" opacity="0.9" filter="url(#blur1)"/>
<circle cx="818.71" cy="950.32" r="1.18" fill="#228a22" opacity="0.9" filter="url(#blur1)"/>
<circle cx="890.57" cy="894.46" r="0.92" fill="#2a9a2a" opacity="0.9" filter="url(#blur1)"/>
<circle cx="886.61" cy="874.57" r="1.12" fill="#228a22" opacity="0.9" filter="url(#blur1)"/>
<circle cx="824.93" cy="855.56" r="0.63" fill="#228a22" opacity="0.9" filter="url(#blur1)"/>
<circle cx="824.75" cy="950.00" r="0.82" fill="#228a22" opacity="0.9" filter="url(#blur1)"/>
<circle cx="873.38" cy="905.77" r="0.65" fill="#30b030" opacity="0.9" filter="url(#blur1)"/>
<circle cx="856.10" cy="877.88" r="0.89" fill="#228a22" opacity="0.9" filter="url(#blur1)"/>
<circle cx="815.41" cy="881.81" r="0.93" fill="#30b030" opacity="0.9" filter="url(#blur1)"/>
<circle cx="804.23" cy="921.61" r="1.18" fill="#2a9a2a" opacity="0.9" filter="url(#blur1)"/>
<circle cx="856.96" cy="908.56" r="0.97" fill="#30b030" opacity="0.9" filter="url(#blur1)"/>
<circle cx="815.20" cy="950.17" r="0.63" fill="#228a22" opacity="0.9" filter="url(#blur1)"/>
<circle cx="863.74" cy="933.41" r="0.75" fill="#30b030" opacity="0.9" filter="url(#blur1)"/>
<circle cx="863.34" cy="879.17" r="1.07" fill="#228a22" opacity="0.9" filter="url(#blur1)"/>
<circle cx="832.56" cy="951.22" r="0.93" fill="#228a22" opacity="0.9" filter="url(#blur1)"/>
<circle cx="808.75" cy="869.65" r="0.99" fill="#30b030" opacity="0.9" filter="url(#blur1)"/>
<circle cx="883.55" cy="949.91" r="0.63" fill="#228a22" opacity="0.9" filter="url(#blur1)"/>
<circle cx="802.97" cy="888.00" r="0.92" fill="#2a9a2a" opacity="0.9" filter="url(#blur1)"/>
<ellipse cx="868.6" cy="878.1" rx="2.0" ry="1.2" fill="#24b024" filter="url(#blur1)" transform="rotate(-6 868.6 878.1)"/>
<ellipse cx="834.5" cy="905.6" rx="3.3" ry="2.0" fill="#2cc82c" filter="url(#blur1)" transform="rotate(44 834.5 905.6)"/>
<ellipse cx="803.3" cy="929.4" rx="2.6" ry="1.5" fill="#24b024" filter="url(#blur1)" transform="rotate(-11 803.3 929.4)"/>
<ellipse cx="817.7" cy="839.7" rx="2.0" ry="1.2" fill="#1e9a1e" filter="url(#blur1)" transform="rotate(-31 817.7 839.7)"/>
<ellipse cx="815.3" cy="871.6" rx="3.0" ry="1.8" fill="#2cc82c" filter="url(#blur1)" transform="rotate(-37 815.3 871.6)"/>
<ellipse cx="820.3" cy="947.5" rx="2.8" ry="1.7" fill="#2cc82c" filter="url(#blur1)" transform="rotate(1 820.3 947.5)"/>
<ellipse cx="819.6" cy="862.2" rx="3.1" ry="1.8" fill="#38dc38" filter="url(#blur1)" transform="rotate(-33 819.6 862.2)"/>
<ellipse cx="807.8" cy="935.4" rx="3.2" ry="1.9" fill="#24b024" filter="url(#blur1)" transform="rotate(3 807.8 935.4)"/>
<ellipse cx="892.8" cy="892.2" rx="2.8" ry="1.7" fill="#1e9a1e" filter="url(#blur1)" transform="rotate(-9 892.8 892.2)"/>
<ellipse cx="900.3" cy="889.8" rx="3.2" ry="1.9" fill="#2cc82c" filter="url(#blur1)" transform="rotate(-22 900.3 889.8)"/>
<ellipse cx="866.6" cy="853.9" rx="2.2" ry="1.3" fill="#24b024" filter="url(#blur1)" transform="rotate(9 866.6 853.9)"/>
<ellipse cx="854.6" cy="911.8" rx="2.9" ry="1.7" fill="#38dc38" filter="url(#blur1)" transform="rotate(22 854.6 911.8)"/>
<ellipse cx="894.4" cy="922.0" rx="2.6" ry="1.5" fill="#1e9a1e" filter="url(#blur1)" transform="rotate(23 894.4 922.0)"/>
<ellipse cx="875.7" cy="942.7" rx="1.9" ry="1.1" fill="#24b024" filter="url(#blur1)" transform="rotate(-4 875.7 942.7)"/>
<ellipse cx="882.0" cy="911.5" rx="3.6" ry="2.1" fill="#1e9a1e" filter="url(#blur1)" transform="rotate(-2 882.0 911.5)"/>
<ellipse cx="824.8" cy="897.8" rx="2.9" ry="1.7" fill="#2cc82c" filter="url(#blur1)" transform="rotate(2 824.8 897.8)"/>
<ellipse cx="863.2" cy="858.5" rx="2.4" ry="1.4" fill="#1e9a1e" filter="url(#blur1)" transform="rotate(-20 863.2 858.5)"/>
<ellipse cx="802.1" cy="939.3" rx="2.1" ry="1.3" fill="#1e9a1e" filter="url(#blur1)" transform="rotate(36 802.1 939.3)"/>
<ellipse cx="900.1" cy="929.3" rx="2.0" ry="1.2" fill="#1e9a1e" filter="url(#blur1)" transform="rotate(12 900.1 929.3)"/>
<ellipse cx="791.6" cy="938.9" rx="2.9" ry="1.7" fill="#1e9a1e" filter="url(#blur1)" transform="rotate(5 791.6 938.9)"/>
<ellipse cx="863.0" cy="910.9" rx="3.3" ry="1.9" fill="#24b024" filter="url(#blur1)" transform="rotate(-4 863.0 910.9)"/>
<ellipse cx="808.5" cy="858.5" rx="2.8" ry="1.6" fill="#1e9a1e" filter="url(#blur1)" transform="rotate(25 808.5 858.5)"/>
<ellipse cx="858.7" cy="841.4" rx="3.3" ry="1.9" fill="#38dc38" filter="url(#blur1)" transform="rotate(28 858.7 841.4)"/>
<ellipse cx="874.2" cy="866.7" rx="3.4" ry="2.0" fill="#24b024" filter="url(#blur1)" transform="rotate(50 874.2 866.7)"/>
<ellipse cx="834.3" cy="919.0" rx="1.9" ry="1.1" fill="#24b024" filter="url(#blur1)" transform="rotate(3 834.3 919.0)"/>
<ellipse cx="824.4" cy="894.3" rx="3.2" ry="1.9" fill="#2cc82c" filter="url(#blur1)" transform="rotate(-48 824.4 894.3)"/>
<ellipse cx="852.1" cy="861.3" rx="3.2" ry="1.9" fill="#2cc82c" filter="url(#blur1)" transform="rotate(10 852.1 861.3)"/>
<ellipse cx="863.8" cy="902.1" rx="2.7" ry="1.6" fill="#1e9a1e" filter="url(#blur1)" transform="rotate(-25 863.8 902.1)"/>
<ellipse cx="813.7" cy="951.6" rx="2.1" ry="1.2" fill="#2cc82c" filter="url(#blur1)" transform="rotate(-22 813.7 951.6)"/>
<ellipse cx="889.3" cy="868.7" rx="2.2" ry="1.3" fill="#1e9a1e" filter="url(#blur1)" transform="rotate(-3 889.3 868.7)"/>
<ellipse cx="807.3" cy="917.1" rx="3.4" ry="2.0" fill="#24b024" filter="url(#blur1)" transform="rotate(-26 807.3 917.1)"/>
<ellipse cx="875.0" cy="940.9" rx="2.0" ry="1.2" fill="#38dc38" filter="url(#blur1)" transform="rotate(-25 875.0 940.9)"/>
<ellipse cx="836.0" cy="942.3" rx="3.5" ry="2.0" fill="#2cc82c" filter="url(#blur1)" transform="rotate(36 836.0 942.3)"/>
<circle cx="838.72" cy="947.27" r="2.91" fill="#5a1212" opacity="0.8" filter="url(#blur1)"/>
<circle cx="897.94" cy="910.87" r="2.68" fill="#5a1212" opacity="0.8" filter="url(#blur1)"/>
<circle cx="803.77" cy="907.18" r="2.75" fill="#5a1212" opacity="0.8" filter="url(#blur1)"/>
<circle cx="847.94" cy="924.31" r="2.42" fill="#5a1212" opacity="0.8" filter="url(#blur1)"/>
<circle cx="855.20" cy="948.98" r="2.86" fill="#5a1212" opacity="0.8" filter="url(#blur1)"/>
<circle cx="811.45" cy="862.00" r="2.83" fill="#5a1212" opacity="0.8" filter="url(#blur1)"/>
<circle cx="900.76" cy="863.12" r="2.06" fill="#5a1212" opacity="0.8" filter="url(#blur1)"/>
<circle cx="854.99" cy="855.12" r="1.81" fill="#5a1212" opacity="0.8" filter="url(#blur1)"/>
<circle cx="823.58" cy="884.17" r="2.68" fill="#d01c1c" filter="url(#blur1)"/>
<circle cx="873.47" cy="901.50" r="2.34" fill="#b81818" filter="url(#blur1)"/>
<circle cx="800.36" cy="936.85" r="2.39" fill="#d01c1c" filter="url(#blur1)"/>
<circle cx="897.90" cy="914.58" r="2.00" fill="#f03030" filter="url(#blur1)"/>
<circle cx="838.31" cy="917.48" r="2.46" fill="#b81818" filter="url(#blur1)"/>
<circle cx="814.75" cy="871.93" r="2.54" fill="#f03030" filter="url(#blur1)"/>
<circle cx="876.49" cy="912.35" r="2.11" fill="#f03030" filter="url(#blur1)"/>
<circle cx="836.58" cy="878.83" r="2.21" fill="#f03030" filter="url(#blur1)"/>
<circle cx="879.58" cy="906.97" r="2.45" fill="#f03030" filter="url(#blur1)"/>
<circle cx="865.11" cy="907.52" r="2.30" fill="#e02222" filter="url(#blur1)"/>
<circle cx="807.30" cy="863.50" r="2.06" fill="#e02222" filter="url(#blur1)"/>
<circle cx="900.78" cy="900.16" r="1.86" fill="#e02222" filter="url(#blur1)"/>
<circle cx="846.14" cy="852.18" r="2.12" fill="#f03030" filter="url(#blur1)"/>
<circle cx="851.81" cy="838.40" r="2.38" fill="#d01c1c" filter="url(#blur1)"/>
<circle cx="820.93" cy="874.59" r="2.54" fill="#f03030" filter="url(#blur1)"/>
<circle cx="903.70" cy="903.94" r="2.71" fill="#d01c1c" filter="url(#blur1)"/>
<circle cx="825.22" cy="950.42" r="2.01" fill="#b81818" filter="url(#blur1)"/>
</g>
<rect x="878.90" y="940.50" width="18.50" height="3.00" fill="#fff"/>
<clipPath id="cf7"><rect x="554.20" y="961.30" width="114.50" height="114.20"/></clipPath>
<rect x="554.20" y="961.30" width="114.50" height="114.20" fill="#081d08"/>
<g clip-path="url(#cf7)">
<ellipse cx="591.3" cy="978.5" rx="4.3" ry="3.3" fill="#1a5a1a" opacity="0.5" filter="url(#blur2)"/>
<ellipse cx="562.5" cy="1022.5" rx="3.6" ry="2.7" fill="#1a5a1a" opacity="0.5" filter="url(#blur2)"/>
<ellipse cx="560.8" cy="1019.2" rx="2.7" ry="2.1" fill="#1a5a1a" opacity="0.5" filter="url(#blur2)"/>
<ellipse cx="603.9" cy="969.3" rx="2.8" ry="2.2" fill="#1a5a1a" opacity="0.5" filter="url(#blur2)"/>
<ellipse cx="602.8" cy="1055.7" rx="2.9" ry="2.2" fill="#1a5a1a" opacity="0.5" filter="url(#blur2)"/>
<ellipse cx="579.8" cy="1033.0" rx="5.1" ry="3.9" fill="#1a5a1a" opacity="0.5" filter="url(#blur2)"/>
<ellipse cx="620.3" cy="1006.6" rx="5.1" ry="4.0" fill="#1a5a1a" opacity="0.5" filter="url(#blur2)"/>
<ellipse cx="559.5" cy="1059.3" rx="3.4" ry="2.6" fill="#1a5a1a" opacity="0.5" filter="url(#blur2)"/>
<ellipse cx="570.7" cy="974.8" rx="3.4" ry="2.6" fill="#1a5a1a" opacity="0.5" filter="url(#blur2)"/>
<ellipse cx="647.6" cy="981.9" rx="4.1" ry="3.2" fill="#1a5a1a" opacity="0.5" filter="url(#blur2)"/>
<ellipse cx="627.4" cy="1003.8" rx="4.0" ry="3.1" fill="#1a5a1a" opacity="0.5" filter="url(#blur2)"/>
<ellipse cx="561.4" cy="968.1" rx="3.1" ry="2.4" fill="#1a5a1a" opacity="0.5" filter="url(#blur2)"/>
<ellipse cx="632.1" cy="1010.1" rx="3.4" ry="2.6" fill="#1a5a1a" opacity="0.5" filter="url(#blur2)"/>
<ellipse cx="621.2" cy="1013.1" rx="3.4" ry="2.6" fill="#1a5a1a" opacity="0.5" filter="url(#blur2)"/>
<ellipse cx="645.2" cy="1041.1" rx="3.2" ry="2.5" fill="#1a5a1a" opacity="0.5" filter="url(#blur2)"/>
<ellipse cx="620.0" cy="1021.3" rx="4.9" ry="3.8" fill="#1a5a1a" opacity="0.5" filter="url(#blur2)"/>
<ellipse cx="637.7" cy="994.2" rx="5.1" ry="4.0" fill="#1a5a1a" opacity="0.5" filter="url(#blur2)"/>
<ellipse cx="567.7" cy="1009.0" rx="4.6" ry="3.5" fill="#1a5a1a" opacity="0.5" filter="url(#blur2)"/>
<ellipse cx="571.6" cy="1017.1" rx="2.7" ry="2.1" fill="#1a5a1a" opacity="0.5" filter="url(#blur2)"/>
<ellipse cx="630.7" cy="1048.6" rx="4.1" ry="3.1" fill="#1a5a1a" opacity="0.5" filter="url(#blur2)"/>
<ellipse cx="654.4" cy="997.1" rx="4.4" ry="3.4" fill="#1a5a1a" opacity="0.5" filter="url(#blur2)"/>
<ellipse cx="622.3" cy="1027.5" rx="3.8" ry="2.9" fill="#1a5a1a" opacity="0.5" filter="url(#blur2)"/>
<ellipse cx="650.4" cy="1069.2" rx="3.8" ry="2.9" fill="#1a5a1a" opacity="0.5" filter="url(#blur2)"/>
<ellipse cx="630.2" cy="968.2" rx="4.4" ry="3.4" fill="#1a5a1a" opacity="0.5" filter="url(#blur2)"/>
<ellipse cx="628.3" cy="1074.7" rx="4.7" ry="3.6" fill="#1a5a1a" opacity="0.5" filter="url(#blur2)"/>
<ellipse cx="586.8" cy="1005.4" rx="4.3" ry="3.3" fill="#1a5a1a" opacity="0.5" filter="url(#blur2)"/>
<ellipse cx="556.8" cy="1014.0" rx="3.0" ry="2.3" fill="#1a5a1a" opacity="0.5" filter="url(#blur2)"/>
<ellipse cx="567.6" cy="968.0" rx="4.6" ry="3.5" fill="#1a5a1a" opacity="0.5" filter="url(#blur2)"/>
<ellipse cx="569.0" cy="989.6" rx="3.6" ry="2.8" fill="#1a5a1a" opacity="0.5" filter="url(#blur2)"/>
<ellipse cx="654.0" cy="970.5" rx="3.8" ry="2.9" fill="#1a5a1a" opacity="0.5" filter="url(#blur2)"/>
<ellipse cx="617.1" cy="1062.2" rx="4.7" ry="3.6" fill="#1a5a1a" opacity="0.5" filter="url(#blur2)"/>
<ellipse cx="653.1" cy="993.1" rx="3.7" ry="2.8" fill="#1a5a1a" opacity="0.5" filter="url(#blur2)"/>
<ellipse cx="595.3" cy="1062.3" rx="5.1" ry="3.9" fill="#1a5a1a" opacity="0.5" filter="url(#blur2)"/>
<ellipse cx="571.5" cy="981.4" rx="3.2" ry="2.5" fill="#1a5a1a" opacity="0.5" filter="url(#blur2)"/>
<ellipse cx="580.9" cy="1016.7" rx="4.1" ry="3.2" fill="#1a5a1a" opacity="0.5" filter="url(#blur2)"/>
<ellipse cx="584.3" cy="961.8" rx="3.7" ry="2.8" fill="#1a5a1a" opacity="0.5" filter="url(#blur2)"/>
<ellipse cx="596.5" cy="1026.0" rx="5.1" ry="3.9" fill="#1a5a1a" opacity="0.5" filter="url(#blur2)"/>
<ellipse cx="633.3" cy="1020.2" rx="4.2" ry="3.2" fill="#1a5a1a" opacity="0.5" filter="url(#blur2)"/>
<ellipse cx="631.6" cy="967.5" rx="4.9" ry="3.8" fill="#1a5a1a" opacity="0.5" filter="url(#blur2)"/>
<ellipse cx="643.5" cy="1061.2" rx="4.7" ry="3.6" fill="#1a5a1a" opacity="0.5" filter="url(#blur2)"/>
<ellipse cx="599.1" cy="1006.9" rx="2.9" ry="2.2" fill="#1a5a1a" opacity="0.5" filter="url(#blur2)"/>
<ellipse cx="626.8" cy="968.4" rx="2.8" ry="2.1" fill="#1a5a1a" opacity="0.5" filter="url(#blur2)"/>
<ellipse cx="578.1" cy="979.8" rx="3.5" ry="2.7" fill="#1a5a1a" opacity="0.5" filter="url(#blur2)"/>
<ellipse cx="560.2" cy="961.3" rx="3.0" ry="2.3" fill="#1a5a1a" opacity="0.5" filter="url(#blur2)"/>
<ellipse cx="565.8" cy="1002.8" rx="2.7" ry="2.1" fill="#1a5a1a" opacity="0.5" filter="url(#blur2)"/>
<ellipse cx="654.3" cy="1031.4" rx="3.0" ry="2.3" fill="#1a5a1a" opacity="0.5" filter="url(#blur2)"/>
<circle cx="583.08" cy="1000.97" r="0.82" fill="#2a9a2a" opacity="0.9" filter="url(#blur1)"/>
<circle cx="567.41" cy="1017.04" r="1.19" fill="#30b030" opacity="0.9" filter="url(#blur1)"/>
<circle cx="609.60" cy="971.11" r="0.66" fill="#30b030" opacity="0.9" filter="url(#blur1)"/>
<circle cx="638.97" cy="1015.96" r="1.02" fill="#228a22" opacity="0.9" filter="url(#blur1)"/>
<circle cx="556.84" cy="1069.90" r="0.92" fill="#2a9a2a" opacity="0.9" filter="url(#blur1)"/>
<circle cx="633.21" cy="1065.70" r="1.05" fill="#30b030" opacity="0.9" filter="url(#blur1)"/>
<circle cx="666.24" cy="1059.89" r="1.02" fill="#30b030" opacity="0.9" filter="url(#blur1)"/>
<circle cx="613.56" cy="1065.02" r="0.81" fill="#2a9a2a" opacity="0.9" filter="url(#blur1)"/>
<circle cx="615.18" cy="1050.27" r="0.80" fill="#2a9a2a" opacity="0.9" filter="url(#blur1)"/>
<circle cx="624.41" cy="1051.34" r="1.05" fill="#2a9a2a" opacity="0.9" filter="url(#blur1)"/>
<circle cx="646.50" cy="1054.75" r="1.04" fill="#2a9a2a" opacity="0.9" filter="url(#blur1)"/>
<circle cx="577.09" cy="1017.58" r="1.04" fill="#2a9a2a" opacity="0.9" filter="url(#blur1)"/>
<circle cx="644.67" cy="1015.23" r="0.72" fill="#228a22" opacity="0.9" filter="url(#blur1)"/>
<circle cx="663.72" cy="1012.37" r="1.16" fill="#30b030" opacity="0.9" filter="url(#blur1)"/>
<circle cx="663.55" cy="1002.94" r="0.73" fill="#2a9a2a" opacity="0.9" filter="url(#blur1)"/>
<circle cx="608.02" cy="999.87" r="0.89" fill="#228a22" opacity="0.9" filter="url(#blur1)"/>
<circle cx="650.43" cy="1016.06" r="0.99" fill="#228a22" opacity="0.9" filter="url(#blur1)"/>
<circle cx="563.91" cy="1036.74" r="1.15" fill="#228a22" opacity="0.9" filter="url(#blur1)"/>
<circle cx="640.09" cy="1015.89" r="0.71" fill="#228a22" opacity="0.9" filter="url(#blur1)"/>
<circle cx="592.27" cy="1052.75" r="1.18" fill="#30b030" opacity="0.9" filter="url(#blur1)"/>
<circle cx="607.23" cy="1046.19" r="0.65" fill="#2a9a2a" opacity="0.9" filter="url(#blur1)"/>
<circle cx="573.67" cy="975.81" r="0.69" fill="#30b030" opacity="0.9" filter="url(#blur1)"/>
<circle cx="646.54" cy="977.99" r="1.10" fill="#30b030" opacity="0.9" filter="url(#blur1)"/>
<circle cx="629.46" cy="1001.32" r="0.93" fill="#2a9a2a" opacity="0.9" filter="url(#blur1)"/>
<circle cx="556.65" cy="1052.59" r="1.04" fill="#2a9a2a" opacity="0.9" filter="url(#blur1)"/>
<circle cx="614.49" cy="1067.92" r="0.86" fill="#2a9a2a" opacity="0.9" filter="url(#blur1)"/>
<circle cx="648.79" cy="985.40" r="0.75" fill="#30b030" opacity="0.9" filter="url(#blur1)"/>
<circle cx="611.58" cy="1048.51" r="0.80" fill="#228a22" opacity="0.9" filter="url(#blur1)"/>
<circle cx="602.18" cy="976.27" r="1.15" fill="#30b030" opacity="0.9" filter="url(#blur1)"/>
<circle cx="656.99" cy="1036.95" r="1.09" fill="#228a22" opacity="0.9" filter="url(#blur1)"/>
<circle cx="602.36" cy="1066.10" r="0.90" fill="#228a22" opacity="0.9" filter="url(#blur1)"/>
<circle cx="571.59" cy="1019.60" r="1.12" fill="#2a9a2a" opacity="0.9" filter="url(#blur1)"/>
<circle cx="623.88" cy="1049.92" r="0.69" fill="#2a9a2a" opacity="0.9" filter="url(#blur1)"/>
<circle cx="608.41" cy="1044.12" r="0.93" fill="#30b030" opacity="0.9" filter="url(#blur1)"/>
<circle cx="632.33" cy="1021.91" r="0.89" fill="#2a9a2a" opacity="0.9" filter="url(#blur1)"/>
<circle cx="655.33" cy="967.79" r="0.71" fill="#2a9a2a" opacity="0.9" filter="url(#blur1)"/>
<circle cx="642.62" cy="1019.28" r="0.94" fill="#2a9a2a" opacity="0.9" filter="url(#blur1)"/>
<circle cx="604.95" cy="1031.25" r="0.90" fill="#228a22" opacity="0.9" filter="url(#blur1)"/>
<circle cx="577.03" cy="992.95" r="0.90" fill="#30b030" opacity="0.9" filter="url(#blur1)"/>
<circle cx="612.34" cy="989.58" r="0.91" fill="#30b030" opacity="0.9" filter="url(#blur1)"/>
<circle cx="659.86" cy="1063.25" r="0.72" fill="#30b030" opacity="0.9" filter="url(#blur1)"/>
<circle cx="569.90" cy="975.19" r="0.87" fill="#2a9a2a" opacity="0.9" filter="url(#blur1)"/>
<circle cx="631.05" cy="1010.22" r="0.73" fill="#30b030" opacity="0.9" filter="url(#blur1)"/>
<circle cx="643.96" cy="1063.74" r="0.69" fill="#228a22" opacity="0.9" filter="url(#blur1)"/>
<circle cx="627.88" cy="1003.12" r="0.75" fill="#2a9a2a" opacity="0.9" filter="url(#blur1)"/>
<circle cx="664.98" cy="986.38" r="1.17" fill="#30b030" opacity="0.9" filter="url(#blur1)"/>
<circle cx="655.52" cy="979.89" r="1.00" fill="#2a9a2a" opacity="0.9" filter="url(#blur1)"/>
<circle cx="572.69" cy="1010.58" r="0.91" fill="#30b030" opacity="0.9" filter="url(#blur1)"/>
<circle cx="602.44" cy="1002.03" r="0.66" fill="#30b030" opacity="0.9" filter="url(#blur1)"/>
<circle cx="556.43" cy="1024.57" r="0.86" fill="#2a9a2a" opacity="0.9" filter="url(#blur1)"/>
<circle cx="598.21" cy="1020.39" r="0.78" fill="#2a9a2a" opacity="0.9" filter="url(#blur1)"/>
<circle cx="567.12" cy="1066.20" r="0.74" fill="#2a9a2a" opacity="0.9" filter="url(#blur1)"/>
<circle cx="563.83" cy="992.35" r="1.14" fill="#2a9a2a" opacity="0.9" filter="url(#blur1)"/>
<circle cx="585.17" cy="976.10" r="0.85" fill="#228a22" opacity="0.9" filter="url(#blur1)"/>
<circle cx="647.97" cy="990.83" r="0.69" fill="#228a22" opacity="0.9" filter="url(#blur1)"/>
<circle cx="619.53" cy="1041.29" r="0.65" fill="#2a9a2a" opacity="0.9" filter="url(#blur1)"/>
<circle cx="645.75" cy="982.24" r="1.14" fill="#30b030" opacity="0.9" filter="url(#blur1)"/>
<circle cx="661.64" cy="1033.75" r="1.08" fill="#2a9a2a" opacity="0.9" filter="url(#blur1)"/>
<circle cx="623.84" cy="986.70" r="0.76" fill="#2a9a2a" opacity="0.9" filter="url(#blur1)"/>
<circle cx="606.16" cy="1000.03" r="0.93" fill="#30b030" opacity="0.9" filter="url(#blur1)"/>
<circle cx="625.39" cy="966.23" r="1.03" fill="#2a9a2a" opacity="0.9" filter="url(#blur1)"/>
<circle cx="665.17" cy="991.21" r="0.71" fill="#30b030" opacity="0.9" filter="url(#blur1)"/>
<circle cx="626.18" cy="1021.95" r="0.72" fill="#30b030" opacity="0.9" filter="url(#blur1)"/>
<circle cx="611.46" cy="981.62" r="0.81" fill="#2a9a2a" opacity="0.9" filter="url(#blur1)"/>
<circle cx="668.07" cy="965.52" r="0.61" fill="#228a22" opacity="0.9" filter="url(#blur1)"/>
<circle cx="617.30" cy="982.94" r="0.88" fill="#30b030" opacity="0.9" filter="url(#blur1)"/>
<circle cx="566.37" cy="1054.82" r="0.86" fill="#30b030" opacity="0.9" filter="url(#blur1)"/>
<circle cx="616.71" cy="1062.79" r="1.18" fill="#30b030" opacity="0.9" filter="url(#blur1)"/>
<circle cx="632.95" cy="1073.49" r="0.81" fill="#228a22" opacity="0.9" filter="url(#blur1)"/>
<ellipse cx="637.7" cy="977.3" rx="3.6" ry="2.1" fill="#2cc82c" filter="url(#blur1)" transform="rotate(-34 637.7 977.3)"/>
<ellipse cx="555.8" cy="1032.7" rx="3.4" ry="2.0" fill="#1e9a1e" filter="url(#blur1)" transform="rotate(-30 555.8 1032.7)"/>
<ellipse cx="560.5" cy="1037.3" rx="2.5" ry="1.5" fill="#24b024" filter="url(#blur1)" transform="rotate(26 560.5 1037.3)"/>
<ellipse cx="581.9" cy="994.8" rx="2.7" ry="1.6" fill="#38dc38" filter="url(#blur1)" transform="rotate(-16 581.9 994.8)"/>
<ellipse cx="605.2" cy="991.4" rx="3.5" ry="2.1" fill="#24b024" filter="url(#blur1)" transform="rotate(-19 605.2 991.4)"/>
<ellipse cx="558.1" cy="1062.1" rx="2.2" ry="1.3" fill="#38dc38" filter="url(#blur1)" transform="rotate(-50 558.1 1062.1)"/>
<ellipse cx="592.6" cy="970.9" rx="2.3" ry="1.4" fill="#38dc38" filter="url(#blur1)" transform="rotate(-19 592.6 970.9)"/>
<ellipse cx="612.0" cy="961.9" rx="2.3" ry="1.4" fill="#2cc82c" filter="url(#blur1)" transform="rotate(-32 612.0 961.9)"/>
<ellipse cx="599.9" cy="966.1" rx="1.9" ry="1.1" fill="#24b024" filter="url(#blur1)" transform="rotate(30 599.9 966.1)"/>
<ellipse cx="580.9" cy="1028.2" rx="2.8" ry="1.6" fill="#38dc38" filter="url(#blur1)" transform="rotate(34 580.9 1028.2)"/>
<ellipse cx="656.4" cy="1050.8" rx="2.9" ry="1.7" fill="#24b024" filter="url(#blur1)" transform="rotate(42 656.4 1050.8)"/>
<ellipse cx="667.0" cy="978.4" rx="3.1" ry="1.8" fill="#38dc38" filter="url(#blur1)" transform="rotate(-45 667.0 978.4)"/>
<ellipse cx="648.6" cy="1043.0" rx="2.7" ry="1.6" fill="#1e9a1e" filter="url(#blur1)" transform="rotate(43 648.6 1043.0)"/>
<ellipse cx="634.5" cy="1019.0" rx="3.4" ry="2.0" fill="#2cc82c" filter="url(#blur1)" transform="rotate(37 634.5 1019.0)"/>
<ellipse cx="621.1" cy="1063.3" rx="3.0" ry="1.8" fill="#38dc38" filter="url(#blur1)" transform="rotate(-40 621.1 1063.3)"/>
<ellipse cx="557.8" cy="976.5" rx="2.5" ry="1.5" fill="#2cc82c" filter="url(#blur1)" transform="rotate(-2 557.8 976.5)"/>
<ellipse cx="649.9" cy="1025.1" rx="2.9" ry="1.7" fill="#38dc38" filter="url(#blur1)" transform="rotate(12 649.9 1025.1)"/>
<ellipse cx="584.4" cy="1013.5" rx="2.0" ry="1.2" fill="#2cc82c" filter="url(#blur1)" transform="rotate(34 584.4 1013.5)"/>
<ellipse cx="614.4" cy="1046.5" rx="2.7" ry="1.6" fill="#2cc82c" filter="url(#blur1)" transform="rotate(-17 614.4 1046.5)"/>
<ellipse cx="581.1" cy="1047.7" rx="2.3" ry="1.3" fill="#1e9a1e" filter="url(#blur1)" transform="rotate(13 581.1 1047.7)"/>
<ellipse cx="651.0" cy="970.1" rx="3.4" ry="2.0" fill="#24b024" filter="url(#blur1)" transform="rotate(48 651.0 970.1)"/>
<ellipse cx="559.6" cy="1033.6" rx="2.2" ry="1.3" fill="#38dc38" filter="url(#blur1)" transform="rotate(-8 559.6 1033.6)"/>
<ellipse cx="583.3" cy="1046.2" rx="2.4" ry="1.4" fill="#38dc38" filter="url(#blur1)" transform="rotate(-49 583.3 1046.2)"/>
<ellipse cx="609.4" cy="1016.8" rx="3.5" ry="2.1" fill="#2cc82c" filter="url(#blur1)" transform="rotate(38 609.4 1016.8)"/>
<ellipse cx="579.1" cy="1017.2" rx="3.1" ry="1.8" fill="#24b024" filter="url(#blur1)" transform="rotate(9 579.1 1017.2)"/>
</g>
<rect x="643.20" y="1064.00" width="18.50" height="3.00" fill="#fff"/>
<clipPath id="cf8"><rect x="672.10" y="961.30" width="114.60" height="114.20"/></clipPath>
<rect x="672.10" y="961.30" width="114.60" height="114.20" fill="#050000"/>
<g clip-path="url(#cf8)">
<circle cx="698.08" cy="1071.19" r="1.93" fill="#e02222" filter="url(#blur1)"/>
<circle cx="681.86" cy="989.56" r="2.80" fill="#d01c1c" filter="url(#blur1)"/>
<circle cx="718.02" cy="964.76" r="2.29" fill="#b81818" filter="url(#blur1)"/>
<circle cx="728.83" cy="983.25" r="2.63" fill="#e02222" filter="url(#blur1)"/>
</g>
<rect x="761.20" y="1064.00" width="18.50" height="3.00" fill="#fff"/>
<clipPath id="cf9"><rect x="790.20" y="961.30" width="114.20" height="114.20"/></clipPath>
<rect x="790.20" y="961.30" width="114.20" height="114.20" fill="#0a1f08"/>
<g clip-path="url(#cf9)">
<ellipse cx="843.1" cy="1003.9" rx="3.0" ry="2.3" fill="#1a5a1a" opacity="0.5" filter="url(#blur2)"/>
<ellipse cx="889.2" cy="962.0" rx="3.9" ry="3.0" fill="#1a5a1a" opacity="0.5" filter="url(#blur2)"/>
<ellipse cx="892.8" cy="970.5" rx="4.0" ry="3.1" fill="#1a5a1a" opacity="0.5" filter="url(#blur2)"/>
<ellipse cx="860.6" cy="966.0" rx="3.6" ry="2.8" fill="#1a5a1a" opacity="0.5" filter="url(#blur2)"/>
<ellipse cx="870.5" cy="1012.9" rx="4.5" ry="3.5" fill="#1a5a1a" opacity="0.5" filter="url(#blur2)"/>
<ellipse cx="808.1" cy="988.5" rx="2.9" ry="2.2" fill="#1a5a1a" opacity="0.5" filter="url(#blur2)"/>
<ellipse cx="848.0" cy="1066.8" rx="4.1" ry="3.2" fill="#1a5a1a" opacity="0.5" filter="url(#blur2)"/>
<ellipse cx="878.6" cy="1005.1" rx="4.5" ry="3.5" fill="#1a5a1a" opacity="0.5" filter="url(#blur2)"/>
<ellipse cx="801.8" cy="994.6" rx="4.4" ry="3.3" fill="#1a5a1a" opacity="0.5" filter="url(#blur2)"/>
<ellipse cx="873.1" cy="1009.5" rx="2.8" ry="2.2" fill="#1a5a1a" opacity="0.5" filter="url(#blur2)"/>
<ellipse cx="820.7" cy="985.3" rx="3.3" ry="2.6" fill="#1a5a1a" opacity="0.5" filter="url(#blur2)"/>
<ellipse cx="882.6" cy="984.1" rx="4.9" ry="3.8" fill="#1a5a1a" opacity="0.5" filter="url(#blur2)"/>
<ellipse cx="890.6" cy="967.6" rx="3.6" ry="2.8" fill="#1a5a1a" opacity="0.5" filter="url(#blur2)"/>
<ellipse cx="846.4" cy="964.0" rx="3.7" ry="2.8" fill="#1a5a1a" opacity="0.5" filter="url(#blur2)"/>
<ellipse cx="893.7" cy="974.1" rx="4.2" ry="3.2" fill="#1a5a1a" opacity="0.5" filter="url(#blur2)"/>
<ellipse cx="804.0" cy="1027.4" rx="4.9" ry="3.8" fill="#1a5a1a" opacity="0.5" filter="url(#blur2)"/>
<ellipse cx="813.4" cy="962.2" rx="2.8" ry="2.2" fill="#1a5a1a" opacity="0.5" filter="url(#blur2)"/>
<ellipse cx="851.8" cy="963.3" rx="2.8" ry="2.2" fill="#1a5a1a" opacity="0.5" filter="url(#blur2)"/>
<ellipse cx="846.9" cy="1066.5" rx="3.7" ry="2.8" fill="#1a5a1a" opacity="0.5" filter="url(#blur2)"/>
<ellipse cx="835.7" cy="1034.2" rx="2.8" ry="2.2" fill="#1a5a1a" opacity="0.5" filter="url(#blur2)"/>
<ellipse cx="856.4" cy="981.0" rx="4.2" ry="3.2" fill="#1a5a1a" opacity="0.5" filter="url(#blur2)"/>
<ellipse cx="899.6" cy="967.5" rx="4.0" ry="3.1" fill="#1a5a1a" opacity="0.5" filter="url(#blur2)"/>
<ellipse cx="859.4" cy="978.4" rx="3.3" ry="2.5" fill="#1a5a1a" opacity="0.5" filter="url(#blur2)"/>
<ellipse cx="903.8" cy="1075.3" rx="2.9" ry="2.2" fill="#1a5a1a" opacity="0.5" filter="url(#blur2)"/>
<ellipse cx="870.8" cy="1069.9" rx="3.2" ry="2.5" fill="#1a5a1a" opacity="0.5" filter="url(#blur2)"/>
<ellipse cx="860.0" cy="966.2" rx="3.6" ry="2.7" fill="#1a5a1a" opacity="0.5" filter="url(#blur2)"/>
<ellipse cx="867.2" cy="1028.7" rx="4.6" ry="3.5" fill="#1a5a1a" opacity="0.5" filter="url(#blur2)"/>
<ellipse cx="800.1" cy="1001.0" rx="4.8" ry="3.7" fill="#1a5a1a" opacity="0.5" filter="url(#blur2)"/>
<ellipse cx="856.9" cy="1012.8" rx="3.6" ry="2.8" fill="#1a5a1a" opacity="0.5" filter="url(#blur2)"/>
<ellipse cx="902.8" cy="1026.9" rx="2.6" ry="2.0" fill="#1a5a1a" opacity="0.5" filter="url(#blur2)"/>
<ellipse cx="881.5" cy="998.8" rx="3.7" ry="2.9" fill="#1a5a1a" opacity="0.5" filter="url(#blur2)"/>
<ellipse cx="814.6" cy="1012.0" rx="3.4" ry="2.6" fill="#1a5a1a" opacity="0.5" filter="url(#blur2)"/>
<ellipse cx="800.3" cy="1033.2" rx="2.9" ry="2.2" fill="#1a5a1a" opacity="0.5" filter="url(#blur2)"/>
<ellipse cx="879.7" cy="964.2" rx="4.6" ry="3.6" fill="#1a5a1a" opacity="0.5" filter="url(#blur2)"/>
<ellipse cx="882.4" cy="1018.1" rx="4.4" ry="3.4" fill="#1a5a1a" opacity="0.5" filter="url(#blur2)"/>
<ellipse cx="818.6" cy="1045.5" rx="3.7" ry="2.9" fill="#1a5a1a" opacity="0.5" filter="url(#blur2)"/>
<ellipse cx="816.6" cy="1071.4" rx="3.6" ry="2.8" fill="#1a5a1a" opacity="0.5" filter="url(#blur2)"/>
<ellipse cx="832.8" cy="1059.5" rx="3.6" ry="2.7" fill="#1a5a1a" opacity="0.5" filter="url(#blur2)"/>
<ellipse cx="866.4" cy="980.8" rx="4.8" ry="3.7" fill="#1a5a1a" opacity="0.5" filter="url(#blur2)"/>
<ellipse cx="819.8" cy="967.1" rx="5.1" ry="4.0" fill="#1a5a1a" opacity="0.5" filter="url(#blur2)"/>
<ellipse cx="809.9" cy="1069.4" rx="5.2" ry="4.0" fill="#1a5a1a" opacity="0.5" filter="url(#blur2)"/>
<ellipse cx="859.5" cy="962.7" rx="2.8" ry="2.1" fill="#1a5a1a" opacity="0.5" filter="url(#blur2)"/>
<ellipse cx="814.0" cy="1005.7" rx="4.2" ry="3.2" fill="#1a5a1a" opacity="0.5" filter="url(#blur2)"/>
<ellipse cx="900.6" cy="1001.8" rx="3.0" ry="2.3" fill="#1a5a1a" opacity="0.5" filter="url(#blur2)"/>
<ellipse cx="854.4" cy="977.0" rx="2.8" ry="2.2" fill="#1a5a1a" opacity="0.5" filter="url(#blur2)"/>
<ellipse cx="853.7" cy="1040.8" rx="2.8" ry="2.1" fill="#1a5a1a" opacity="0.5" filter="url(#blur2)"/>
<circle cx="841.75" cy="1041.68" r="1.06" fill="#30b030" opacity="0.9" filter="url(#blur1)"/>
<circle cx="857.37" cy="1052.97" r="1.00" fill="#30b030" opacity="0.9" filter="url(#blur1)"/>
<circle cx="878.33" cy="1061.83" r="0.90" fill="#2a9a2a" opacity="0.9" filter="url(#blur1)"/>
<circle cx="895.63" cy="992.92" r="0.68" fill="#228a22" opacity="0.9" filter="url(#blur1)"/>
<circle cx="883.89" cy="979.83" r="1.07" fill="#2a9a2a" opacity="0.9" filter="url(#blur1)"/>
<circle cx="813.37" cy="1015.39" r="0.95" fill="#228a22" opacity="0.9" filter="url(#blur1)"/>
<circle cx="834.54" cy="981.06" r="0.89" fill="#30b030" opacity="0.9" filter="url(#blur1)"/>
<circle cx="851.35" cy="1068.80" r="0.62" fill="#228a22" opacity="0.9" filter="url(#blur1)"/>
<circle cx="891.72" cy="1023.47" r="0.91" fill="#228a22" opacity="0.9" filter="url(#blur1)"/>
<circle cx="863.47" cy="1052.22" r="1.13" fill="#228a22" opacity="0.9" filter="url(#blur1)"/>
<circle cx="852.11" cy="995.60" r="1.03" fill="#228a22" opacity="0.9" filter="url(#blur1)"/>
<circle cx="805.90" cy="972.68" r="0.90" fill="#2a9a2a" opacity="0.9" filter="url(#blur1)"/>
<circle cx="846.18" cy="1034.02" r="0.63" fill="#228a22" opacity="0.9" filter="url(#blur1)"/>
<circle cx="793.54" cy="989.12" r="0.88" fill="#30b030" opacity="0.9" filter="url(#blur1)"/>
<circle cx="884.20" cy="1044.62" r="0.97" fill="#2a9a2a" opacity="0.9" filter="url(#blur1)"/>
<circle cx="794.31" cy="1029.47" r="0.97" fill="#228a22" opacity="0.9" filter="url(#blur1)"/>
<circle cx="836.99" cy="1028.51" r="0.65" fill="#2a9a2a" opacity="0.9" filter="url(#blur1)"/>
<circle cx="859.65" cy="982.01" r="0.64" fill="#30b030" opacity="0.9" filter="url(#blur1)"/>
<circle cx="861.53" cy="1023.77" r="0.88" fill="#228a22" opacity="0.9" filter="url(#blur1)"/>
<circle cx="878.77" cy="999.42" r="1.07" fill="#2a9a2a" opacity="0.9" filter="url(#blur1)"/>
<circle cx="843.17" cy="1012.59" r="0.69" fill="#30b030" opacity="0.9" filter="url(#blur1)"/>
<circle cx="902.84" cy="1056.40" r="0.66" fill="#30b030" opacity="0.9" filter="url(#blur1)"/>
<circle cx="866.86" cy="1012.86" r="0.68" fill="#2a9a2a" opacity="0.9" filter="url(#blur1)"/>
<circle cx="802.62" cy="967.32" r="0.64" fill="#228a22" opacity="0.9" filter="url(#blur1)"/>
<circle cx="901.68" cy="1003.83" r="1.04" fill="#30b030" opacity="0.9" filter="url(#blur1)"/>
<circle cx="861.75" cy="984.22" r="1.12" fill="#2a9a2a" opacity="0.9" filter="url(#blur1)"/>
<circle cx="817.17" cy="990.58" r="0.91" fill="#2a9a2a" opacity="0.9" filter="url(#blur1)"/>
<circle cx="791.97" cy="990.22" r="0.97" fill="#2a9a2a" opacity="0.9" filter="url(#blur1)"/>
<circle cx="849.52" cy="1008.94" r="1.14" fill="#30b030" opacity="0.9" filter="url(#blur1)"/>
<circle cx="887.46" cy="1030.42" r="0.73" fill="#2a9a2a" opacity="0.9" filter="url(#blur1)"/>
<circle cx="867.99" cy="976.40" r="0.62" fill="#2a9a2a" opacity="0.9" filter="url(#blur1)"/>
<circle cx="901.61" cy="1051.09" r="1.14" fill="#2a9a2a" opacity="0.9" filter="url(#blur1)"/>
<circle cx="890.30" cy="1066.36" r="1.18" fill="#2a9a2a" opacity="0.9" filter="url(#blur1)"/>
<circle cx="793.57" cy="1011.47" r="0.85" fill="#30b030" opacity="0.9" filter="url(#blur1)"/>
<circle cx="846.35" cy="1000.92" r="1.10" fill="#30b030" opacity="0.9" filter="url(#blur1)"/>
<circle cx="839.32" cy="970.27" r="0.78" fill="#30b030" opacity="0.9" filter="url(#blur1)"/>
<circle cx="859.92" cy="1026.22" r="0.86" fill="#2a9a2a" opacity="0.9" filter="url(#blur1)"/>
<circle cx="827.83" cy="968.02" r="0.66" fill="#30b030" opacity="0.9" filter="url(#blur1)"/>
<circle cx="852.31" cy="982.83" r="1.03" fill="#228a22" opacity="0.9" filter="url(#blur1)"/>
<circle cx="892.60" cy="1069.07" r="0.65" fill="#30b030" opacity="0.9" filter="url(#blur1)"/>
<circle cx="900.10" cy="1029.76" r="1.16" fill="#228a22" opacity="0.9" filter="url(#blur1)"/>
<circle cx="873.97" cy="985.42" r="0.93" fill="#30b030" opacity="0.9" filter="url(#blur1)"/>
<circle cx="798.86" cy="1037.79" r="0.85" fill="#2a9a2a" opacity="0.9" filter="url(#blur1)"/>
<circle cx="889.20" cy="998.27" r="1.10" fill="#228a22" opacity="0.9" filter="url(#blur1)"/>
<circle cx="847.57" cy="1014.20" r="0.60" fill="#228a22" opacity="0.9" filter="url(#blur1)"/>
<circle cx="813.62" cy="986.85" r="1.19" fill="#30b030" opacity="0.9" filter="url(#blur1)"/>
<circle cx="795.00" cy="978.33" r="0.70" fill="#2a9a2a" opacity="0.9" filter="url(#blur1)"/>
<circle cx="848.40" cy="1051.49" r="0.84" fill="#30b030" opacity="0.9" filter="url(#blur1)"/>
<circle cx="834.67" cy="1028.28" r="1.12" fill="#228a22" opacity="0.9" filter="url(#blur1)"/>
<circle cx="869.02" cy="1002.30" r="0.76" fill="#30b030" opacity="0.9" filter="url(#blur1)"/>
<circle cx="894.70" cy="1026.09" r="1.08" fill="#2a9a2a" opacity="0.9" filter="url(#blur1)"/>
<circle cx="855.38" cy="962.38" r="1.01" fill="#2a9a2a" opacity="0.9" filter="url(#blur1)"/>
<circle cx="822.01" cy="1020.97" r="1.05" fill="#30b030" opacity="0.9" filter="url(#blur1)"/>
<circle cx="893.92" cy="1047.48" r="0.76" fill="#2a9a2a" opacity="0.9" filter="url(#blur1)"/>
<circle cx="849.23" cy="1015.98" r="1.20" fill="#2a9a2a" opacity="0.9" filter="url(#blur1)"/>
<circle cx="828.01" cy="1046.74" r="0.81" fill="#228a22" opacity="0.9" filter="url(#blur1)"/>
<circle cx="796.01" cy="993.11" r="0.81" fill="#228a22" opacity="0.9" filter="url(#blur1)"/>
<circle cx="811.49" cy="1050.21" r="1.00" fill="#2a9a2a" opacity="0.9" filter="url(#blur1)"/>
<circle cx="841.98" cy="1000.21" r="1.05" fill="#2a9a2a" opacity="0.9" filter="url(#blur1)"/>
<circle cx="893.25" cy="986.03" r="0.72" fill="#228a22" opacity="0.9" filter="url(#blur1)"/>
<circle cx="855.13" cy="962.44" r="0.93" fill="#2a9a2a" opacity="0.9" filter="url(#blur1)"/>
<circle cx="897.11" cy="1043.03" r="0.90" fill="#2a9a2a" opacity="0.9" filter="url(#blur1)"/>
<circle cx="832.73" cy="1052.51" r="1.13" fill="#30b030" opacity="0.9" filter="url(#blur1)"/>
<circle cx="862.39" cy="1071.40" r="0.93" fill="#2a9a2a" opacity="0.9" filter="url(#blur1)"/>
<circle cx="900.30" cy="970.99" r="0.81" fill="#2a9a2a" opacity="0.9" filter="url(#blur1)"/>
<circle cx="877.84" cy="1071.97" r="0.71" fill="#228a22" opacity="0.9" filter="url(#blur1)"/>
<circle cx="791.58" cy="1036.93" r="0.80" fill="#2a9a2a" opacity="0.9" filter="url(#blur1)"/>
<circle cx="901.54" cy="981.09" r="0.63" fill="#228a22" opacity="0.9" filter="url(#blur1)"/>
<circle cx="856.56" cy="984.18" r="1.10" fill="#30b030" opacity="0.9" filter="url(#blur1)"/>
<ellipse cx="871.0" cy="999.0" rx="2.5" ry="1.5" fill="#2cc82c" filter="url(#blur1)" transform="rotate(1 871.0 999.0)"/>
<ellipse cx="884.1" cy="989.3" rx="2.7" ry="1.6" fill="#2cc82c" filter="url(#blur1)" transform="rotate(-10 884.1 989.3)"/>
<ellipse cx="810.0" cy="977.7" rx="2.8" ry="1.7" fill="#38dc38" filter="url(#blur1)" transform="rotate(31 810.0 977.7)"/>
<ellipse cx="866.4" cy="1021.0" rx="2.9" ry="1.7" fill="#38dc38" filter="url(#blur1)" transform="rotate(-2 866.4 1021.0)"/>
<ellipse cx="794.0" cy="1075.4" rx="2.1" ry="1.2" fill="#1e9a1e" filter="url(#blur1)" transform="rotate(11 794.0 1075.4)"/>
<ellipse cx="875.7" cy="1056.8" rx="3.0" ry="1.8" fill="#2cc82c" filter="url(#blur1)" transform="rotate(15 875.7 1056.8)"/>
<ellipse cx="900.3" cy="1020.7" rx="2.3" ry="1.4" fill="#24b024" filter="url(#blur1)" transform="rotate(18 900.3 1020.7)"/>
<ellipse cx="791.8" cy="983.9" rx="2.0" ry="1.2" fill="#1e9a1e" filter="url(#blur1)" transform="rotate(-11 791.8 983.9)"/>
<ellipse cx="896.6" cy="973.1" rx="3.3" ry="2.0" fill="#38dc38" filter="url(#blur1)" transform="rotate(9 896.6 973.1)"/>
<ellipse cx="872.5" cy="990.4" rx="2.4" ry="1.4" fill="#2cc82c" filter="url(#blur1)" transform="rotate(-28 872.5 990.4)"/>
<ellipse cx="866.6" cy="1008.7" rx="2.3" ry="1.4" fill="#24b024" filter="url(#blur1)" transform="rotate(-9 866.6 1008.7)"/>
<ellipse cx="854.1" cy="979.6" rx="3.0" ry="1.8" fill="#38dc38" filter="url(#blur1)" transform="rotate(44 854.1 979.6)"/>
<ellipse cx="901.3" cy="971.5" rx="2.2" ry="1.3" fill="#24b024" filter="url(#blur1)" transform="rotate(40 901.3 971.5)"/>
<ellipse cx="840.3" cy="1001.6" rx="3.2" ry="1.9" fill="#2cc82c" filter="url(#blur1)" transform="rotate(-38 840.3 1001.6)"/>
<ellipse cx="870.8" cy="1042.2" rx="3.5" ry="2.0" fill="#2cc82c" filter="url(#blur1)" transform="rotate(-19 870.8 1042.2)"/>
<ellipse cx="855.6" cy="1019.3" rx="3.3" ry="1.9" fill="#24b024" filter="url(#blur1)" transform="rotate(39 855.6 1019.3)"/>
<ellipse cx="865.8" cy="1063.7" rx="2.5" ry="1.4" fill="#1e9a1e" filter="url(#blur1)" transform="rotate(-46 865.8 1063.7)"/>
<ellipse cx="808.6" cy="1023.6" rx="2.3" ry="1.4" fill="#24b024" filter="url(#blur1)" transform="rotate(-14 808.6 1023.6)"/>
<ellipse cx="840.0" cy="1073.0" rx="2.6" ry="1.5" fill="#2cc82c" filter="url(#blur1)" transform="rotate(-43 840.0 1073.0)"/>
<ellipse cx="890.7" cy="1055.0" rx="3.0" ry="1.8" fill="#38dc38" filter="url(#blur1)" transform="rotate(2 890.7 1055.0)"/>
<ellipse cx="819.8" cy="1012.9" rx="2.0" ry="1.2" fill="#1e9a1e" filter="url(#blur1)" transform="rotate(15 819.8 1012.9)"/>
<ellipse cx="899.1" cy="982.2" rx="3.0" ry="1.7" fill="#24b024" filter="url(#blur1)" transform="rotate(4 899.1 982.2)"/>
<ellipse cx="846.7" cy="996.6" rx="2.0" ry="1.2" fill="#24b024" filter="url(#blur1)" transform="rotate(-26 846.7 996.6)"/>
<ellipse cx="901.4" cy="1070.6" rx="3.5" ry="2.1" fill="#38dc38" filter="url(#blur1)" transform="rotate(27 901.4 1070.6)"/>
<ellipse cx="793.6" cy="994.7" rx="1.9" ry="1.1" fill="#2cc82c" filter="url(#blur1)" transform="rotate(25 793.6 994.7)"/>
<circle cx="856.11" cy="984.25" r="2.53" fill="#5a1212" opacity="0.8" filter="url(#blur1)"/>
<circle cx="833.67" cy="992.60" r="2.96" fill="#5a1212" opacity="0.8" filter="url(#blur1)"/>
<circle cx="811.47" cy="1062.07" r="2.43" fill="#5a1212" opacity="0.8" filter="url(#blur1)"/>
<circle cx="865.91" cy="977.75" r="2.69" fill="#5a1212" opacity="0.8" filter="url(#blur1)"/>
<circle cx="891.79" cy="983.92" r="2.37" fill="#5a1212" opacity="0.8" filter="url(#blur1)"/>
<circle cx="864.81" cy="1015.51" r="2.70" fill="#5a1212" opacity="0.8" filter="url(#blur1)"/>
<circle cx="863.78" cy="997.16" r="2.62" fill="#5a1212" opacity="0.8" filter="url(#blur1)"/>
<circle cx="878.49" cy="1014.22" r="2.51" fill="#5a1212" opacity="0.8" filter="url(#blur1)"/>
<circle cx="862.68" cy="1015.76" r="1.89" fill="#b81818" filter="url(#blur1)"/>
<circle cx="876.30" cy="1057.38" r="2.14" fill="#b81818" filter="url(#blur1)"/>
<circle cx="808.77" cy="1070.06" r="2.41" fill="#b81818" filter="url(#blur1)"/>
<circle cx="869.84" cy="1022.48" r="2.74" fill="#e02222" filter="url(#blur1)"/>
<circle cx="870.53" cy="1011.31" r="2.38" fill="#f03030" filter="url(#blur1)"/>
<circle cx="877.56" cy="980.70" r="1.81" fill="#f03030" filter="url(#blur1)"/>
<circle cx="848.55" cy="1011.78" r="2.32" fill="#f03030" filter="url(#blur1)"/>
<circle cx="827.21" cy="981.37" r="2.50" fill="#f03030" filter="url(#blur1)"/>
<circle cx="869.67" cy="997.68" r="2.28" fill="#f03030" filter="url(#blur1)"/>
<circle cx="896.45" cy="993.68" r="1.89" fill="#f03030" filter="url(#blur1)"/>
<circle cx="824.50" cy="968.15" r="2.19" fill="#b81818" filter="url(#blur1)"/>
<circle cx="798.14" cy="1008.46" r="2.25" fill="#b81818" filter="url(#blur1)"/>
<circle cx="841.82" cy="966.10" r="2.01" fill="#e02222" filter="url(#blur1)"/>
<circle cx="855.73" cy="970.41" r="2.57" fill="#f03030" filter="url(#blur1)"/>
<circle cx="791.21" cy="1062.86" r="2.58" fill="#b81818" filter="url(#blur1)"/>
<circle cx="874.01" cy="979.45" r="1.89" fill="#e02222" filter="url(#blur1)"/>
<circle cx="803.97" cy="1059.12" r="1.96" fill="#f03030" filter="url(#blur1)"/>
</g>
<rect x="878.90" y="1064.00" width="18.50" height="3.00" fill="#fff"/>
<clipPath id="cf10"><rect x="554.20" y="1078.00" width="114.50" height="114.50"/></clipPath>
<rect x="554.20" y="1078.00" width="114.50" height="114.50" fill="#0a230a"/>
<g clip-path="url(#cf10)">
<ellipse cx="619.6" cy="1127.1" rx="4.1" ry="3.2" fill="#1a5a1a" opacity="0.5" filter="url(#blur2)"/>
<ellipse cx="577.8" cy="1171.1" rx="4.7" ry="3.6" fill="#1a5a1a" opacity="0.5" filter="url(#blur2)"/>
<ellipse cx="629.0" cy="1096.3" rx="4.0" ry="3.0" fill="#1a5a1a" opacity="0.5" filter="url(#blur2)"/>
<ellipse cx="591.7" cy="1106.6" rx="5.1" ry="3.9" fill="#1a5a1a" opacity="0.5" filter="url(#blur2)"/>
<ellipse cx="668.3" cy="1083.1" rx="4.8" ry="3.7" fill="#1a5a1a" opacity="0.5" filter="url(#blur2)"/>
<ellipse cx="623.3" cy="1121.7" rx="3.3" ry="2.6" fill="#1a5a1a" opacity="0.5" filter="url(#blur2)"/>
<ellipse cx="631.5" cy="1130.3" rx="4.4" ry="3.4" fill="#1a5a1a" opacity="0.5" filter="url(#blur2)"/>
<ellipse cx="630.0" cy="1093.2" rx="4.6" ry="3.5" fill="#1a5a1a" opacity="0.5" filter="url(#blur2)"/>
<ellipse cx="666.7" cy="1189.0" rx="4.2" ry="3.2" fill="#1a5a1a" opacity="0.5" filter="url(#blur2)"/>
<ellipse cx="559.3" cy="1078.5" rx="2.9" ry="2.3" fill="#1a5a1a" opacity="0.5" filter="url(#blur2)"/>
<ellipse cx="661.9" cy="1112.7" rx="3.6" ry="2.7" fill="#1a5a1a" opacity="0.5" filter="url(#blur2)"/>
<ellipse cx="657.0" cy="1114.0" rx="4.0" ry="3.1" fill="#1a5a1a" opacity="0.5" filter="url(#blur2)"/>
<ellipse cx="604.1" cy="1085.4" rx="4.1" ry="3.2" fill="#1a5a1a" opacity="0.5" filter="url(#blur2)"/>
<ellipse cx="650.8" cy="1095.9" rx="3.2" ry="2.4" fill="#1a5a1a" opacity="0.5" filter="url(#blur2)"/>
<ellipse cx="601.5" cy="1082.2" rx="3.9" ry="3.0" fill="#1a5a1a" opacity="0.5" filter="url(#blur2)"/>
<ellipse cx="647.9" cy="1153.3" rx="4.0" ry="3.1" fill="#1a5a1a" opacity="0.5" filter="url(#blur2)"/>
<ellipse cx="652.1" cy="1095.1" rx="4.1" ry="3.1" fill="#1a5a1a" opacity="0.5" filter="url(#blur2)"/>
<ellipse cx="597.0" cy="1146.8" rx="2.9" ry="2.2" fill="#1a5a1a" opacity="0.5" filter="url(#blur2)"/>
<ellipse cx="643.0" cy="1089.1" rx="3.0" ry="2.3" fill="#1a5a1a" opacity="0.5" filter="url(#blur2)"/>
<ellipse cx="646.7" cy="1186.5" rx="3.7" ry="2.9" fill="#1a5a1a" opacity="0.5" filter="url(#blur2)"/>
<ellipse cx="601.6" cy="1106.1" rx="3.3" ry="2.5" fill="#1a5a1a" opacity="0.5" filter="url(#blur2)"/>
<ellipse cx="624.9" cy="1098.4" rx="2.9" ry="2.2" fill="#1a5a1a" opacity="0.5" filter="url(#blur2)"/>
<ellipse cx="606.4" cy="1096.9" rx="4.3" ry="3.3" fill="#1a5a1a" opacity="0.5" filter="url(#blur2)"/>
<ellipse cx="648.2" cy="1167.0" rx="3.8" ry="3.0" fill="#1a5a1a" opacity="0.5" filter="url(#blur2)"/>
<ellipse cx="594.0" cy="1127.8" rx="2.6" ry="2.0" fill="#1a5a1a" opacity="0.5" filter="url(#blur2)"/>
<ellipse cx="635.8" cy="1116.0" rx="3.4" ry="2.6" fill="#1a5a1a" opacity="0.5" filter="url(#blur2)"/>
<ellipse cx="563.4" cy="1129.3" rx="4.1" ry="3.2" fill="#1a5a1a" opacity="0.5" filter="url(#blur2)"/>
<ellipse cx="598.9" cy="1177.6" rx="4.4" ry="3.3" fill="#1a5a1a" opacity="0.5" filter="url(#blur2)"/>
<ellipse cx="581.8" cy="1138.2" rx="5.0" ry="3.8" fill="#1a5a1a" opacity="0.5" filter="url(#blur2)"/>
<ellipse cx="613.8" cy="1146.9" rx="2.8" ry="2.1" fill="#1a5a1a" opacity="0.5" filter="url(#blur2)"/>
<ellipse cx="610.2" cy="1130.8" rx="3.6" ry="2.8" fill="#1a5a1a" opacity="0.5" filter="url(#blur2)"/>
<ellipse cx="602.3" cy="1145.0" rx="4.0" ry="3.1" fill="#1a5a1a" opacity="0.5" filter="url(#blur2)"/>
<ellipse cx="610.3" cy="1097.0" rx="3.7" ry="2.9" fill="#1a5a1a" opacity="0.5" filter="url(#blur2)"/>
<ellipse cx="665.1" cy="1125.5" rx="2.7" ry="2.1" fill="#1a5a1a" opacity="0.5" filter="url(#blur2)"/>
<ellipse cx="554.5" cy="1139.3" rx="2.7" ry="2.1" fill="#1a5a1a" opacity="0.5" filter="url(#blur2)"/>
<ellipse cx="564.8" cy="1090.5" rx="3.8" ry="2.9" fill="#1a5a1a" opacity="0.5" filter="url(#blur2)"/>
<ellipse cx="667.9" cy="1133.5" rx="3.8" ry="2.9" fill="#1a5a1a" opacity="0.5" filter="url(#blur2)"/>
<ellipse cx="604.2" cy="1135.4" rx="3.8" ry="2.9" fill="#1a5a1a" opacity="0.5" filter="url(#blur2)"/>
<ellipse cx="637.4" cy="1180.8" rx="4.4" ry="3.4" fill="#1a5a1a" opacity="0.5" filter="url(#blur2)"/>
<ellipse cx="602.7" cy="1152.4" rx="5.0" ry="3.8" fill="#1a5a1a" opacity="0.5" filter="url(#blur2)"/>
<ellipse cx="571.8" cy="1105.2" rx="4.2" ry="3.2" fill="#1a5a1a" opacity="0.5" filter="url(#blur2)"/>
<ellipse cx="632.9" cy="1151.6" rx="4.1" ry="3.2" fill="#1a5a1a" opacity="0.5" filter="url(#blur2)"/>
<ellipse cx="649.2" cy="1132.8" rx="4.7" ry="3.6" fill="#1a5a1a" opacity="0.5" filter="url(#blur2)"/>
<ellipse cx="664.4" cy="1127.8" rx="4.8" ry="3.7" fill="#1a5a1a" opacity="0.5" filter="url(#blur2)"/>
<ellipse cx="636.4" cy="1179.8" rx="2.7" ry="2.1" fill="#1a5a1a" opacity="0.5" filter="url(#blur2)"/>
<ellipse cx="658.7" cy="1165.8" rx="5.1" ry="3.9" fill="#1a5a1a" opacity="0.5" filter="url(#blur2)"/>
<ellipse cx="666.6" cy="1110.7" rx="4.3" ry="3.3" fill="#1a5a1a" opacity="0.5" filter="url(#blur2)"/>
<ellipse cx="570.4" cy="1146.1" rx="5.0" ry="3.8" fill="#1a5a1a" opacity="0.5" filter="url(#blur2)"/>
<ellipse cx="576.2" cy="1118.1" rx="2.8" ry="2.2" fill="#1a5a1a" opacity="0.5" filter="url(#blur2)"/>
<ellipse cx="576.5" cy="1101.8" rx="2.8" ry="2.2" fill="#1a5a1a" opacity="0.5" filter="url(#blur2)"/>
<ellipse cx="668.7" cy="1179.6" rx="3.8" ry="2.9" fill="#1a5a1a" opacity="0.5" filter="url(#blur2)"/>
<ellipse cx="639.4" cy="1157.6" rx="4.0" ry="3.0" fill="#1a5a1a" opacity="0.5" filter="url(#blur2)"/>
<ellipse cx="602.7" cy="1154.0" rx="4.0" ry="3.1" fill="#1a5a1a" opacity="0.5" filter="url(#blur2)"/>
<ellipse cx="584.6" cy="1119.7" rx="4.2" ry="3.3" fill="#1a5a1a" opacity="0.5" filter="url(#blur2)"/>
<ellipse cx="626.0" cy="1102.0" rx="4.2" ry="3.2" fill="#1a5a1a" opacity="0.5" filter="url(#blur2)"/>
<ellipse cx="654.4" cy="1177.8" rx="4.3" ry="3.3" fill="#1a5a1a" opacity="0.5" filter="url(#blur2)"/>
<ellipse cx="562.2" cy="1126.5" rx="2.8" ry="2.2" fill="#1a5a1a" opacity="0.5" filter="url(#blur2)"/>
<ellipse cx="560.5" cy="1107.2" rx="3.8" ry="2.9" fill="#1a5a1a" opacity="0.5" filter="url(#blur2)"/>
<ellipse cx="641.2" cy="1150.0" rx="3.3" ry="2.6" fill="#1a5a1a" opacity="0.5" filter="url(#blur2)"/>
<ellipse cx="633.8" cy="1136.0" rx="3.9" ry="3.0" fill="#1a5a1a" opacity="0.5" filter="url(#blur2)"/>
<circle cx="584.38" cy="1128.57" r="0.80" fill="#228a22" opacity="0.9" filter="url(#blur1)"/>
<circle cx="585.92" cy="1181.74" r="1.11" fill="#228a22" opacity="0.9" filter="url(#blur1)"/>
<circle cx="609.15" cy="1156.96" r="1.03" fill="#228a22" opacity="0.9" filter="url(#blur1)"/>
<circle cx="600.60" cy="1168.86" r="1.18" fill="#30b030" opacity="0.9" filter="url(#blur1)"/>
<circle cx="636.72" cy="1085.50" r="1.11" fill="#30b030" opacity="0.9" filter="url(#blur1)"/>
<circle cx="556.07" cy="1115.52" r="0.79" fill="#228a22" opacity="0.9" filter="url(#blur1)"/>
<circle cx="599.60" cy="1120.82" r="0.96" fill="#2a9a2a" opacity="0.9" filter="url(#blur1)"/>
<circle cx="573.50" cy="1088.93" r="1.07" fill="#2a9a2a" opacity="0.9" filter="url(#blur1)"/>
<circle cx="579.38" cy="1163.29" r="1.17" fill="#2a9a2a" opacity="0.9" filter="url(#blur1)"/>
<circle cx="619.41" cy="1190.65" r="1.15" fill="#228a22" opacity="0.9" filter="url(#blur1)"/>
<circle cx="556.04" cy="1101.05" r="1.11" fill="#228a22" opacity="0.9" filter="url(#blur1)"/>
<circle cx="576.04" cy="1184.79" r="0.94" fill="#30b030" opacity="0.9" filter="url(#blur1)"/>
<circle cx="653.84" cy="1153.30" r="0.95" fill="#2a9a2a" opacity="0.9" filter="url(#blur1)"/>
<circle cx="618.91" cy="1176.44" r="0.84" fill="#228a22" opacity="0.9" filter="url(#blur1)"/>
<circle cx="627.29" cy="1166.48" r="0.67" fill="#30b030" opacity="0.9" filter="url(#blur1)"/>
<circle cx="668.68" cy="1081.57" r="1.15" fill="#228a22" opacity="0.9" filter="url(#blur1)"/>
<circle cx="646.43" cy="1088.10" r="0.86" fill="#30b030" opacity="0.9" filter="url(#blur1)"/>
<circle cx="561.03" cy="1183.80" r="0.87" fill="#30b030" opacity="0.9" filter="url(#blur1)"/>
<circle cx="624.03" cy="1160.73" r="1.19" fill="#2a9a2a" opacity="0.9" filter="url(#blur1)"/>
<circle cx="594.71" cy="1126.50" r="1.09" fill="#228a22" opacity="0.9" filter="url(#blur1)"/>
<circle cx="612.92" cy="1122.45" r="0.66" fill="#228a22" opacity="0.9" filter="url(#blur1)"/>
<circle cx="571.67" cy="1184.74" r="0.71" fill="#228a22" opacity="0.9" filter="url(#blur1)"/>
<circle cx="575.97" cy="1127.09" r="1.15" fill="#30b030" opacity="0.9" filter="url(#blur1)"/>
<circle cx="618.22" cy="1187.95" r="0.96" fill="#2a9a2a" opacity="0.9" filter="url(#blur1)"/>
<circle cx="589.81" cy="1186.76" r="0.63" fill="#2a9a2a" opacity="0.9" filter="url(#blur1)"/>
<circle cx="565.61" cy="1142.64" r="1.10" fill="#30b030" opacity="0.9" filter="url(#blur1)"/>
<circle cx="662.68" cy="1082.90" r="0.96" fill="#30b030" opacity="0.9" filter="url(#blur1)"/>
<circle cx="563.10" cy="1164.97" r="0.89" fill="#2a9a2a" opacity="0.9" filter="url(#blur1)"/>
<circle cx="600.64" cy="1164.14" r="0.88" fill="#30b030" opacity="0.9" filter="url(#blur1)"/>
<circle cx="654.81" cy="1097.82" r="1.13" fill="#228a22" opacity="0.9" filter="url(#blur1)"/>
<circle cx="635.06" cy="1095.53" r="0.99" fill="#228a22" opacity="0.9" filter="url(#blur1)"/>
<circle cx="599.08" cy="1088.80" r="1.18" fill="#2a9a2a" opacity="0.9" filter="url(#blur1)"/>
<circle cx="581.11" cy="1126.39" r="0.98" fill="#228a22" opacity="0.9" filter="url(#blur1)"/>
<circle cx="587.40" cy="1152.37" r="1.13" fill="#30b030" opacity="0.9" filter="url(#blur1)"/>
<circle cx="649.65" cy="1137.75" r="0.89" fill="#2a9a2a" opacity="0.9" filter="url(#blur1)"/>
<circle cx="615.17" cy="1079.40" r="0.69" fill="#228a22" opacity="0.9" filter="url(#blur1)"/>
<circle cx="598.44" cy="1104.21" r="0.91" fill="#30b030" opacity="0.9" filter="url(#blur1)"/>
<circle cx="565.62" cy="1181.73" r="0.95" fill="#30b030" opacity="0.9" filter="url(#blur1)"/>
<circle cx="594.90" cy="1188.93" r="0.71" fill="#228a22" opacity="0.9" filter="url(#blur1)"/>
<circle cx="615.03" cy="1086.57" r="1.09" fill="#2a9a2a" opacity="0.9" filter="url(#blur1)"/>
<circle cx="628.99" cy="1127.30" r="1.10" fill="#2a9a2a" opacity="0.9" filter="url(#blur1)"/>
<circle cx="637.44" cy="1119.04" r="0.98" fill="#2a9a2a" opacity="0.9" filter="url(#blur1)"/>
<circle cx="556.36" cy="1092.58" r="1.18" fill="#2a9a2a" opacity="0.9" filter="url(#blur1)"/>
<circle cx="582.47" cy="1106.21" r="0.97" fill="#228a22" opacity="0.9" filter="url(#blur1)"/>
<circle cx="622.39" cy="1178.04" r="1.06" fill="#2a9a2a" opacity="0.9" filter="url(#blur1)"/>
<circle cx="554.83" cy="1081.17" r="0.63" fill="#2a9a2a" opacity="0.9" filter="url(#blur1)"/>
<circle cx="568.47" cy="1122.11" r="0.61" fill="#30b030" opacity="0.9" filter="url(#blur1)"/>
<circle cx="638.73" cy="1098.94" r="0.85" fill="#2a9a2a" opacity="0.9" filter="url(#blur1)"/>
<circle cx="617.37" cy="1084.04" r="0.83" fill="#30b030" opacity="0.9" filter="url(#blur1)"/>
<circle cx="606.33" cy="1099.27" r="0.84" fill="#30b030" opacity="0.9" filter="url(#blur1)"/>
<circle cx="610.17" cy="1159.22" r="0.82" fill="#2a9a2a" opacity="0.9" filter="url(#blur1)"/>
<circle cx="570.12" cy="1106.99" r="0.65" fill="#2a9a2a" opacity="0.9" filter="url(#blur1)"/>
<circle cx="571.79" cy="1087.00" r="0.91" fill="#2a9a2a" opacity="0.9" filter="url(#blur1)"/>
<circle cx="642.01" cy="1139.49" r="0.77" fill="#228a22" opacity="0.9" filter="url(#blur1)"/>
<circle cx="646.56" cy="1170.72" r="0.95" fill="#228a22" opacity="0.9" filter="url(#blur1)"/>
<circle cx="661.04" cy="1137.25" r="1.13" fill="#2a9a2a" opacity="0.9" filter="url(#blur1)"/>
<circle cx="635.84" cy="1150.58" r="0.97" fill="#228a22" opacity="0.9" filter="url(#blur1)"/>
<circle cx="578.35" cy="1079.68" r="0.69" fill="#228a22" opacity="0.9" filter="url(#blur1)"/>
<circle cx="650.60" cy="1095.28" r="0.62" fill="#228a22" opacity="0.9" filter="url(#blur1)"/>
<circle cx="630.84" cy="1091.23" r="0.78" fill="#30b030" opacity="0.9" filter="url(#blur1)"/>
<circle cx="574.30" cy="1149.67" r="0.62" fill="#228a22" opacity="0.9" filter="url(#blur1)"/>
<circle cx="571.83" cy="1153.15" r="1.02" fill="#2a9a2a" opacity="0.9" filter="url(#blur1)"/>
<circle cx="592.98" cy="1154.61" r="0.69" fill="#30b030" opacity="0.9" filter="url(#blur1)"/>
<circle cx="621.81" cy="1097.06" r="1.02" fill="#2a9a2a" opacity="0.9" filter="url(#blur1)"/>
<circle cx="610.84" cy="1118.47" r="1.18" fill="#228a22" opacity="0.9" filter="url(#blur1)"/>
<circle cx="597.67" cy="1180.02" r="1.17" fill="#228a22" opacity="0.9" filter="url(#blur1)"/>
<circle cx="661.66" cy="1092.87" r="0.87" fill="#228a22" opacity="0.9" filter="url(#blur1)"/>
<circle cx="592.50" cy="1138.44" r="0.63" fill="#228a22" opacity="0.9" filter="url(#blur1)"/>
<circle cx="643.09" cy="1168.11" r="1.15" fill="#228a22" opacity="0.9" filter="url(#blur1)"/>
<circle cx="558.31" cy="1081.80" r="0.61" fill="#30b030" opacity="0.9" filter="url(#blur1)"/>
<circle cx="604.04" cy="1153.49" r="1.10" fill="#228a22" opacity="0.9" filter="url(#blur1)"/>
<circle cx="636.99" cy="1088.37" r="0.64" fill="#30b030" opacity="0.9" filter="url(#blur1)"/>
<circle cx="646.75" cy="1126.98" r="0.71" fill="#2a9a2a" opacity="0.9" filter="url(#blur1)"/>
<circle cx="641.64" cy="1123.77" r="1.02" fill="#2a9a2a" opacity="0.9" filter="url(#blur1)"/>
<circle cx="632.16" cy="1163.38" r="1.03" fill="#30b030" opacity="0.9" filter="url(#blur1)"/>
<circle cx="579.18" cy="1137.04" r="0.89" fill="#228a22" opacity="0.9" filter="url(#blur1)"/>
<circle cx="598.39" cy="1187.87" r="1.19" fill="#228a22" opacity="0.9" filter="url(#blur1)"/>
<circle cx="637.73" cy="1095.74" r="0.96" fill="#228a22" opacity="0.9" filter="url(#blur1)"/>
<circle cx="569.11" cy="1153.20" r="0.87" fill="#2a9a2a" opacity="0.9" filter="url(#blur1)"/>
<circle cx="661.58" cy="1130.00" r="1.00" fill="#30b030" opacity="0.9" filter="url(#blur1)"/>
<circle cx="598.20" cy="1101.79" r="0.80" fill="#228a22" opacity="0.9" filter="url(#blur1)"/>
<circle cx="583.86" cy="1084.82" r="0.85" fill="#30b030" opacity="0.9" filter="url(#blur1)"/>
<circle cx="554.76" cy="1155.20" r="0.90" fill="#228a22" opacity="0.9" filter="url(#blur1)"/>
<circle cx="654.60" cy="1083.50" r="1.03" fill="#30b030" opacity="0.9" filter="url(#blur1)"/>
<circle cx="573.71" cy="1172.43" r="1.13" fill="#30b030" opacity="0.9" filter="url(#blur1)"/>
<circle cx="603.39" cy="1088.61" r="0.88" fill="#2a9a2a" opacity="0.9" filter="url(#blur1)"/>
<circle cx="648.06" cy="1138.83" r="1.17" fill="#228a22" opacity="0.9" filter="url(#blur1)"/>
<circle cx="648.86" cy="1141.06" r="0.94" fill="#2a9a2a" opacity="0.9" filter="url(#blur1)"/>
<circle cx="602.46" cy="1091.27" r="0.84" fill="#30b030" opacity="0.9" filter="url(#blur1)"/>
<circle cx="647.54" cy="1123.09" r="0.61" fill="#30b030" opacity="0.9" filter="url(#blur1)"/>
<ellipse cx="626.7" cy="1159.5" rx="3.1" ry="1.8" fill="#24b024" filter="url(#blur1)" transform="rotate(21 626.7 1159.5)"/>
<ellipse cx="629.4" cy="1129.6" rx="2.3" ry="1.3" fill="#1e9a1e" filter="url(#blur1)" transform="rotate(23 629.4 1129.6)"/>
<ellipse cx="607.8" cy="1112.6" rx="3.1" ry="1.8" fill="#1e9a1e" filter="url(#blur1)" transform="rotate(26 607.8 1112.6)"/>
<ellipse cx="641.2" cy="1135.3" rx="2.5" ry="1.5" fill="#1e9a1e" filter="url(#blur1)" transform="rotate(-12 641.2 1135.3)"/>
<ellipse cx="575.2" cy="1103.5" rx="2.9" ry="1.7" fill="#2cc82c" filter="url(#blur1)" transform="rotate(19 575.2 1103.5)"/>
<ellipse cx="618.9" cy="1173.4" rx="1.9" ry="1.1" fill="#38dc38" filter="url(#blur1)" transform="rotate(3 618.9 1173.4)"/>
<ellipse cx="667.8" cy="1113.2" rx="3.2" ry="1.9" fill="#2cc82c" filter="url(#blur1)" transform="rotate(-29 667.8 1113.2)"/>
<ellipse cx="607.7" cy="1082.9" rx="2.3" ry="1.3" fill="#2cc82c" filter="url(#blur1)" transform="rotate(-32 607.7 1082.9)"/>
<ellipse cx="632.0" cy="1130.0" rx="2.5" ry="1.5" fill="#1e9a1e" filter="url(#blur1)" transform="rotate(30 632.0 1130.0)"/>
<ellipse cx="632.1" cy="1107.6" rx="2.1" ry="1.3" fill="#2cc82c" filter="url(#blur1)" transform="rotate(-32 632.1 1107.6)"/>
<ellipse cx="629.1" cy="1154.1" rx="2.3" ry="1.3" fill="#1e9a1e" filter="url(#blur1)" transform="rotate(49 629.1 1154.1)"/>
<ellipse cx="641.9" cy="1118.1" rx="2.8" ry="1.7" fill="#24b024" filter="url(#blur1)" transform="rotate(26 641.9 1118.1)"/>
<ellipse cx="648.1" cy="1127.2" rx="2.1" ry="1.2" fill="#24b024" filter="url(#blur1)" transform="rotate(12 648.1 1127.2)"/>
<ellipse cx="637.4" cy="1131.9" rx="2.0" ry="1.2" fill="#38dc38" filter="url(#blur1)" transform="rotate(20 637.4 1131.9)"/>
<ellipse cx="640.9" cy="1111.0" rx="1.9" ry="1.1" fill="#1e9a1e" filter="url(#blur1)" transform="rotate(42 640.9 1111.0)"/>
<ellipse cx="642.0" cy="1165.4" rx="2.2" ry="1.3" fill="#1e9a1e" filter="url(#blur1)" transform="rotate(-4 642.0 1165.4)"/>
<ellipse cx="599.3" cy="1122.5" rx="3.2" ry="1.9" fill="#38dc38" filter="url(#blur1)" transform="rotate(23 599.3 1122.5)"/>
<ellipse cx="651.5" cy="1134.3" rx="3.4" ry="2.0" fill="#24b024" filter="url(#blur1)" transform="rotate(12 651.5 1134.3)"/>
<ellipse cx="563.7" cy="1167.2" rx="3.4" ry="2.0" fill="#2cc82c" filter="url(#blur1)" transform="rotate(-19 563.7 1167.2)"/>
<ellipse cx="653.2" cy="1098.0" rx="2.6" ry="1.5" fill="#38dc38" filter="url(#blur1)" transform="rotate(37 653.2 1098.0)"/>
<ellipse cx="602.7" cy="1104.3" rx="2.6" ry="1.5" fill="#38dc38" filter="url(#blur1)" transform="rotate(42 602.7 1104.3)"/>
<ellipse cx="634.7" cy="1173.6" rx="2.7" ry="1.6" fill="#38dc38" filter="url(#blur1)" transform="rotate(46 634.7 1173.6)"/>
<ellipse cx="659.8" cy="1100.7" rx="2.8" ry="1.7" fill="#2cc82c" filter="url(#blur1)" transform="rotate(43 659.8 1100.7)"/>
<ellipse cx="632.6" cy="1158.3" rx="2.2" ry="1.3" fill="#2cc82c" filter="url(#blur1)" transform="rotate(42 632.6 1158.3)"/>
<ellipse cx="599.3" cy="1156.3" rx="1.9" ry="1.1" fill="#38dc38" filter="url(#blur1)" transform="rotate(38 599.3 1156.3)"/>
<ellipse cx="636.0" cy="1143.1" rx="3.4" ry="2.0" fill="#24b024" filter="url(#blur1)" transform="rotate(12 636.0 1143.1)"/>
<ellipse cx="655.7" cy="1144.7" rx="3.4" ry="2.0" fill="#38dc38" filter="url(#blur1)" transform="rotate(10 655.7 1144.7)"/>
<ellipse cx="582.0" cy="1123.8" rx="2.7" ry="1.6" fill="#1e9a1e" filter="url(#blur1)" transform="rotate(27 582.0 1123.8)"/>
<ellipse cx="613.4" cy="1088.6" rx="2.0" ry="1.2" fill="#2cc82c" filter="url(#blur1)" transform="rotate(-16 613.4 1088.6)"/>
<ellipse cx="582.6" cy="1160.3" rx="2.4" ry="1.4" fill="#24b024" filter="url(#blur1)" transform="rotate(18 582.6 1160.3)"/>
<ellipse cx="596.4" cy="1093.5" rx="3.2" ry="1.9" fill="#38dc38" filter="url(#blur1)" transform="rotate(39 596.4 1093.5)"/>
<ellipse cx="562.4" cy="1079.6" rx="3.2" ry="1.9" fill="#2cc82c" filter="url(#blur1)" transform="rotate(1 562.4 1079.6)"/>
<ellipse cx="663.9" cy="1148.9" rx="2.1" ry="1.3" fill="#38dc38" filter="url(#blur1)" transform="rotate(2 663.9 1148.9)"/>
</g>
<rect x="643.20" y="1181.00" width="18.50" height="3.00" fill="#fff"/>
<clipPath id="cf11"><rect x="672.10" y="1078.00" width="114.60" height="114.50"/></clipPath>
<rect x="672.10" y="1078.00" width="114.60" height="114.50" fill="#0d0101"/>
<g clip-path="url(#cf11)">
<circle cx="723.94" cy="1142.09" r="2.91" fill="#5a1212" opacity="0.8" filter="url(#blur1)"/>
<circle cx="725.46" cy="1136.15" r="2.50" fill="#5a1212" opacity="0.8" filter="url(#blur1)"/>
<circle cx="693.26" cy="1136.61" r="2.56" fill="#5a1212" opacity="0.8" filter="url(#blur1)"/>
<circle cx="762.98" cy="1088.78" r="2.16" fill="#5a1212" opacity="0.8" filter="url(#blur1)"/>
<circle cx="682.49" cy="1170.70" r="2.63" fill="#5a1212" opacity="0.8" filter="url(#blur1)"/>
<circle cx="676.90" cy="1190.46" r="2.96" fill="#5a1212" opacity="0.8" filter="url(#blur1)"/>
<circle cx="747.04" cy="1148.48" r="1.99" fill="#5a1212" opacity="0.8" filter="url(#blur1)"/>
<circle cx="673.82" cy="1138.50" r="1.87" fill="#5a1212" opacity="0.8" filter="url(#blur1)"/>
<circle cx="693.90" cy="1105.70" r="1.84" fill="#5a1212" opacity="0.8" filter="url(#blur1)"/>
<circle cx="725.27" cy="1128.44" r="2.81" fill="#5a1212" opacity="0.8" filter="url(#blur1)"/>
<circle cx="731.59" cy="1151.31" r="2.40" fill="#5a1212" opacity="0.8" filter="url(#blur1)"/>
<circle cx="748.02" cy="1130.36" r="2.13" fill="#5a1212" opacity="0.8" filter="url(#blur1)"/>
<circle cx="786.43" cy="1192.01" r="2.81" fill="#5a1212" opacity="0.8" filter="url(#blur1)"/>
<circle cx="753.21" cy="1114.10" r="2.08" fill="#5a1212" opacity="0.8" filter="url(#blur1)"/>
<circle cx="705.22" cy="1086.04" r="2.72" fill="#5a1212" opacity="0.8" filter="url(#blur1)"/>
<circle cx="717.99" cy="1174.93" r="2.26" fill="#5a1212" opacity="0.8" filter="url(#blur1)"/>
<circle cx="781.89" cy="1175.02" r="1.80" fill="#5a1212" opacity="0.8" filter="url(#blur1)"/>
<circle cx="696.13" cy="1182.23" r="2.36" fill="#5a1212" opacity="0.8" filter="url(#blur1)"/>
<circle cx="784.45" cy="1123.51" r="1.89" fill="#5a1212" opacity="0.8" filter="url(#blur1)"/>
<circle cx="744.24" cy="1167.14" r="2.12" fill="#5a1212" opacity="0.8" filter="url(#blur1)"/>
<circle cx="682.09" cy="1116.08" r="2.96" fill="#5a1212" opacity="0.8" filter="url(#blur1)"/>
<circle cx="758.97" cy="1091.51" r="2.10" fill="#5a1212" opacity="0.8" filter="url(#blur1)"/>
<circle cx="683.68" cy="1084.86" r="2.60" fill="#d01c1c" filter="url(#blur1)"/>
<circle cx="750.27" cy="1099.57" r="2.31" fill="#d01c1c" filter="url(#blur1)"/>
<circle cx="720.14" cy="1121.94" r="2.19" fill="#d01c1c" filter="url(#blur1)"/>
<circle cx="672.15" cy="1176.97" r="2.77" fill="#f03030" filter="url(#blur1)"/>
<circle cx="786.46" cy="1080.25" r="1.99" fill="#e02222" filter="url(#blur1)"/>
<circle cx="676.93" cy="1094.76" r="2.24" fill="#e02222" filter="url(#blur1)"/>
<circle cx="760.65" cy="1115.67" r="2.10" fill="#e02222" filter="url(#blur1)"/>
<circle cx="680.61" cy="1101.90" r="2.44" fill="#e02222" filter="url(#blur1)"/>
<circle cx="741.01" cy="1120.56" r="2.25" fill="#b81818" filter="url(#blur1)"/>
<circle cx="767.49" cy="1093.54" r="2.19" fill="#d01c1c" filter="url(#blur1)"/>
<circle cx="707.72" cy="1104.15" r="2.41" fill="#d01c1c" filter="url(#blur1)"/>
<circle cx="690.26" cy="1150.02" r="2.35" fill="#b81818" filter="url(#blur1)"/>
<circle cx="773.20" cy="1147.10" r="2.22" fill="#e02222" filter="url(#blur1)"/>
</g>
<rect x="761.20" y="1181.00" width="18.50" height="3.00" fill="#fff"/>
<clipPath id="cf12"><rect x="790.20" y="1078.00" width="114.20" height="114.50"/></clipPath>
<rect x="790.20" y="1078.00" width="114.20" height="114.50" fill="#0a1f08"/>
<g clip-path="url(#cf12)">
<ellipse cx="844.4" cy="1153.3" rx="4.3" ry="3.3" fill="#1a5a1a" opacity="0.5" filter="url(#blur2)"/>
<ellipse cx="806.5" cy="1079.2" rx="3.6" ry="2.7" fill="#1a5a1a" opacity="0.5" filter="url(#blur2)"/>
<ellipse cx="821.5" cy="1170.8" rx="4.4" ry="3.4" fill="#1a5a1a" opacity="0.5" filter="url(#blur2)"/>
<ellipse cx="858.9" cy="1141.9" rx="4.3" ry="3.3" fill="#1a5a1a" opacity="0.5" filter="url(#blur2)"/>
<ellipse cx="806.8" cy="1128.4" rx="3.0" ry="2.3" fill="#1a5a1a" opacity="0.5" filter="url(#blur2)"/>
<ellipse cx="893.7" cy="1084.7" rx="4.7" ry="3.6" fill="#1a5a1a" opacity="0.5" filter="url(#blur2)"/>
<ellipse cx="798.7" cy="1156.7" rx="3.5" ry="2.7" fill="#1a5a1a" opacity="0.5" filter="url(#blur2)"/>
<ellipse cx="836.4" cy="1174.5" rx="2.6" ry="2.0" fill="#1a5a1a" opacity="0.5" filter="url(#blur2)"/>
<ellipse cx="797.1" cy="1182.8" rx="3.9" ry="3.0" fill="#1a5a1a" opacity="0.5" filter="url(#blur2)"/>
<ellipse cx="800.6" cy="1191.0" rx="5.1" ry="3.9" fill="#1a5a1a" opacity="0.5" filter="url(#blur2)"/>
<ellipse cx="803.1" cy="1126.5" rx="3.0" ry="2.3" fill="#1a5a1a" opacity="0.5" filter="url(#blur2)"/>
<ellipse cx="825.9" cy="1149.2" rx="3.0" ry="2.3" fill="#1a5a1a" opacity="0.5" filter="url(#blur2)"/>
<ellipse cx="869.8" cy="1083.9" rx="3.0" ry="2.3" fill="#1a5a1a" opacity="0.5" filter="url(#blur2)"/>
<ellipse cx="883.4" cy="1123.9" rx="3.7" ry="2.8" fill="#1a5a1a" opacity="0.5" filter="url(#blur2)"/>
<ellipse cx="858.3" cy="1132.6" rx="3.6" ry="2.8" fill="#1a5a1a" opacity="0.5" filter="url(#blur2)"/>
<ellipse cx="793.7" cy="1161.2" rx="5.1" ry="3.9" fill="#1a5a1a" opacity="0.5" filter="url(#blur2)"/>
<ellipse cx="901.7" cy="1154.0" rx="3.5" ry="2.7" fill="#1a5a1a" opacity="0.5" filter="url(#blur2)"/>
<ellipse cx="831.7" cy="1157.0" rx="4.4" ry="3.3" fill="#1a5a1a" opacity="0.5" filter="url(#blur2)"/>
<ellipse cx="803.2" cy="1104.9" rx="3.5" ry="2.7" fill="#1a5a1a" opacity="0.5" filter="url(#blur2)"/>
<ellipse cx="848.6" cy="1170.8" rx="3.9" ry="3.0" fill="#1a5a1a" opacity="0.5" filter="url(#blur2)"/>
<ellipse cx="793.4" cy="1172.2" rx="3.7" ry="2.9" fill="#1a5a1a" opacity="0.5" filter="url(#blur2)"/>
<ellipse cx="849.5" cy="1103.4" rx="3.7" ry="2.9" fill="#1a5a1a" opacity="0.5" filter="url(#blur2)"/>
<ellipse cx="834.5" cy="1166.4" rx="2.9" ry="2.2" fill="#1a5a1a" opacity="0.5" filter="url(#blur2)"/>
<ellipse cx="853.0" cy="1098.4" rx="4.4" ry="3.4" fill="#1a5a1a" opacity="0.5" filter="url(#blur2)"/>
<ellipse cx="794.4" cy="1109.7" rx="3.5" ry="2.7" fill="#1a5a1a" opacity="0.5" filter="url(#blur2)"/>
<ellipse cx="862.9" cy="1084.0" rx="3.8" ry="2.9" fill="#1a5a1a" opacity="0.5" filter="url(#blur2)"/>
<ellipse cx="814.0" cy="1110.3" rx="3.8" ry="3.0" fill="#1a5a1a" opacity="0.5" filter="url(#blur2)"/>
<ellipse cx="899.7" cy="1133.1" rx="5.1" ry="3.9" fill="#1a5a1a" opacity="0.5" filter="url(#blur2)"/>
<ellipse cx="809.3" cy="1183.8" rx="3.5" ry="2.7" fill="#1a5a1a" opacity="0.5" filter="url(#blur2)"/>
<ellipse cx="811.8" cy="1163.7" rx="5.0" ry="3.8" fill="#1a5a1a" opacity="0.5" filter="url(#blur2)"/>
<ellipse cx="791.0" cy="1108.7" rx="4.6" ry="3.5" fill="#1a5a1a" opacity="0.5" filter="url(#blur2)"/>
<ellipse cx="829.2" cy="1105.7" rx="2.6" ry="2.0" fill="#1a5a1a" opacity="0.5" filter="url(#blur2)"/>
<ellipse cx="794.8" cy="1148.9" rx="5.2" ry="4.0" fill="#1a5a1a" opacity="0.5" filter="url(#blur2)"/>
<ellipse cx="904.2" cy="1135.7" rx="2.7" ry="2.0" fill="#1a5a1a" opacity="0.5" filter="url(#blur2)"/>
<ellipse cx="827.0" cy="1168.2" rx="4.8" ry="3.7" fill="#1a5a1a" opacity="0.5" filter="url(#blur2)"/>
<ellipse cx="863.2" cy="1104.3" rx="4.0" ry="3.1" fill="#1a5a1a" opacity="0.5" filter="url(#blur2)"/>
<ellipse cx="844.7" cy="1149.8" rx="3.3" ry="2.5" fill="#1a5a1a" opacity="0.5" filter="url(#blur2)"/>
<ellipse cx="898.3" cy="1180.4" rx="3.0" ry="2.3" fill="#1a5a1a" opacity="0.5" filter="url(#blur2)"/>
<ellipse cx="823.5" cy="1178.0" rx="3.3" ry="2.6" fill="#1a5a1a" opacity="0.5" filter="url(#blur2)"/>
<ellipse cx="898.0" cy="1137.0" rx="4.4" ry="3.4" fill="#1a5a1a" opacity="0.5" filter="url(#blur2)"/>
<ellipse cx="870.7" cy="1102.5" rx="3.3" ry="2.6" fill="#1a5a1a" opacity="0.5" filter="url(#blur2)"/>
<ellipse cx="819.3" cy="1156.2" rx="4.4" ry="3.4" fill="#1a5a1a" opacity="0.5" filter="url(#blur2)"/>
<ellipse cx="805.2" cy="1179.5" rx="3.7" ry="2.8" fill="#1a5a1a" opacity="0.5" filter="url(#blur2)"/>
<ellipse cx="817.7" cy="1127.8" rx="5.1" ry="4.0" fill="#1a5a1a" opacity="0.5" filter="url(#blur2)"/>
<ellipse cx="854.1" cy="1149.5" rx="5.0" ry="3.8" fill="#1a5a1a" opacity="0.5" filter="url(#blur2)"/>
<ellipse cx="900.1" cy="1165.1" rx="3.7" ry="2.8" fill="#1a5a1a" opacity="0.5" filter="url(#blur2)"/>
<ellipse cx="857.4" cy="1181.2" rx="4.7" ry="3.6" fill="#1a5a1a" opacity="0.5" filter="url(#blur2)"/>
<ellipse cx="856.5" cy="1117.8" rx="3.6" ry="2.7" fill="#1a5a1a" opacity="0.5" filter="url(#blur2)"/>
<ellipse cx="874.2" cy="1142.5" rx="2.6" ry="2.0" fill="#1a5a1a" opacity="0.5" filter="url(#blur2)"/>
<ellipse cx="871.3" cy="1181.5" rx="4.7" ry="3.6" fill="#1a5a1a" opacity="0.5" filter="url(#blur2)"/>
<ellipse cx="892.7" cy="1182.3" rx="4.0" ry="3.1" fill="#1a5a1a" opacity="0.5" filter="url(#blur2)"/>
<ellipse cx="880.3" cy="1121.4" rx="2.9" ry="2.2" fill="#1a5a1a" opacity="0.5" filter="url(#blur2)"/>
<ellipse cx="830.5" cy="1113.7" rx="5.0" ry="3.9" fill="#1a5a1a" opacity="0.5" filter="url(#blur2)"/>
<ellipse cx="868.9" cy="1140.0" rx="4.2" ry="3.2" fill="#1a5a1a" opacity="0.5" filter="url(#blur2)"/>
<ellipse cx="804.4" cy="1139.2" rx="4.4" ry="3.4" fill="#1a5a1a" opacity="0.5" filter="url(#blur2)"/>
<ellipse cx="835.2" cy="1106.1" rx="3.7" ry="2.8" fill="#1a5a1a" opacity="0.5" filter="url(#blur2)"/>
<ellipse cx="827.2" cy="1156.5" rx="3.0" ry="2.3" fill="#1a5a1a" opacity="0.5" filter="url(#blur2)"/>
<ellipse cx="800.5" cy="1113.8" rx="4.4" ry="3.4" fill="#1a5a1a" opacity="0.5" filter="url(#blur2)"/>
<ellipse cx="876.9" cy="1153.5" rx="5.0" ry="3.9" fill="#1a5a1a" opacity="0.5" filter="url(#blur2)"/>
<ellipse cx="832.0" cy="1081.4" rx="3.9" ry="3.0" fill="#1a5a1a" opacity="0.5" filter="url(#blur2)"/>
<circle cx="840.87" cy="1098.54" r="1.00" fill="#30b030" opacity="0.9" filter="url(#blur1)"/>
<circle cx="842.38" cy="1179.25" r="0.66" fill="#2a9a2a" opacity="0.9" filter="url(#blur1)"/>
<circle cx="791.08" cy="1119.26" r="0.77" fill="#2a9a2a" opacity="0.9" filter="url(#blur1)"/>
<circle cx="868.82" cy="1111.90" r="0.91" fill="#2a9a2a" opacity="0.9" filter="url(#blur1)"/>
<circle cx="847.42" cy="1157.93" r="0.70" fill="#30b030" opacity="0.9" filter="url(#blur1)"/>
<circle cx="834.61" cy="1135.35" r="1.02" fill="#30b030" opacity="0.9" filter="url(#blur1)"/>
<circle cx="842.69" cy="1175.88" r="1.10" fill="#2a9a2a" opacity="0.9" filter="url(#blur1)"/>
<circle cx="836.74" cy="1158.02" r="1.08" fill="#228a22" opacity="0.9" filter="url(#blur1)"/>
<circle cx="867.10" cy="1153.94" r="1.18" fill="#228a22" opacity="0.9" filter="url(#blur1)"/>
<circle cx="855.34" cy="1113.73" r="1.06" fill="#2a9a2a" opacity="0.9" filter="url(#blur1)"/>
<circle cx="827.00" cy="1135.24" r="0.82" fill="#30b030" opacity="0.9" filter="url(#blur1)"/>
<circle cx="809.65" cy="1132.62" r="1.08" fill="#2a9a2a" opacity="0.9" filter="url(#blur1)"/>
<circle cx="818.96" cy="1083.26" r="1.08" fill="#30b030" opacity="0.9" filter="url(#blur1)"/>
<circle cx="836.85" cy="1149.85" r="0.77" fill="#228a22" opacity="0.9" filter="url(#blur1)"/>
<circle cx="826.85" cy="1092.41" r="0.98" fill="#228a22" opacity="0.9" filter="url(#blur1)"/>
<circle cx="859.69" cy="1167.81" r="0.85" fill="#228a22" opacity="0.9" filter="url(#blur1)"/>
<circle cx="865.40" cy="1116.91" r="1.06" fill="#30b030" opacity="0.9" filter="url(#blur1)"/>
<circle cx="834.13" cy="1123.75" r="1.08" fill="#2a9a2a" opacity="0.9" filter="url(#blur1)"/>
<circle cx="880.28" cy="1173.69" r="0.67" fill="#30b030" opacity="0.9" filter="url(#blur1)"/>
<circle cx="849.90" cy="1084.06" r="1.10" fill="#228a22" opacity="0.9" filter="url(#blur1)"/>
<circle cx="883.98" cy="1119.08" r="1.04" fill="#30b030" opacity="0.9" filter="url(#blur1)"/>
<circle cx="878.23" cy="1176.35" r="0.79" fill="#2a9a2a" opacity="0.9" filter="url(#blur1)"/>
<circle cx="875.74" cy="1176.42" r="0.93" fill="#2a9a2a" opacity="0.9" filter="url(#blur1)"/>
<circle cx="791.68" cy="1097.58" r="0.70" fill="#228a22" opacity="0.9" filter="url(#blur1)"/>
<circle cx="882.55" cy="1184.14" r="1.19" fill="#30b030" opacity="0.9" filter="url(#blur1)"/>
<circle cx="852.57" cy="1080.49" r="1.15" fill="#30b030" opacity="0.9" filter="url(#blur1)"/>
<circle cx="868.43" cy="1139.40" r="0.87" fill="#228a22" opacity="0.9" filter="url(#blur1)"/>
<circle cx="790.91" cy="1092.50" r="0.84" fill="#30b030" opacity="0.9" filter="url(#blur1)"/>
<circle cx="862.78" cy="1131.50" r="0.98" fill="#30b030" opacity="0.9" filter="url(#blur1)"/>
<circle cx="887.59" cy="1180.22" r="0.62" fill="#30b030" opacity="0.9" filter="url(#blur1)"/>
<circle cx="792.55" cy="1095.75" r="1.05" fill="#30b030" opacity="0.9" filter="url(#blur1)"/>
<circle cx="869.04" cy="1187.50" r="1.01" fill="#30b030" opacity="0.9" filter="url(#blur1)"/>
<circle cx="852.87" cy="1188.22" r="0.82" fill="#2a9a2a" opacity="0.9" filter="url(#blur1)"/>
<circle cx="886.02" cy="1092.81" r="0.64" fill="#2a9a2a" opacity="0.9" filter="url(#blur1)"/>
<circle cx="838.51" cy="1170.27" r="1.10" fill="#2a9a2a" opacity="0.9" filter="url(#blur1)"/>
<circle cx="793.74" cy="1156.62" r="0.94" fill="#228a22" opacity="0.9" filter="url(#blur1)"/>
<circle cx="899.89" cy="1163.50" r="1.17" fill="#2a9a2a" opacity="0.9" filter="url(#blur1)"/>
<circle cx="857.94" cy="1145.22" r="1.08" fill="#228a22" opacity="0.9" filter="url(#blur1)"/>
<circle cx="813.79" cy="1164.65" r="0.85" fill="#228a22" opacity="0.9" filter="url(#blur1)"/>
<circle cx="885.04" cy="1169.61" r="0.83" fill="#228a22" opacity="0.9" filter="url(#blur1)"/>
<circle cx="859.50" cy="1187.09" r="1.19" fill="#228a22" opacity="0.9" filter="url(#blur1)"/>
<circle cx="896.80" cy="1119.48" r="0.78" fill="#30b030" opacity="0.9" filter="url(#blur1)"/>
<circle cx="858.73" cy="1154.61" r="0.61" fill="#2a9a2a" opacity="0.9" filter="url(#blur1)"/>
<circle cx="804.27" cy="1127.91" r="0.80" fill="#30b030" opacity="0.9" filter="url(#blur1)"/>
<circle cx="876.68" cy="1116.90" r="0.83" fill="#30b030" opacity="0.9" filter="url(#blur1)"/>
<circle cx="829.32" cy="1179.84" r="0.98" fill="#228a22" opacity="0.9" filter="url(#blur1)"/>
<circle cx="831.50" cy="1104.39" r="0.83" fill="#228a22" opacity="0.9" filter="url(#blur1)"/>
<circle cx="854.66" cy="1174.01" r="1.00" fill="#30b030" opacity="0.9" filter="url(#blur1)"/>
<circle cx="875.27" cy="1106.87" r="0.85" fill="#2a9a2a" opacity="0.9" filter="url(#blur1)"/>
<circle cx="803.82" cy="1145.20" r="0.90" fill="#30b030" opacity="0.9" filter="url(#blur1)"/>
<circle cx="852.79" cy="1146.23" r="0.95" fill="#30b030" opacity="0.9" filter="url(#blur1)"/>
<circle cx="828.54" cy="1120.86" r="1.14" fill="#30b030" opacity="0.9" filter="url(#blur1)"/>
<circle cx="897.95" cy="1146.50" r="0.64" fill="#228a22" opacity="0.9" filter="url(#blur1)"/>
<circle cx="835.85" cy="1101.47" r="0.79" fill="#30b030" opacity="0.9" filter="url(#blur1)"/>
<circle cx="860.55" cy="1176.28" r="0.69" fill="#30b030" opacity="0.9" filter="url(#blur1)"/>
<circle cx="828.16" cy="1153.29" r="0.84" fill="#228a22" opacity="0.9" filter="url(#blur1)"/>
<circle cx="827.73" cy="1139.53" r="1.10" fill="#228a22" opacity="0.9" filter="url(#blur1)"/>
<circle cx="801.75" cy="1106.65" r="1.09" fill="#2a9a2a" opacity="0.9" filter="url(#blur1)"/>
<circle cx="867.14" cy="1097.65" r="0.86" fill="#30b030" opacity="0.9" filter="url(#blur1)"/>
<circle cx="797.87" cy="1156.75" r="0.71" fill="#30b030" opacity="0.9" filter="url(#blur1)"/>
<circle cx="863.07" cy="1150.96" r="0.95" fill="#30b030" opacity="0.9" filter="url(#blur1)"/>
<circle cx="875.11" cy="1113.51" r="0.68" fill="#30b030" opacity="0.9" filter="url(#blur1)"/>
<circle cx="834.94" cy="1131.28" r="0.82" fill="#228a22" opacity="0.9" filter="url(#blur1)"/>
<circle cx="893.32" cy="1100.50" r="0.95" fill="#228a22" opacity="0.9" filter="url(#blur1)"/>
<circle cx="845.58" cy="1153.48" r="1.03" fill="#228a22" opacity="0.9" filter="url(#blur1)"/>
<circle cx="828.98" cy="1123.68" r="0.68" fill="#2a9a2a" opacity="0.9" filter="url(#blur1)"/>
<circle cx="891.88" cy="1168.44" r="0.83" fill="#30b030" opacity="0.9" filter="url(#blur1)"/>
<circle cx="893.26" cy="1095.35" r="1.10" fill="#30b030" opacity="0.9" filter="url(#blur1)"/>
<circle cx="856.11" cy="1098.53" r="0.85" fill="#2a9a2a" opacity="0.9" filter="url(#blur1)"/>
<circle cx="806.44" cy="1129.87" r="0.92" fill="#2a9a2a" opacity="0.9" filter="url(#blur1)"/>
<circle cx="808.30" cy="1091.95" r="1.10" fill="#30b030" opacity="0.9" filter="url(#blur1)"/>
<circle cx="848.69" cy="1113.20" r="0.66" fill="#2a9a2a" opacity="0.9" filter="url(#blur1)"/>
<circle cx="806.89" cy="1104.11" r="1.12" fill="#30b030" opacity="0.9" filter="url(#blur1)"/>
<circle cx="896.61" cy="1138.50" r="0.82" fill="#2a9a2a" opacity="0.9" filter="url(#blur1)"/>
<circle cx="804.57" cy="1101.74" r="1.11" fill="#2a9a2a" opacity="0.9" filter="url(#blur1)"/>
<circle cx="880.58" cy="1107.85" r="0.92" fill="#30b030" opacity="0.9" filter="url(#blur1)"/>
<circle cx="802.60" cy="1148.69" r="0.71" fill="#228a22" opacity="0.9" filter="url(#blur1)"/>
<circle cx="886.04" cy="1151.75" r="0.86" fill="#2a9a2a" opacity="0.9" filter="url(#blur1)"/>
<circle cx="903.38" cy="1121.98" r="1.10" fill="#2a9a2a" opacity="0.9" filter="url(#blur1)"/>
<circle cx="799.07" cy="1183.37" r="0.91" fill="#228a22" opacity="0.9" filter="url(#blur1)"/>
<circle cx="880.26" cy="1189.23" r="1.05" fill="#30b030" opacity="0.9" filter="url(#blur1)"/>
<circle cx="852.32" cy="1174.99" r="0.82" fill="#2a9a2a" opacity="0.9" filter="url(#blur1)"/>
<circle cx="792.98" cy="1169.16" r="0.92" fill="#228a22" opacity="0.9" filter="url(#blur1)"/>
<circle cx="821.83" cy="1113.68" r="0.78" fill="#30b030" opacity="0.9" filter="url(#blur1)"/>
<circle cx="881.52" cy="1163.50" r="0.91" fill="#228a22" opacity="0.9" filter="url(#blur1)"/>
<circle cx="867.54" cy="1177.52" r="0.99" fill="#30b030" opacity="0.9" filter="url(#blur1)"/>
<circle cx="869.27" cy="1117.69" r="0.99" fill="#2a9a2a" opacity="0.9" filter="url(#blur1)"/>
<circle cx="803.31" cy="1170.48" r="0.64" fill="#2a9a2a" opacity="0.9" filter="url(#blur1)"/>
<circle cx="805.51" cy="1188.63" r="0.92" fill="#2a9a2a" opacity="0.9" filter="url(#blur1)"/>
<circle cx="852.81" cy="1180.74" r="0.81" fill="#2a9a2a" opacity="0.9" filter="url(#blur1)"/>
<ellipse cx="885.2" cy="1080.2" rx="2.1" ry="1.2" fill="#1e9a1e" filter="url(#blur1)" transform="rotate(22 885.2 1080.2)"/>
<ellipse cx="842.2" cy="1115.3" rx="2.2" ry="1.3" fill="#24b024" filter="url(#blur1)" transform="rotate(46 842.2 1115.3)"/>
<ellipse cx="791.4" cy="1127.5" rx="3.2" ry="1.9" fill="#38dc38" filter="url(#blur1)" transform="rotate(-29 791.4 1127.5)"/>
<ellipse cx="899.2" cy="1184.7" rx="2.5" ry="1.5" fill="#24b024" filter="url(#blur1)" transform="rotate(-38 899.2 1184.7)"/>
<ellipse cx="860.2" cy="1120.6" rx="2.5" ry="1.5" fill="#2cc82c" filter="url(#blur1)" transform="rotate(22 860.2 1120.6)"/>
<ellipse cx="824.8" cy="1177.8" rx="2.9" ry="1.7" fill="#2cc82c" filter="url(#blur1)" transform="rotate(-12 824.8 1177.8)"/>
<ellipse cx="861.4" cy="1142.0" rx="2.1" ry="1.2" fill="#2cc82c" filter="url(#blur1)" transform="rotate(-10 861.4 1142.0)"/>
<ellipse cx="817.5" cy="1140.4" rx="3.2" ry="1.9" fill="#38dc38" filter="url(#blur1)" transform="rotate(-35 817.5 1140.4)"/>
<ellipse cx="800.2" cy="1187.8" rx="2.9" ry="1.7" fill="#1e9a1e" filter="url(#blur1)" transform="rotate(36 800.2 1187.8)"/>
<ellipse cx="829.1" cy="1108.6" rx="1.9" ry="1.1" fill="#38dc38" filter="url(#blur1)" transform="rotate(-3 829.1 1108.6)"/>
<ellipse cx="826.4" cy="1083.9" rx="3.5" ry="2.1" fill="#24b024" filter="url(#blur1)" transform="rotate(34 826.4 1083.9)"/>
<ellipse cx="869.0" cy="1181.2" rx="3.3" ry="2.0" fill="#2cc82c" filter="url(#blur1)" transform="rotate(-38 869.0 1181.2)"/>
<ellipse cx="866.6" cy="1134.5" rx="3.2" ry="1.9" fill="#38dc38" filter="url(#blur1)" transform="rotate(15 866.6 1134.5)"/>
<ellipse cx="813.3" cy="1181.6" rx="2.8" ry="1.6" fill="#1e9a1e" filter="url(#blur1)" transform="rotate(40 813.3 1181.6)"/>
<ellipse cx="828.6" cy="1099.9" rx="3.4" ry="2.0" fill="#38dc38" filter="url(#blur1)" transform="rotate(25 828.6 1099.9)"/>
<ellipse cx="868.1" cy="1138.7" rx="3.1" ry="1.8" fill="#38dc38" filter="url(#blur1)" transform="rotate(-36 868.1 1138.7)"/>
<ellipse cx="813.2" cy="1125.1" rx="2.2" ry="1.3" fill="#2cc82c" filter="url(#blur1)" transform="rotate(-9 813.2 1125.1)"/>
<ellipse cx="843.8" cy="1183.7" rx="2.6" ry="1.6" fill="#2cc82c" filter="url(#blur1)" transform="rotate(5 843.8 1183.7)"/>
<ellipse cx="865.0" cy="1182.0" rx="2.2" ry="1.3" fill="#38dc38" filter="url(#blur1)" transform="rotate(33 865.0 1182.0)"/>
<ellipse cx="856.1" cy="1087.6" rx="3.1" ry="1.8" fill="#24b024" filter="url(#blur1)" transform="rotate(30 856.1 1087.6)"/>
<ellipse cx="857.2" cy="1097.5" rx="2.3" ry="1.3" fill="#1e9a1e" filter="url(#blur1)" transform="rotate(44 857.2 1097.5)"/>
<ellipse cx="891.8" cy="1096.2" rx="2.0" ry="1.2" fill="#1e9a1e" filter="url(#blur1)" transform="rotate(27 891.8 1096.2)"/>
<ellipse cx="903.8" cy="1142.3" rx="2.3" ry="1.3" fill="#1e9a1e" filter="url(#blur1)" transform="rotate(-32 903.8 1142.3)"/>
<ellipse cx="892.2" cy="1137.1" rx="2.9" ry="1.7" fill="#24b024" filter="url(#blur1)" transform="rotate(-18 892.2 1137.1)"/>
<ellipse cx="799.2" cy="1096.7" rx="2.3" ry="1.4" fill="#2cc82c" filter="url(#blur1)" transform="rotate(4 799.2 1096.7)"/>
<ellipse cx="858.8" cy="1129.6" rx="2.8" ry="1.6" fill="#38dc38" filter="url(#blur1)" transform="rotate(30 858.8 1129.6)"/>
<ellipse cx="839.9" cy="1176.8" rx="2.2" ry="1.3" fill="#2cc82c" filter="url(#blur1)" transform="rotate(36 839.9 1176.8)"/>
<ellipse cx="893.8" cy="1079.0" rx="3.1" ry="1.8" fill="#38dc38" filter="url(#blur1)" transform="rotate(1 893.8 1079.0)"/>
<ellipse cx="824.3" cy="1101.8" rx="2.6" ry="1.5" fill="#2cc82c" filter="url(#blur1)" transform="rotate(15 824.3 1101.8)"/>
<ellipse cx="810.3" cy="1111.8" rx="3.2" ry="1.9" fill="#1e9a1e" filter="url(#blur1)" transform="rotate(-47 810.3 1111.8)"/>
<ellipse cx="886.4" cy="1190.0" rx="1.9" ry="1.1" fill="#2cc82c" filter="url(#blur1)" transform="rotate(-40 886.4 1190.0)"/>
<ellipse cx="791.3" cy="1165.0" rx="2.5" ry="1.5" fill="#24b024" filter="url(#blur1)" transform="rotate(42 791.3 1165.0)"/>
<ellipse cx="831.1" cy="1183.0" rx="2.9" ry="1.7" fill="#1e9a1e" filter="url(#blur1)" transform="rotate(26 831.1 1183.0)"/>
<circle cx="881.24" cy="1089.06" r="2.64" fill="#5a1212" opacity="0.8" filter="url(#blur1)"/>
<circle cx="884.27" cy="1167.68" r="2.25" fill="#5a1212" opacity="0.8" filter="url(#blur1)"/>
<circle cx="822.18" cy="1119.42" r="1.93" fill="#5a1212" opacity="0.8" filter="url(#blur1)"/>
<circle cx="827.63" cy="1104.37" r="2.19" fill="#5a1212" opacity="0.8" filter="url(#blur1)"/>
<circle cx="897.30" cy="1167.04" r="2.37" fill="#5a1212" opacity="0.8" filter="url(#blur1)"/>
<circle cx="829.09" cy="1091.70" r="2.28" fill="#5a1212" opacity="0.8" filter="url(#blur1)"/>
<circle cx="808.26" cy="1128.17" r="2.40" fill="#5a1212" opacity="0.8" filter="url(#blur1)"/>
<circle cx="851.55" cy="1176.28" r="2.77" fill="#5a1212" opacity="0.8" filter="url(#blur1)"/>
<circle cx="891.29" cy="1165.62" r="2.19" fill="#e02222" filter="url(#blur1)"/>
<circle cx="800.78" cy="1179.73" r="1.96" fill="#b81818" filter="url(#blur1)"/>
<circle cx="809.40" cy="1191.32" r="2.65" fill="#b81818" filter="url(#blur1)"/>
<circle cx="825.87" cy="1112.12" r="2.53" fill="#e02222" filter="url(#blur1)"/>
<circle cx="790.47" cy="1100.45" r="2.29" fill="#f03030" filter="url(#blur1)"/>
<circle cx="876.61" cy="1189.95" r="2.72" fill="#e02222" filter="url(#blur1)"/>
<circle cx="837.44" cy="1087.04" r="2.13" fill="#b81818" filter="url(#blur1)"/>
<circle cx="790.87" cy="1130.93" r="2.16" fill="#f03030" filter="url(#blur1)"/>
<circle cx="828.81" cy="1080.36" r="2.14" fill="#d01c1c" filter="url(#blur1)"/>
<circle cx="820.61" cy="1084.83" r="1.93" fill="#e02222" filter="url(#blur1)"/>
<circle cx="874.53" cy="1103.97" r="1.91" fill="#d01c1c" filter="url(#blur1)"/>
<circle cx="792.67" cy="1120.25" r="2.66" fill="#f03030" filter="url(#blur1)"/>
<circle cx="814.22" cy="1188.80" r="2.42" fill="#e02222" filter="url(#blur1)"/>
<circle cx="886.75" cy="1183.59" r="2.36" fill="#b81818" filter="url(#blur1)"/>
<circle cx="811.33" cy="1149.79" r="2.52" fill="#f03030" filter="url(#blur1)"/>
<circle cx="839.01" cy="1099.29" r="1.95" fill="#b81818" filter="url(#blur1)"/>
<circle cx="876.43" cy="1183.10" r="1.83" fill="#e02222" filter="url(#blur1)"/>
</g>
<rect x="878.90" y="1181.00" width="18.50" height="3.00" fill="#fff"/>
<rect x="536.30" y="723.00" width="4.20" height="229.50" fill="#000"/>
<rect x="536.30" y="962.00" width="4.20" height="233.00" fill="#000"/>
<text transform="translate(518.20,927.08) rotate(-90)" x="0" y="0" font-size="30.38" font-family="Liberation Sans" fill="#000">1st Re-HFD</text>
<text transform="translate(520.10,1156.37) rotate(-90)" x="0" y="0" font-size="30.68" font-family="Liberation Sans" fill="#000">4th Re-HFD</text>
<text x="909.14" y="777.30" font-size="27.01" font-family="Liberation Sans" fill="#000">EmGFP</text>
<text x="935.52" y="809.20" font-size="26.93" font-family="Liberation Sans" fill="#000">only</text>
<text x="919.78" y="888.50" font-size="27.72" font-family="Liberation Sans" fill="#000">Lepr</text>
<text x="909.71" y="920.10" font-size="26.32" font-family="Liberation Sans" fill="#000">shRNA</text>
<text x="908.34" y="1017.20" font-size="27.04" font-family="Liberation Sans" fill="#000">EmGFP</text>
<text x="936.05" y="1048.50" font-size="26.15" font-family="Liberation Sans" fill="#000">only</text>
<text x="919.78" y="1125.60" font-size="27.72" font-family="Liberation Sans" fill="#000">Lepr</text>
<text x="909.71" y="1156.60" font-size="26.32" font-family="Liberation Sans" fill="#000">shRNA</text>
<text x="1043.62" y="679.00" font-size="42.00" font-family="Liberation Sans" font-weight="bold" fill="#000">g</text>
<rect x="1192.00" y="687.40" width="16.80" height="14.00" fill="#85858a"/>
<rect x="1192.00" y="719.20" width="16.80" height="13.30" fill="#9b2a9b"/>
<text x="1215.85" y="701.10" font-size="28.73" font-family="Liberation Sans" fill="#000">1st Re-HFD</text>
<text x="1215.88" y="734.90" font-size="28.69" font-family="Liberation Sans" fill="#000">4th Re-HFD</text>
<rect x="1190.80" y="974.80" width="37.10" height="156.60" fill="#85858a"/>
<rect x="1247.20" y="1101.30" width="38.00" height="30.10" fill="#9b2a9b"/>
<rect x="1336.90" y="975.30" width="37.50" height="156.10" fill="#85858a"/>
<rect x="1393.50" y="1012.50" width="38.00" height="118.90" fill="#9b2a9b"/>
<path d="M1155.30,760.50 H1172.00 V1131.30 H1451.00" fill="none" stroke="#000" stroke-width="2.0"/>
<line x1="1155.30" y1="760.50" x2="1172.00" y2="760.50" stroke="#000" stroke-width="2.0"/>
<text x="1106.45" y="770.92" font-size="27.60" font-family="Liberation Sans" fill="#000">150</text>
<line x1="1155.30" y1="884.40" x2="1172.00" y2="884.40" stroke="#000" stroke-width="2.0"/>
<text x="1106.45" y="895.22" font-size="27.60" font-family="Liberation Sans" fill="#000">100</text>
<line x1="1155.30" y1="1008.00" x2="1172.00" y2="1008.00" stroke="#000" stroke-width="2.0"/>
<text x="1121.77" y="1018.32" font-size="27.60" font-family="Liberation Sans" fill="#000">50</text>
<line x1="1155.30" y1="1131.30" x2="1172.00" y2="1131.30" stroke="#000" stroke-width="2.0"/>
<text x="1137.09" y="1142.32" font-size="27.60" font-family="Liberation Sans" fill="#000">0</text>
<line x1="1209.50" y1="974.80" x2="1209.50" y2="947.50" stroke="#000" stroke-width="2.2"/>
<line x1="1199.00" y1="947.50" x2="1220.00" y2="947.50" stroke="#000" stroke-width="2.2"/>
<line x1="1266.20" y1="1101.30" x2="1266.20" y2="1086.50" stroke="#000" stroke-width="2.2"/>
<line x1="1255.70" y1="1086.50" x2="1276.70" y2="1086.50" stroke="#000" stroke-width="2.2"/>
<line x1="1355.70" y1="975.30" x2="1355.70" y2="951.50" stroke="#000" stroke-width="2.2"/>
<line x1="1345.20" y1="951.50" x2="1366.20" y2="951.50" stroke="#000" stroke-width="2.2"/>
<line x1="1412.40" y1="1012.50" x2="1412.40" y2="996.50" stroke="#000" stroke-width="2.2"/>
<line x1="1401.90" y1="996.50" x2="1422.90" y2="996.50" stroke="#000" stroke-width="2.2"/>
<circle cx="1195.70" cy="906.00" r="6.80" fill="#000"/>
<circle cx="1223.20" cy="903.20" r="6.80" fill="#000"/>
<circle cx="1209.50" cy="949.20" r="6.80" fill="#000"/>
<circle cx="1209.50" cy="1005.30" r="6.80" fill="#000"/>
<circle cx="1209.50" cy="1020.30" r="6.80" fill="#000"/>
<circle cx="1209.50" cy="1060.80" r="6.80" fill="#000"/>
<rect x="1259.40" y="1044.80" width="13.40" height="13.40" fill="#000"/>
<rect x="1246.30" y="1094.00" width="13.40" height="13.40" fill="#000"/>
<rect x="1273.30" y="1087.90" width="13.40" height="13.40" fill="#000"/>
<rect x="1246.30" y="1121.60" width="13.40" height="13.40" fill="#000"/>
<rect x="1273.30" y="1118.70" width="13.40" height="13.40" fill="#000"/>
<polygon points="1348.95,924.10 1362.45,924.10 1355.70,912.10" fill="#000"/>
<polygon points="1348.95,939.50 1362.45,939.50 1355.70,927.50" fill="#000"/>
<polygon points="1348.95,979.70 1362.45,979.70 1355.70,967.70" fill="#000"/>
<polygon points="1348.95,1014.10 1362.45,1014.10 1355.70,1002.10" fill="#000"/>
<polygon points="1348.95,1051.30 1362.45,1051.30 1355.70,1039.30" fill="#000"/>
<polygon points="1405.65,929.20 1419.15,929.20 1412.40,941.20" fill="#000"/>
<polygon points="1405.65,953.70 1419.15,953.70 1412.40,965.70" fill="#000"/>
<polygon points="1405.65,996.80 1419.15,996.80 1412.40,1008.80" fill="#000"/>
<polygon points="1405.65,1014.30 1419.15,1014.30 1412.40,1026.30" fill="#000"/>
<polygon points="1391.95,1024.80 1405.45,1024.80 1398.70,1036.80" fill="#000"/>
<polygon points="1419.45,1024.80 1432.95,1024.80 1426.20,1036.80" fill="#000"/>
<polygon points="1405.65,1029.50 1419.15,1029.50 1412.40,1041.50" fill="#000"/>
<polygon points="1405.65,1071.20 1419.15,1071.20 1412.40,1083.20" fill="#000"/>
<path d="M1208.5,855.8 V834.8 H1256.3 V1005.2" fill="none" stroke="#222" stroke-width="2"/>
<path d="M1271.5,1005.2 V834.8 H1412.7 V866.8" fill="none" stroke="#222" stroke-width="2"/>
<use href="#ast" transform="translate(1211.50,814.50) scale(1.208)" fill="#111"/>
<use href="#ast" transform="translate(1231.10,814.50) scale(1.208)" fill="#111"/>
<use href="#ast" transform="translate(1250.50,814.50) scale(1.208)" fill="#111"/>
<use href="#dag" transform="translate(1336.50,799.30) scale(1.104)" fill="#111"/>
<use href="#dag" transform="translate(1353.20,799.30) scale(1.104)" fill="#111"/>
<text x="1195.99" y="1164.00" font-size="25.08" font-family="Liberation Sans" fill="#000">EmGFP</text>
<text x="1221.11" y="1193.00" font-size="24.80" font-family="Liberation Sans" fill="#000">only</text>
<text x="1363.83" y="1164.00" font-size="25.83" font-family="Liberation Sans" fill="#000">Lepr</text>
<text x="1354.16" y="1193.00" font-size="24.72" font-family="Liberation Sans" fill="#000">shRNA</text>
<text transform="translate(1091.52,1141.00) rotate(-90)" x="0" y="0" font-size="27" font-family="Liberation Sans" fill="#000" textLength="380.0" lengthAdjust="spacingAndGlyphs">c-fos<tspan dy="-11" font-size="18">+</tspan><tspan dy="11"> cell per mm</tspan><tspan dy="-11" font-size="18">2</tspan><tspan dy="11"> in the LH</tspan></text>
</svg></body></html>
